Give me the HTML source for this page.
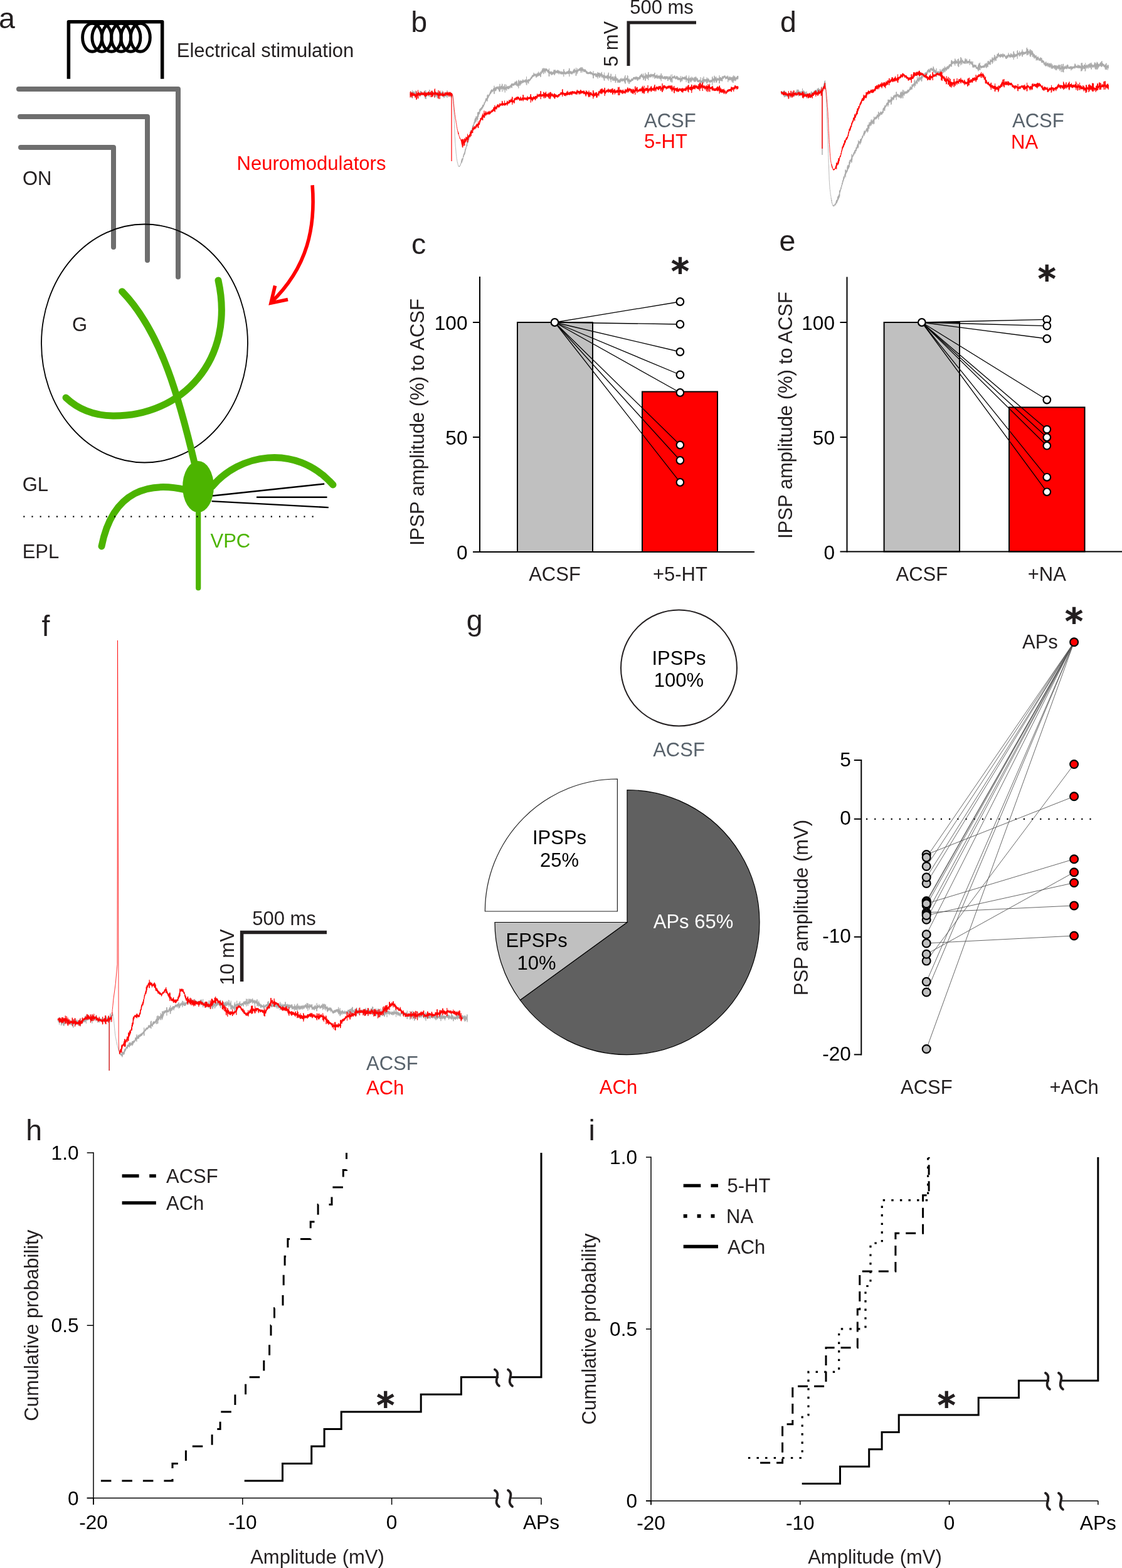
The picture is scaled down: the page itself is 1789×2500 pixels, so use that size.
<!DOCTYPE html>
<html lang="en"><head><meta charset="utf-8"><title>Figure</title>
<style>
html,body{margin:0;padding:0;background:#fff;}
body{width:1789px;height:2500px;overflow:hidden;}
svg{display:block;font-family:"Liberation Sans",Arial,Helvetica,sans-serif;}
</style></head><body>
<svg width="1789" height="2500" viewBox="0 0 1789 2500">
<rect width="1789" height="2500" fill="#ffffff"/>
<text x="-2" y="45.3" font-size="46.5" fill="#231f20" text-anchor="start">a</text>
<path d="M109.4 125.8 V34.8 H258.7 V125.8" stroke="#000" stroke-width="5.5" fill="none" stroke-linejoin="round"/>
<ellipse cx="147.1" cy="59.8" rx="15.5" ry="22.4" fill="none" stroke="#000" stroke-width="4.9"/>
<ellipse cx="162.4" cy="59.8" rx="15.5" ry="22.4" fill="none" stroke="#000" stroke-width="4.9"/>
<ellipse cx="177.8" cy="59.8" rx="15.5" ry="22.4" fill="none" stroke="#000" stroke-width="4.9"/>
<ellipse cx="193.1" cy="59.8" rx="15.5" ry="22.4" fill="none" stroke="#000" stroke-width="4.9"/>
<ellipse cx="208.4" cy="59.8" rx="15.5" ry="22.4" fill="none" stroke="#000" stroke-width="4.9"/>
<ellipse cx="223.8" cy="59.8" rx="15.5" ry="22.4" fill="none" stroke="#000" stroke-width="4.9"/>
<text x="281.8" y="91.3" font-size="31.0" fill="#231f20" text-anchor="start">Electrical stimulation</text>
<path d="M30 142 H284 V441.5" stroke="#6e6e6e" stroke-width="8" fill="none" stroke-linecap="round" stroke-linejoin="round"/>
<path d="M32 186 H235 V415" stroke="#6e6e6e" stroke-width="8" fill="none" stroke-linecap="round" stroke-linejoin="round"/>
<path d="M33 235 H181 V394" stroke="#6e6e6e" stroke-width="8" fill="none" stroke-linecap="round" stroke-linejoin="round"/>
<text x="36" y="294.5" font-size="31.0" fill="#231f20" text-anchor="start">ON</text>
<text x="377.6" y="270.9" font-size="31.0" fill="#ff0000" text-anchor="start">Neuromodulators</text>
<path d="M498.1 295.3 C503 360 492 425 432 482.5" stroke="#ff0000" stroke-width="5.6" fill="none"/>
<path d="M438.6 455.5 L432 483.2 L459 477.4" stroke="#ff0000" stroke-width="5.6" fill="none" stroke-linejoin="miter"/>
<ellipse cx="230.5" cy="547.5" rx="164.5" ry="190" fill="none" stroke="#000" stroke-width="1.8"/>
<text x="115" y="528" font-size="31.0" fill="#231f20" text-anchor="start">G</text>
<path d="M194.6 464.7 C258 530 287 640 311 742" stroke="#4cb400" stroke-width="11" fill="none" stroke-linecap="round" stroke-linejoin="round"/>
<path d="M348 447 C376 574 290 664 180 663 C150 662.5 125 653 105 634" stroke="#4cb400" stroke-width="11" fill="none" stroke-linecap="round" stroke-linejoin="round"/>
<path d="M338 776 C380 725 470 705 531 773" stroke="#4cb400" stroke-width="11" fill="none" stroke-linecap="round" stroke-linejoin="round"/>
<path d="M296 781 C240 768 180 780 162 871" stroke="#4cb400" stroke-width="11" fill="none" stroke-linecap="round" stroke-linejoin="round"/>
<path d="M316.2 800 V937.5" stroke="#4cb400" stroke-width="8.2" fill="none" stroke-linecap="round" stroke-linejoin="round"/>
<ellipse cx="316" cy="776" rx="24.9" ry="41" fill="#4cb400"/>
<line x1="339" y1="790.5" x2="517.2" y2="771.5" stroke="#000" stroke-width="2.4"/>
<line x1="409" y1="792.8" x2="521.5" y2="792.8" stroke="#000" stroke-width="2.4"/>
<line x1="337.6" y1="799.1" x2="523.8" y2="809.1" stroke="#000" stroke-width="2.4"/>
<line x1="37.3" y1="823.6" x2="502" y2="823.6" stroke="#000" stroke-width="2.1" stroke-dasharray="2.1 11.05"/>
<text x="35.7" y="782.6" font-size="31.0" fill="#231f20" text-anchor="start">GL</text>
<text x="35.7" y="889.6" font-size="31.0" fill="#231f20" text-anchor="start">EPL</text>
<text x="335.5" y="873" font-size="31.0" fill="#4cb400" text-anchor="start">VPC</text>
<text x="655.3" y="50.8" font-size="46.5" fill="#231f20" text-anchor="start">b</text>
<path d="M1002 105 V36 H1110" stroke="#231f20" stroke-width="5" fill="none"/>
<text x="1055" y="21.5" font-size="31.0" fill="#231f20" text-anchor="middle">500 ms</text>
<text x="985" y="70" font-size="31.0" fill="#231f20" text-anchor="middle" transform="rotate(-90 985 70)">5 mV</text>
<polyline points="654,148.8 654.2,152.5 654.5,146.4 654.8,154.4 655,145.5 655.2,151.6 655.5,148.4 655.8,154.1 656,147.5 656.2,151.5 656.5,148.7 656.8,151.3 657,148.2 657.2,156.7 657.5,143.8 657.8,156.6 658,148.5 658.2,150.5 658.5,146.3 658.8,149.9 659,146.5 659.2,149.8 659.5,146.5 659.8,148.7 660,145.6 660.2,148.9 660.5,146.5 660.8,149.2 661,147.4 661.2,150 661.5,148 661.8,150.7 662,148.2 662.2,151.8 662.5,144.7 662.8,154.5 663,144.8 663.2,151.5 663.5,148.1 663.8,150.6 664,147.8 664.2,152.1 664.5,148.6 664.8,152.2 665,149.8 665.2,152.1 665.5,148.8 665.8,153 666,148.5 666.2,151.6 666.5,149.1 666.8,151.8 667,148.3 667.2,151.2 667.5,147.8 667.8,151.7 668,149.5 668.2,152.4 668.5,148.3 668.8,153.4 669,147.9 669.2,151.4 669.5,145.3 669.8,154.5 670,145.1 670.2,150.4 670.5,148.5 670.8,151.1 671,146.5 671.2,152.4 671.5,145 671.8,151.5 672,146.3 672.2,151.3 672.5,147.9 672.8,151.7 673,147.2 673.2,151.7 673.5,148 673.8,151.7 674,148.8 674.2,151.7 674.5,149.4 674.8,151.6 675,148.8 675.2,151.6 675.5,148.3 675.8,150.9 676,146.9 676.2,151.2 676.5,145.4 676.8,153.1 677,147.6 677.2,152.4 677.5,149.8 677.8,156.9 678,143.8 678.2,156.3 678.5,149.7 678.8,157.8 679,144.5 679.2,158 679.5,149.6 679.8,153.6 680,150 680.2,152.2 680.5,148.4 680.8,153.6 681,147.4 681.2,152.1 681.5,148.4 681.8,152.1 682,148.3 682.2,151.9 682.5,149.1 682.8,152.5 683,148.8 683.2,153.5 683.5,146.7 683.8,152.5 684,148.5 684.2,150.3 684.5,143.2 684.8,154.6 685,143 685.2,152 685.5,148.7 685.8,150.4 686,148 686.2,150.7 686.5,146.8 686.8,149.4 687,147.5 687.2,150.1 687.5,147.9 687.8,150.7 688,148.1 688.2,150.4 688.5,146.8 688.8,150.2 689,147.5 689.2,151.7 689.5,148.3 689.8,153.9 690,145.5 690.2,153.9 690.5,147.3 690.8,151.5 691,148.9 691.2,151.2 691.5,148.4 691.8,151.1 692,149.1 692.2,152.6 692.5,145.5 692.8,156 693,147.1 693.2,152.7 693.5,147.8 693.8,152.2 694,149.4 694.2,152.1 694.5,149.6 694.8,153.1 695,149 695.2,154.4 695.5,150.1 695.8,153.2 696,149.5 696.2,152 696.5,149.5 696.8,154.5 697,146.6 697.2,156.7 697.5,150.1 697.8,151.6 698,147.2 698.2,152.1 698.5,146.8 698.8,151.6 699,148 699.2,151.5 699.5,148.1 699.8,152.5 700,148.1 700.2,152.3 700.5,146.3 700.8,152 701,146.7 701.2,150.7 701.5,147.3 701.8,150.2 702,146.7 702.2,150.4 702.5,147.3 702.8,149.3 703,147.4 703.2,149.7 703.5,147.2 703.8,150.4 704,147.3 704.2,151 704.5,148.3 704.8,153.7 705,144.5 705.2,153.8 705.5,147.7 705.8,151.2 706,148.8 706.2,152.5 706.5,149.1 706.8,152.8 707,150 707.2,154.5 707.5,148.5 707.8,156.3 708,150.9 708.2,154.8 708.5,147.6 708.8,155.3 709,150.1 709.2,152.6 709.5,148.9 709.8,153 710,150.1 710.2,153.5 710.5,149.5 710.8,154 711,149.3 711.2,153.4 711.5,149.5 711.8,152.5 712,149.2 712.2,152.2 712.5,148.8 712.8,155.6 713,144.1 713.2,155.3 713.5,148.4 713.8,152.2 714,148.6 714.2,151.1 714.5,148.4 714.8,151.6 715,148.3 715.2,151 715.5,148.9 715.8,152.3 716,149.3 716.2,151.7 716.5,148.3 716.8,151.9 717,149 717.2,153.3 717.5,149.6 717.8,152.7 718,149.6 718.2,154.3 718.5,149.5 718.8,152.8 719,150.3 719.2,155.6 719.5,147.8 719.8,155.1 720,149.8 720.2,153.5 720.5,150.4 720.8,151.7 721,150.9 721.2,151.8 721.5,151.1 721.8,152.5 722,151.9 722.2,153.7 722.5,155.1 722.8,160.2 723,161.6 723.2,169.5 723.5,172.6 723.8,179.7 724,185.5 724.2,192.5 724.5,198.3 724.8,205.6 725,210.3 725.2,217.6 725.5,221 725.8,227 726,229.5 726.2,233.3 726.5,235.4 726.8,239 727,241.3 727.2,244.4 727.5,246.5 727.8,249.5 728,251 728.2,253.9 728.5,254 728.8,256.6 729,257.2 729.2,259 729.5,259 729.8,260.8 730,261.1 730.2,262.8 730.5,262.9 730.8,264.3 731,264.3 731.2,265.2 731.5,264.8 731.8,265.7 732,265.3 732.2,266 732.5,265.1 732.8,265.8 733,264.5 733.2,264.8 733.5,263.6 733.8,263.8 734,262.5 734.2,263.3 734.5,261.2 734.8,261.4 735,259.9 735.2,260.6 735.5,257.1 735.8,259.3 736,254.9 736.2,259.4 736.5,252.8 736.8,258.2 737,254.5 737.2,256 737.5,252.9 737.8,255.5 738,251.9 738.2,253.3 738.5,248.9 738.8,250.5 739,247.4 739.2,250 739.5,245 739.8,248 740,244.7 740.2,247 740.5,243.5 740.8,245.7 741,241.6 741.2,245.3 741.5,238.1 741.8,242.5 742,237.8 742.2,239.8 742.5,236.2 742.8,238.2 743,234.9 743.2,236.3 743.5,233 743.8,234.2 744,230.2 744.2,233.3 744.5,227.4 744.8,232.6 745,225.9 745.2,229 745.5,225.7 745.8,228.1 746,224.2 746.2,227.5 746.5,222.8 746.8,225.9 747,221.1 747.2,224.1 747.5,219.2 747.8,222.2 748,217.1 748.2,220.6 748.5,216.3 748.8,218.7 749,214.4 749.2,217.2 749.5,212.4 749.8,215.3 750,210.9 750.2,213.2 750.5,209.7 750.8,211.9 751,207.9 751.2,211.1 751.5,207 751.8,210.9 752,207.3 752.2,208.3 752.5,204.9 752.8,207 753,204.1 753.2,206.2 753.5,200.9 753.8,204.4 754,199.8 754.2,202.2 754.5,199.8 754.8,202 755,198.1 755.2,201.8 755.5,196 755.8,198.5 756,194.6 756.2,197.3 756.5,193.4 756.8,196.9 757,190.6 757.2,195.5 757.5,189.1 757.8,195.4 758,187.9 758.2,192.6 758.5,188.8 758.8,194.4 759,185.3 759.2,193.6 759.5,188 759.8,190.1 760,186.6 760.2,190.2 760.5,186.3 760.8,188.7 761,184.9 761.2,192.2 761.5,179.1 761.8,190.7 762,181 762.2,186.4 762.5,178.3 762.8,186.2 763,179.4 763.2,183.1 763.5,179.1 763.8,182.1 764,178.2 764.2,182.2 764.5,174.4 764.8,180.9 765,176.5 765.2,178.3 765.5,173.1 765.8,177.2 766,172.8 766.2,176.9 766.5,172.4 766.8,176 767,173.2 767.2,175.4 767.5,171.1 767.8,174.5 768,171.3 768.2,174.7 768.5,169.8 768.8,173.6 769,169.8 769.2,172.2 769.5,167.2 769.8,172.5 770,166.9 770.2,171 770.5,167.2 770.8,169.8 771,167.5 771.2,169.8 771.5,165.8 771.8,167.8 772,163.4 772.2,167.2 772.5,164.1 772.8,165.8 773,162.6 773.2,163.9 773.5,161.1 773.8,163.7 774,159.7 774.2,162.2 774.5,156.8 774.8,160.4 775,158.2 775.2,161.3 775.5,156.7 775.8,161 776,157.4 776.2,159.8 776.5,156.3 776.8,158.3 777,151.7 777.2,161.7 777.5,150.7 777.8,157.4 778,152.2 778.2,156.3 778.5,153.2 778.8,155.6 779,151.4 779.2,154.2 779.5,150.9 779.8,153.4 780,150.6 780.2,152.6 780.5,149.7 780.8,152 781,148.3 781.2,150.7 781.5,146.2 781.8,149.8 782,146.6 782.2,149.8 782.5,144 782.8,148.8 783,145 783.2,148.2 783.5,142.9 783.8,147 784,142.6 784.2,145.9 784.5,142.8 784.8,145.6 785,143.8 785.2,146.9 785.5,143.5 785.8,146 786,143.5 786.2,145.1 786.5,140.9 786.8,144.5 787,141.5 787.2,144.1 787.5,140.6 787.8,149.6 788,136.7 788.2,149.6 788.5,139.7 788.8,145 789,139.7 789.2,143.9 789.5,140.9 789.8,144.9 790,139.5 790.2,145.5 790.5,139.1 790.8,144.4 791,138.4 791.2,143.8 791.5,139 791.8,141.8 792,139.2 792.2,141.8 792.5,138 792.8,140.5 793,137.7 793.2,141.3 793.5,139 793.8,141.6 794,138.7 794.2,142.2 794.5,139.4 794.8,142.9 795,137.9 795.2,142.3 795.5,140.4 795.8,145.6 796,137 796.2,144.5 796.5,138.9 796.8,146.5 797,133.8 797.2,145.8 797.5,138.4 797.8,141.5 798,139.3 798.2,142.9 798.5,137.5 798.8,141.5 799,137.8 799.2,140.7 799.5,137.3 799.8,142.3 800,136.5 800.2,140.3 800.5,133.6 800.8,146.3 801,134.3 801.2,141.6 801.5,138.5 801.8,141.5 802,138.2 802.2,142 802.5,138.3 802.8,142.1 803,137.5 803.2,144.2 803.5,136.8 803.8,142.1 804,139.1 804.2,142.1 804.5,139 804.8,142.6 805,134.4 805.2,147.5 805.5,134.5 805.8,142.6 806,140.2 806.2,142.7 806.5,138.9 806.8,141.6 807,138.4 807.2,143.6 807.5,135 807.8,144.6 808,138.1 808.2,140.3 808.5,138 808.8,141.1 809,137.6 809.2,141.3 809.5,138.2 809.8,142 810,137.3 810.2,141.4 810.5,138.2 810.8,142 811,137.1 811.2,142.3 811.5,138 811.8,140 812,137.5 812.2,140.1 812.5,137.7 812.8,139.6 813,136.4 813.2,141.1 813.5,136.2 813.8,139.8 814,135.9 814.2,139 814.5,135.2 814.8,137.6 815,134.5 815.2,138.1 815.5,133.4 815.8,140 816,133.1 816.2,140.3 816.5,134.9 816.8,136.3 817,133.2 817.2,136.2 817.5,133.2 817.8,136.8 818,133.4 818.2,136.3 818.5,133.4 818.8,135.9 819,133.5 819.2,136.9 819.5,133 819.8,135.5 820,132.5 820.2,135.1 820.5,131.9 820.8,135.7 821,130.3 821.2,134.9 821.5,131.8 821.8,134.8 822,130.5 822.2,135.7 822.5,130 822.8,133.7 823,131.2 823.2,136.2 823.5,128.5 823.8,136.9 824,129.3 824.2,135.2 824.5,130.7 824.8,135.4 825,133.9 825.2,138 825.5,133.5 825.8,137.2 826,133.8 826.2,137.4 826.5,128.4 826.8,140.8 827,127.2 827.2,135.6 827.5,130 827.8,136.8 828,129.6 828.2,134.6 828.5,130.6 828.8,134.6 829,129.1 829.2,136.8 829.5,127.9 829.8,133.6 830,129.2 830.2,135.1 830.5,128.9 830.8,132.6 831,130 831.2,134 831.5,128.7 831.8,131.7 832,129.2 832.2,132 832.5,128.8 832.8,131.8 833,128.9 833.2,132.8 833.5,126.8 833.8,132.1 834,126.7 834.2,131.4 834.5,128.1 834.8,131.2 835,128.7 835.2,131.3 835.5,129.2 835.8,131.2 836,128 836.2,130.8 836.5,127.2 836.8,130.3 837,128.4 837.2,131 837.5,128.2 837.8,130.8 838,126.8 838.2,132.1 838.5,127.1 838.8,130.7 839,126 839.2,134.6 839.5,122 839.8,135.8 840,127.9 840.2,130.8 840.5,128 840.8,130.6 841,127.7 841.2,130 841.5,126.8 841.8,132.1 842,127.5 842.2,133.2 842.5,126.2 842.8,133.2 843,128.2 843.2,129.5 843.5,127 843.8,129.4 844,126.2 844.2,129.3 844.5,126.8 844.8,129.1 845,125.5 845.2,128.1 845.5,124.9 845.8,127.7 846,124.9 846.2,126.9 846.5,122.8 846.8,125.9 847,123.1 847.2,125.7 847.5,122.9 847.8,124.6 848,121.3 848.2,124.9 848.5,119.9 848.8,123.2 849,120.1 849.2,123.1 849.5,119.9 849.8,122.8 850,119.3 850.2,121.9 850.5,118.8 850.8,121 851,115.9 851.2,122.2 851.5,118 851.8,120.5 852,117.7 852.2,121.3 852.5,118 852.8,120.3 853,117.5 853.2,120.9 853.5,118.3 853.8,120.1 854,118.3 854.2,121.7 854.5,118.8 854.8,123.5 855,117.4 855.2,123.5 855.5,118.8 855.8,121.6 856,118.8 856.2,121.4 856.5,117.2 856.8,122.3 857,117 857.2,121.8 857.5,116.7 857.8,120 858,115.7 858.2,121.3 858.5,114.2 858.8,121.1 859,116.7 859.2,120.2 859.5,117.1 859.8,121 860,116.6 860.2,120 860.5,115.7 860.8,120.1 861,118.2 861.2,120.4 861.5,117.5 861.8,122.8 862,114.2 862.2,122.4 862.5,115.6 862.8,118.2 863,114.2 863.2,117.8 863.5,113.6 863.8,115.7 864,111.9 864.2,115 864.5,111 864.8,114.1 865,108.9 865.2,116.6 865.5,110.3 865.8,114.8 866,111.6 866.2,114.6 866.5,108.9 866.8,118.1 867,108.4 867.2,113.3 867.5,110.5 867.8,113.4 868,110.4 868.2,114.2 868.5,109.2 868.8,115.4 869,108.8 869.2,116.6 869.5,110.2 869.8,112.9 870,109.7 870.2,113.5 870.5,109.8 870.8,113.5 871,109 871.2,112 871.5,109.7 871.8,112.8 872,109.9 872.2,113.5 872.5,110.3 872.8,114.2 873,112.3 873.2,114.9 873.5,111.6 873.8,115.6 874,112.5 874.2,116.3 874.5,111 874.8,116.5 875,113 875.2,121.8 875.5,109 875.8,121.9 876,113.9 876.2,117.7 876.5,114.2 876.8,116.9 877,113.6 877.2,117.5 877.5,114.8 877.8,117.8 878,114.8 878.2,118.5 878.5,114.3 878.8,116.6 879,114.4 879.2,119.2 879.5,113.6 879.8,120.1 880,115 880.2,118.5 880.5,115.4 880.8,118.8 881,116.1 881.2,118.6 881.5,114.3 881.8,117.8 882,115.1 882.2,117.9 882.5,114.5 882.8,116.7 883,111.6 883.2,118.5 883.5,111.8 883.8,119 884,111.3 884.2,120.1 884.5,112.7 884.8,116.3 885,112 885.2,118.1 885.5,111.2 885.8,116.7 886,113.1 886.2,116 886.5,113.3 886.8,116.2 887,113.1 887.2,115.8 887.5,112.8 887.8,116.7 888,112.5 888.2,116 888.5,112.6 888.8,115.6 889,112.4 889.2,117.1 889.5,111.3 889.8,117 890,112.4 890.2,116.8 890.5,113.5 890.8,115.8 891,112.6 891.2,118.6 891.5,112.8 891.8,116.4 892,114 892.2,117 892.5,113.5 892.8,117 893,114.8 893.2,117.2 893.5,115 893.8,117.8 894,113.6 894.2,118.5 894.5,114.9 894.8,117.6 895,113.6 895.2,117.9 895.5,114.9 895.8,118 896,115.2 896.2,118.6 896.5,114.5 896.8,118.7 897,114.6 897.2,117.3 897.5,114.9 897.8,117.9 898,114.8 898.2,118.1 898.5,111.3 898.8,122.2 899,110.1 899.2,118.2 899.5,114.6 899.8,118.1 900,115.4 900.2,118.2 900.5,113.4 900.8,117.2 901,115 901.2,117.7 901.5,115.4 901.8,118.7 902,116 902.2,118.6 902.5,115.7 902.8,117.8 903,114.4 903.2,117.8 903.5,113.9 903.8,117.5 904,114.6 904.2,117.8 904.5,114.1 904.8,116.4 905,113.5 905.2,116.3 905.5,113.6 905.8,117.9 906,113.9 906.2,116.4 906.5,112.8 906.8,118.2 907,111.7 907.2,117.8 907.5,108.8 907.8,122.1 908,109.3 908.2,117.2 908.5,113.7 908.8,116.8 909,113.2 909.2,117.3 909.5,113.9 909.8,117.4 910,113.8 910.2,117 910.5,113.6 910.8,118.3 911,113.6 911.2,117.6 911.5,115.3 911.8,117.5 912,114.4 912.2,118.6 912.5,114.7 912.8,117.6 913,114.1 913.2,116.7 913.5,113.2 913.8,115.8 914,112.2 914.2,116.1 914.5,111.5 914.8,115.3 915,110.7 915.2,117.2 915.5,109.9 915.8,116.3 916,109.5 916.2,115.6 916.5,111 916.8,114.9 917,111.7 917.2,114.6 917.5,112.1 917.8,115 918,112.6 918.2,120.8 918.5,107.9 918.8,120.5 919,111.9 919.2,115.5 919.5,111.7 919.8,114.7 920,112 920.2,118.1 920.5,108.8 920.8,116.2 921,111.1 921.2,114 921.5,111.1 921.8,114.4 922,110.7 922.2,112.7 922.5,110.1 922.8,112.5 923,109.9 923.2,112.9 923.5,109.6 923.8,112.9 924,109.4 924.2,111.6 924.5,108.4 924.8,112.6 925,109.5 925.2,112.8 925.5,108.8 925.8,113.3 926,107.3 926.2,116.1 926.5,107.7 926.8,113 927,110 927.2,113.1 927.5,109.1 927.8,112.9 928,107.2 928.2,115.6 928.5,107.2 928.8,113.1 929,109.1 929.2,112 929.5,109.7 929.8,113 930,109.7 930.2,113.5 930.5,110.7 930.8,114.7 931,110.3 931.2,114.9 931.5,111.6 931.8,114.2 932,111.5 932.2,114.2 932.5,110.7 932.8,114.3 933,110.3 933.2,114.5 933.5,111.2 933.8,114.9 934,112.4 934.2,115.6 934.5,112.3 934.8,116.7 935,113 935.2,116.7 935.5,113.9 935.8,117.8 936,114.2 936.2,117.9 936.5,113.9 936.8,117.3 937,115 937.2,117.5 937.5,115.6 937.8,118.3 938,115.7 938.2,117.7 938.5,115 938.8,117.9 939,115.1 939.2,116.8 939.5,115.1 939.8,118.1 940,115.2 940.2,117.5 940.5,114.1 940.8,117.4 941,114.8 941.2,117.4 941.5,113.7 941.8,117.7 942,114.6 942.2,118.9 942.5,115.2 942.8,118 943,115.4 943.2,117.6 943.5,114.9 943.8,118.3 944,116.1 944.2,118.7 944.5,116.5 944.8,119.8 945,117.6 945.2,120.2 945.5,116.7 945.8,124.7 946,113.3 946.2,124.8 946.5,117.3 946.8,119.9 947,117.4 947.2,120.4 947.5,117 947.8,120.1 948,117.6 948.2,119.6 948.5,117.2 948.8,120.3 949,117.3 949.2,120.1 949.5,117.8 949.8,122 950,116.6 950.2,122.9 950.5,118.9 950.8,121.8 951,117.5 951.2,121 951.5,117.9 951.8,123.2 952,117.9 952.2,122.6 952.5,117.6 952.8,120 953,114.9 953.2,125.3 953.5,115.9 953.8,121.8 954,116 954.2,122.1 954.5,116.6 954.8,120 955,116.1 955.2,121.3 955.5,116.7 955.8,124.1 956,115.9 956.2,123.9 956.5,118.5 956.8,122.3 957,117.2 957.2,121.4 957.5,118.3 957.8,121.5 958,116.9 958.2,121.1 958.5,118.2 958.8,120.7 959,115.5 959.2,123.7 959.5,114.8 959.8,121.7 960,118.9 960.2,122.7 960.5,118.1 960.8,122.8 961,119.8 961.2,123.7 961.5,121.1 961.8,125.2 962,119.7 962.2,123.6 962.5,119.6 962.8,122.5 963,119.5 963.2,128 963.5,115.7 963.8,128.7 964,119.9 964.2,123.6 964.5,120.7 964.8,123.4 965,121.2 965.2,125 965.5,121.9 965.8,124.9 966,120.6 966.2,124.2 966.5,121.8 966.8,124.2 967,121.3 967.2,124.2 967.5,120.7 967.8,125.2 968,120.8 968.2,124.9 968.5,120.2 968.8,126.5 969,119.1 969.2,123.6 969.5,121.2 969.8,125.5 970,116.4 970.2,128.6 970.5,115.7 970.8,124.3 971,121.6 971.2,124.8 971.5,122.2 971.8,124.2 972,121.8 972.2,125.2 972.5,122.2 972.8,125.5 973,120.9 973.2,127.5 973.5,121.1 973.8,126.6 974,117.6 974.2,131.1 974.5,118.1 974.8,125.9 975,122.7 975.2,126.1 975.5,122.8 975.8,126.2 976,124 976.2,126.7 976.5,122 976.8,128.6 977,125.6 977.2,127.4 977.5,121.8 977.8,129.3 978,122.6 978.2,128 978.5,125.6 978.8,127.7 979,124.5 979.2,127.5 979.5,124 979.8,128.9 980,121.5 980.2,129 980.5,122.3 980.8,127.2 981,124.9 981.2,131.9 981.5,118.5 981.8,131.7 982,124.4 982.2,128.6 982.5,122.4 982.8,128.8 983,124.4 983.2,127.2 983.5,124.8 983.8,127.9 984,125.1 984.2,128.9 984.5,126.5 984.8,131.3 985,124.8 985.2,132.1 985.5,127.4 985.8,130.2 986,127.4 986.2,130.2 986.5,126.9 986.8,131.6 987,127.9 987.2,130.7 987.5,127.8 987.8,131.9 988,126.6 988.2,132 988.5,127.2 988.8,130.4 989,125.8 989.2,131.1 989.5,126.7 989.8,128.9 990,125 990.2,129.5 990.5,124.1 990.8,128.7 991,126.6 991.2,128.7 991.5,126.1 991.8,129.5 992,126.5 992.2,130.1 992.5,124.8 992.8,129 993,126.1 993.2,129.1 993.5,125.7 993.8,128.4 994,125.2 994.2,129.5 994.5,126 994.8,128.3 995,125.4 995.2,128.5 995.5,124.8 995.8,131.3 996,122.1 996.2,130.8 996.5,125.7 996.8,133.4 997,119.9 997.2,133.2 997.5,126 997.8,127.7 998,125.1 998.2,127.4 998.5,125 998.8,127.2 999,123.9 999.2,127.4 999.5,124.6 999.8,127.7 1000,124.4 1000.2,129.1 1000.5,120 1000.8,131.5 1001,121 1001.2,128.5 1001.5,126.6 1001.8,129.9 1002,127.3 1002.2,130.1 1002.5,126.1 1002.8,133.3 1003,125.2 1003.2,134 1003.5,126.9 1003.8,130 1004,127.3 1004.2,131.2 1004.5,127.9 1004.8,130.8 1005,127.1 1005.2,131.2 1005.5,127.6 1005.8,131 1006,127 1006.2,130 1006.5,126.3 1006.8,129.5 1007,125 1007.2,128.8 1007.5,126.4 1007.8,128.7 1008,126.6 1008.2,128.8 1008.5,125.4 1008.8,129 1009,125.3 1009.2,127.9 1009.5,124.2 1009.8,127.1 1010,123.1 1010.2,126.4 1010.5,122.9 1010.8,125.2 1011,123.3 1011.2,125.4 1011.5,123.5 1011.8,126.6 1012,122.7 1012.2,126.2 1012.5,123.2 1012.8,126.6 1013,123.5 1013.2,126.8 1013.5,122.8 1013.8,126.9 1014,121.9 1014.2,126.3 1014.5,123.9 1014.8,126.2 1015,122.2 1015.2,125.9 1015.5,122.6 1015.8,126.9 1016,123.6 1016.2,128.8 1016.5,122.8 1016.8,128.5 1017,124 1017.2,125.8 1017.5,123.2 1017.8,127.6 1018,123.6 1018.2,125.8 1018.5,123.1 1018.8,126.3 1019,123.1 1019.2,125.2 1019.5,122.1 1019.8,126.5 1020,121.1 1020.2,124.8 1020.5,120.4 1020.8,126.2 1021,120.5 1021.2,124.6 1021.5,120.4 1021.8,122.4 1022,118.7 1022.2,122.4 1022.5,118.5 1022.8,121.9 1023,119.5 1023.2,122.5 1023.5,117.4 1023.8,123.2 1024,119.1 1024.2,123.6 1024.5,121 1024.8,123.5 1025,120 1025.2,124.3 1025.5,120.8 1025.8,127.5 1026,117.4 1026.2,127.2 1026.5,122 1026.8,124.4 1027,121.4 1027.2,124.7 1027.5,121.3 1027.8,123.4 1028,120.7 1028.2,125.4 1028.5,121.7 1028.8,128.6 1029,116.1 1029.2,128.5 1029.5,120.8 1029.8,122.6 1030,118.9 1030.2,124.7 1030.5,118.5 1030.8,123.1 1031,119.3 1031.2,122.9 1031.5,120.1 1031.8,125.8 1032,118.7 1032.2,125.4 1032.5,120 1032.8,123.4 1033,120 1033.2,123 1033.5,115.3 1033.8,127.9 1034,114.9 1034.2,122.1 1034.5,118.5 1034.8,124.1 1035,119.1 1035.2,122.5 1035.5,119.5 1035.8,121.9 1036,119.7 1036.2,123.1 1036.5,118.6 1036.8,122.9 1037,119.5 1037.2,121.8 1037.5,118.6 1037.8,123.6 1038,117.6 1038.2,122.6 1038.5,118.9 1038.8,122 1039,119.4 1039.2,121.7 1039.5,118.5 1039.8,121.6 1040,118.5 1040.2,121 1040.5,118.7 1040.8,121.6 1041,119 1041.2,124.3 1041.5,118.3 1041.8,121.7 1042,118.4 1042.2,121.5 1042.5,118.3 1042.8,122.1 1043,118.7 1043.2,122.4 1043.5,116.8 1043.8,125.7 1044,115.9 1044.2,124.1 1044.5,120 1044.8,124 1045,120.8 1045.2,124.8 1045.5,120.4 1045.8,123.2 1046,120.4 1046.2,123.3 1046.5,119.9 1046.8,124.4 1047,121 1047.2,123.4 1047.5,118.6 1047.8,125.4 1048,119.5 1048.2,123.8 1048.5,121.5 1048.8,124.2 1049,121.1 1049.2,125.6 1049.5,121.3 1049.8,124.4 1050,121.1 1050.2,123.5 1050.5,120 1050.8,123.7 1051,120.8 1051.2,125.4 1051.5,121.1 1051.8,125.3 1052,122.4 1052.2,125.3 1052.5,120.2 1052.8,126.5 1053,120.1 1053.2,124.7 1053.5,121.2 1053.8,126 1054,117.3 1054.2,129.3 1054.5,117.2 1054.8,124.7 1055,121.6 1055.2,124.7 1055.5,121 1055.8,125.1 1056,120.3 1056.2,125.3 1056.5,120.5 1056.8,124.7 1057,122.8 1057.2,126 1057.5,123.4 1057.8,125.9 1058,122.9 1058.2,124.9 1058.5,122.1 1058.8,125.3 1059,121.7 1059.2,126.3 1059.5,121.6 1059.8,124.8 1060,122.2 1060.2,125 1060.5,121.7 1060.8,126.7 1061,122.4 1061.2,126.6 1061.5,122.4 1061.8,125.8 1062,121.5 1062.2,124.9 1062.5,121.6 1062.8,125.6 1063,121.8 1063.2,125.7 1063.5,122.4 1063.8,125.1 1064,122.9 1064.2,125.9 1064.5,122.2 1064.8,129.1 1065,121.5 1065.2,129 1065.5,124.1 1065.8,126.4 1066,124 1066.2,126 1066.5,122.5 1066.8,125.8 1067,123.7 1067.2,126.9 1067.5,121.6 1067.8,126.9 1068,122.2 1068.2,126.8 1068.5,122.1 1068.8,128.1 1069,122.3 1069.2,130.4 1069.5,119.3 1069.8,130.3 1070,124.2 1070.2,127.7 1070.5,124.1 1070.8,127.3 1071,124.1 1071.2,131.5 1071.5,118.5 1071.8,131.2 1072,122.8 1072.2,125 1072.5,122.2 1072.8,124.9 1073,122 1073.2,124.4 1073.5,121.8 1073.8,124.6 1074,122.1 1074.2,125.2 1074.5,121.4 1074.8,124.8 1075,121.2 1075.2,124 1075.5,120.3 1075.8,124.4 1076,120.7 1076.2,125.1 1076.5,122.8 1076.8,125.8 1077,122.8 1077.2,126.5 1077.5,122.8 1077.8,125.9 1078,123.1 1078.2,125.2 1078.5,121.7 1078.8,125.3 1079,121 1079.2,125.9 1079.5,121.8 1079.8,126.5 1080,121.6 1080.2,126.4 1080.5,123.7 1080.8,127.7 1081,122.6 1081.2,127.3 1081.5,123.5 1081.8,127.1 1082,124.4 1082.2,127.4 1082.5,123.9 1082.8,127.3 1083,124.7 1083.2,127.3 1083.5,124.1 1083.8,127 1084,124.1 1084.2,127.8 1084.5,125.1 1084.8,130.3 1085,121.2 1085.2,131.2 1085.5,125 1085.8,127.7 1086,125 1086.2,128.4 1086.5,124.2 1086.8,126.9 1087,124 1087.2,129.8 1087.5,121.5 1087.8,128.7 1088,123.4 1088.2,126.4 1088.5,123 1088.8,126.1 1089,123.1 1089.2,125.8 1089.5,122.7 1089.8,126.3 1090,123.7 1090.2,125.6 1090.5,123 1090.8,126.5 1091,123.3 1091.2,126.5 1091.5,122.1 1091.8,126.4 1092,122.8 1092.2,125.8 1092.5,122.6 1092.8,127.4 1093,123 1093.2,126.4 1093.5,123.6 1093.8,126.5 1094,120.6 1094.2,130.9 1094.5,120.5 1094.8,127.9 1095,124.1 1095.2,127.8 1095.5,124.2 1095.8,127.6 1096,125.6 1096.2,128 1096.5,125.7 1096.8,129.1 1097,126 1097.2,131.8 1097.5,123.5 1097.8,132.3 1098,125.5 1098.2,133 1098.5,120.6 1098.8,132.9 1099,125.5 1099.2,128 1099.5,124.8 1099.8,127 1100,124.9 1100.2,129.9 1100.5,123.7 1100.8,127.9 1101,126.2 1101.2,130.8 1101.5,123.8 1101.8,131.4 1102,125 1102.2,129.2 1102.5,125.5 1102.8,129.6 1103,122.3 1103.2,126.9 1103.5,124.1 1103.8,127.4 1104,123.8 1104.2,128.5 1104.5,123.9 1104.8,126.3 1105,124.3 1105.2,127.3 1105.5,125.7 1105.8,128.1 1106,125.1 1106.2,129.8 1106.5,125.8 1106.8,128.4 1107,123.1 1107.2,130.6 1107.5,123.8 1107.8,129.1 1108,125.1 1108.2,130.1 1108.5,122.2 1108.8,130.5 1109,123.7 1109.2,129.6 1109.5,124.1 1109.8,127.2 1110,122.4 1110.2,127.1 1110.5,124.4 1110.8,128.7 1111,125.2 1111.2,127.9 1111.5,125.8 1111.8,130 1112,124.4 1112.2,131 1112.5,125.5 1112.8,130.7 1113,127.7 1113.2,131 1113.5,127.5 1113.8,130.8 1114,128 1114.2,130.5 1114.5,128.1 1114.8,131.4 1115,127.6 1115.2,129.9 1115.5,127 1115.8,129.5 1116,126.9 1116.2,130.8 1116.5,127.9 1116.8,136.3 1117,123.1 1117.2,135.9 1117.5,128.6 1117.8,131.1 1118,128.9 1118.2,131.6 1118.5,129 1118.8,131.1 1119,128.1 1119.2,130.9 1119.5,128.5 1119.8,135.2 1120,124.3 1120.2,133.7 1120.5,127.4 1120.8,130.1 1121,127 1121.2,129.7 1121.5,125.8 1121.8,132.6 1122,122 1122.2,132.2 1122.5,125.9 1122.8,129.8 1123,126.2 1123.2,129.5 1123.5,126.3 1123.8,129.2 1124,126.6 1124.2,130.8 1124.5,126.8 1124.8,129.2 1125,126.7 1125.2,129.6 1125.5,126.2 1125.8,129.2 1126,126.7 1126.2,131 1126.5,126.1 1126.8,133.2 1127,123.5 1127.2,132.7 1127.5,126.1 1127.8,130 1128,127.3 1128.2,129.8 1128.5,125.5 1128.8,131.7 1129,124.5 1129.2,129.3 1129.5,126.5 1129.8,129.6 1130,126.8 1130.2,129.8 1130.5,126 1130.8,131 1131,128.5 1131.2,131.4 1131.5,128.2 1131.8,131.3 1132,127.8 1132.2,132.1 1132.5,128 1132.8,131.5 1133,128.2 1133.2,130.3 1133.5,127.3 1133.8,130 1134,127.2 1134.2,131.1 1134.5,128.3 1134.8,130.8 1135,128.2 1135.2,130.2 1135.5,122.9 1135.8,135.6 1136,122.2 1136.2,129.6 1136.5,125.4 1136.8,128.9 1137,125.2 1137.2,127.9 1137.5,125.6 1137.8,129 1138,125.6 1138.2,131.5 1138.5,125.3 1138.8,128.4 1139,120.7 1139.2,131.6 1139.5,121.3 1139.8,128.3 1140,123.3 1140.2,129 1140.5,122.9 1140.8,128.3 1141,125.6 1141.2,127.7 1141.5,124.8 1141.8,131.6 1142,122.2 1142.2,131.7 1142.5,125.8 1142.8,130.3 1143,124.5 1143.2,129.8 1143.5,125 1143.8,128.4 1144,125.5 1144.2,127.5 1144.5,124.5 1144.8,127.9 1145,124.6 1145.2,128.2 1145.5,126 1145.8,128.3 1146,125.2 1146.2,127.9 1146.5,124.6 1146.8,132.5 1147,120.2 1147.2,133 1147.5,123 1147.8,129.5 1148,123.5 1148.2,128.4 1148.5,123.7 1148.8,128.3 1149,122.9 1149.2,128.7 1149.5,123.8 1149.8,128 1150,124.2 1150.2,128.7 1150.5,124.5 1150.8,129.2 1151,124.3 1151.2,129.7 1151.5,121.5 1151.8,129.2 1152,123.5 1152.2,125.6 1152.5,122.6 1152.8,125.4 1153,121.6 1153.2,124.1 1153.5,121.8 1153.8,125.7 1154,121.6 1154.2,124 1154.5,121.1 1154.8,123.4 1155,120.5 1155.2,123.4 1155.5,121 1155.8,123.5 1156,120.4 1156.2,124.1 1156.5,122.7 1156.8,126.4 1157,123.7 1157.2,125.9 1157.5,122.2 1157.8,125.1 1158,121.8 1158.2,125.2 1158.5,122.6 1158.8,125.5 1159,122.4 1159.2,125.8 1159.5,122.4 1159.8,125.1 1160,121.3 1160.2,125.4 1160.5,120.5 1160.8,130.9 1161,122.2 1161.2,128 1161.5,124.6 1161.8,127.6 1162,124.8 1162.2,126.6 1162.5,124 1162.8,128.4 1163,122.2 1163.2,127.6 1163.5,123 1163.8,127 1164,121.9 1164.2,126.8 1164.5,123 1164.8,127.7 1165,123.9 1165.2,127.8 1165.5,124.2 1165.8,126.3 1166,123.2 1166.2,126.1 1166.5,122.9 1166.8,129 1167,123.7 1167.2,130.3 1167.5,123.1 1167.8,131.3 1168,122.9 1168.2,128.9 1168.5,125.5 1168.8,127.7 1169,121.1 1169.2,132.1 1169.5,120 1169.8,127.8 1170,122.5 1170.2,129.2 1170.5,122.5 1170.8,126.9 1171,122.4 1171.2,127.8 1171.5,120.8 1171.8,127.5 1172,122.4 1172.2,129.4 1172.5,124 1172.8,126.3 1173,123.8 1173.2,128.8 1173.5,123.9 1173.8,126.5 1174,123.4 1174.2,126.9 1174.5,122.8 1174.8,125.6 1175,122.7 1175.2,125.6 1175.5,121 1175.8,125.8 1176,121.6 1176.2,126.8 1176.5,120.9 1176.8,125.4 1177,121" fill="none" stroke="#a9a9a9" stroke-width="0.8"/>
<line x1="720" y1="150" x2="720" y2="257" stroke="#ff0000" stroke-width="1.2"/>
<polyline points="654,146.7 654.2,155.4 654.5,145.8 654.8,151.6 655,149 655.2,154.1 655.5,148.9 655.8,151.5 656,147.8 656.2,151.7 656.5,147.8 656.8,155.6 657,146.9 657.2,151.7 657.5,148.8 657.8,153 658,148.8 658.2,152.5 658.5,149.5 658.8,153.2 659,148.3 659.2,152 659.5,149.1 659.8,152.1 660,148.8 660.2,152.8 660.5,149.8 660.8,153 661,149.7 661.2,152.8 661.5,150.9 661.8,155.5 662,149.8 662.2,155.2 662.5,150.1 662.8,152.6 663,151.1 663.2,153.7 663.5,151.4 663.8,158.7 664,145.6 664.2,158.6 664.5,149.6 664.8,154.4 665,148.7 665.2,152.5 665.5,148.6 665.8,151.3 666,148.9 666.2,156.7 666.5,143.6 666.8,157.2 667,149 667.2,151.8 667.5,146.8 667.8,151.9 668,148.4 668.2,151.7 668.5,148.7 668.8,151.7 669,148.1 669.2,152.7 669.5,149.6 669.8,152.4 670,148.6 670.2,152.2 670.5,148.8 670.8,151.5 671,148.4 671.2,152 671.5,146.5 671.8,150.3 672,147.6 672.2,150.9 672.5,148.2 672.8,150.8 673,147.9 673.2,151 673.5,147.7 673.8,151.1 674,147.5 674.2,151.4 674.5,148.5 674.8,151.7 675,148.4 675.2,151.2 675.5,148.3 675.8,150.4 676,147.6 676.2,151.2 676.5,145.4 676.8,152.4 677,147 677.2,153.6 677.5,149.2 677.8,153.9 678,150.2 678.2,154.5 678.5,148 678.8,153.6 679,147.3 679.2,152.8 679.5,147.8 679.8,153.1 680,149 680.2,152.6 680.5,148 680.8,151 681,148.2 681.2,151 681.5,148.1 681.8,151.5 682,147.1 682.2,151 682.5,147.8 682.8,150.7 683,145.9 683.2,152.2 683.5,146.2 683.8,151 684,148.5 684.2,151.5 684.5,148 684.8,150.9 685,147.6 685.2,151.1 685.5,147 685.8,151.2 686,146.9 686.2,151.3 686.5,148 686.8,150.8 687,147.8 687.2,155 687.5,144.9 687.8,154.8 688,148.5 688.2,151.4 688.5,149 688.8,151.1 689,144.5 689.2,154.6 689.5,146 689.8,152.7 690,146.8 690.2,153.3 690.5,148.5 690.8,151.2 691,147.6 691.2,150.8 691.5,148 691.8,150.1 692,147.7 692.2,150.8 692.5,148.1 692.8,150.4 693,142.5 693.2,155.2 693.5,141.4 693.8,150.7 694,145.8 694.2,150.6 694.5,147.1 694.8,150.1 695,147 695.2,151.4 695.5,147.4 695.8,150.9 696,148.1 696.2,150.9 696.5,148.5 696.8,150.8 697,148 697.2,152 697.5,147.8 697.8,151.6 698,148.8 698.2,152.8 698.5,148.8 698.8,156.2 699,143.9 699.2,157.6 699.5,149.3 699.8,152.9 700,149.7 700.2,152.7 700.5,149.3 700.8,152.6 701,146 701.2,157.9 701.5,144.7 701.8,152 702,149.8 702.2,152.2 702.5,148.6 702.8,152.6 703,149.9 703.2,152.4 703.5,149.2 703.8,152.1 704,149.6 704.2,152.1 704.5,148.8 704.8,152.2 705,149.6 705.2,152.8 705.5,150 705.8,152.4 706,147.5 706.2,153.5 706.5,146.2 706.8,153.8 707,149.6 707.2,152.9 707.5,149.8 707.8,152.3 708,150.1 708.2,152.9 708.5,149.8 708.8,152.2 709,149.3 709.2,151.3 709.5,147.5 709.8,152.8 710,147.5 710.2,152.3 710.5,147.8 710.8,150.7 711,148.6 711.2,150.6 711.5,147.6 711.8,151 712,147.9 712.2,151.4 712.5,147.8 712.8,151.9 713,146.2 713.2,152.2 713.5,147.1 713.8,151.3 714,147.9 714.2,149.9 714.5,147.9 714.8,152.3 715,148.1 715.2,150.8 715.5,146.6 715.8,154.3 716,147 716.2,151.9 716.5,148.2 716.8,150.7 717,148.5 717.2,151.5 717.5,146.8 717.8,153.3 718,146.8 718.2,151.9 718.5,148.1 718.8,151.7 719,148.3 719.2,152.8 719.5,149.4 719.8,151.8 720,148 720.2,154 720.5,149.4 720.8,150.9 721,149.6 721.2,151.3 721.5,150.9 721.8,152.8 722,153.3 722.2,155.8 722.5,157 722.8,160 723,161.7 723.2,165.3 723.5,166 723.8,170 724,171.4 724.2,174.6 724.5,176.1 724.8,178.8 725,180.1 725.2,182.4 725.5,183.4 725.8,186 726,186.8 726.2,189.4 726.5,190 726.8,192.2 727,193 727.2,195.4 727.5,196.3 727.8,198.5 728,199.3 728.2,201.5 728.5,202.3 728.8,204.5 729,205.1 729.2,207 729.5,207 729.8,209.1 730,209.1 730.2,211 730.5,210 730.8,214 731,211.7 731.2,214.4 731.5,214.6 731.8,216.1 732,216.2 732.2,217.7 732.5,217.5 732.8,219.3 733,218.9 733.2,220.7 733.5,220 733.8,221.4 734,221.1 734.2,222.5 734.5,222.7 734.8,223.8 735,223.8 735.2,224.4 735.5,222.3 735.8,226.8 736,224.3 736.2,229.5 736.5,222.4 736.8,231.4 737,226.6 737.2,234.4 737.5,221.7 737.8,235.3 738,227.7 738.2,229.8 738.5,222.7 738.8,232.6 739,221.9 739.2,228.7 739.5,225.4 739.8,228.5 740,224.7 740.2,232.3 740.5,220.5 740.8,232 741,222 741.2,226.1 741.5,223.9 741.8,227.5 742,220.8 742.2,226.2 742.5,221.4 742.8,224.6 743,218.2 743.2,225.4 743.5,219.8 743.8,223 744,218.9 744.2,222.8 744.5,219.6 744.8,222.1 745,218.6 745.2,226.8 745.5,213.6 745.8,226.3 746,217.7 746.2,220.5 746.5,216 746.8,223 747,216.1 747.2,219.8 747.5,216.5 747.8,218.8 748,215.3 748.2,217.3 748.5,214.1 748.8,218.3 749,215.1 749.2,218 749.5,211.8 749.8,218.6 750,210.2 750.2,215.3 750.5,211.9 750.8,215.2 751,208.1 751.2,217 751.5,207.8 751.8,212.8 752,210.6 752.2,212.4 752.5,209.8 752.8,211.5 753,207.4 753.2,211.9 753.5,204 753.8,211.8 754,202.3 754.2,207.7 754.5,204.6 754.8,207.8 755,204 755.2,206.6 755.5,203.2 755.8,205.3 756,202.1 756.2,204.7 756.5,201.4 756.8,205.7 757,201.5 757.2,206.3 757.5,202.1 757.8,204.5 758,202 758.2,204.5 758.5,199.6 758.8,203.4 759,200.7 759.2,204.3 759.5,199.6 759.8,202.4 760,198 760.2,201.1 760.5,197 760.8,202.1 761,198 761.2,200.9 761.5,198.2 761.8,199.9 762,197.2 762.2,204 762.5,193.5 762.8,204.1 763,195.9 763.2,199.3 763.5,195.9 763.8,199.1 764,195.8 764.2,199.1 764.5,192 764.8,197.5 765,192.5 765.2,195.7 765.5,191.6 765.8,192.8 766,188.7 766.2,193.4 766.5,188.1 766.8,191.5 767,188.4 767.2,190.8 767.5,187.9 767.8,190.6 768,186.7 768.2,189.6 768.5,185.1 768.8,190.4 769,183.5 769.2,191.6 769.5,181.1 769.8,191.7 770,184 770.2,187 770.5,183.7 770.8,186.7 771,183 771.2,185.3 771.5,180.2 771.8,187.5 772,176.5 772.2,188.1 772.5,181.2 772.8,186.8 773,181.5 773.2,183.4 773.5,180.1 773.8,183.7 774,179.6 774.2,183.5 774.5,177.1 774.8,184.6 775,178 775.2,182.9 775.5,179.8 775.8,182.8 776,180.8 776.2,182.7 776.5,180 776.8,181.6 777,179.6 777.2,181.1 777.5,178.4 777.8,182.3 778,178.2 778.2,182.4 778.5,178.7 778.8,181.3 779,178.5 779.2,181.3 779.5,178.3 779.8,182.2 780,176.7 780.2,182.6 780.5,177.7 780.8,181.2 781,178 781.2,181.7 781.5,178.5 781.8,181.5 782,178.1 782.2,180.2 782.5,177.1 782.8,179.1 783,176.2 783.2,179.7 783.5,176.8 783.8,179.1 784,176.2 784.2,179.1 784.5,175.4 784.8,177.6 785,174.4 785.2,178.7 785.5,175.6 785.8,177.6 786,174.9 786.2,177.5 786.5,173.6 786.8,176.1 787,171.3 787.2,176.9 787.5,171.9 787.8,175.1 788,170.5 788.2,177 788.5,171.2 788.8,177.8 789,167.8 789.2,178.4 789.5,170.9 789.8,173.1 790,170.2 790.2,173.8 790.5,170.5 790.8,174.3 791,170.4 791.2,172.7 791.5,169.9 791.8,174.4 792,168.8 792.2,172.9 792.5,167.5 792.8,171.3 793,168.8 793.2,171.2 793.5,166.5 793.8,169.8 794,166.3 794.2,170.3 794.5,167 794.8,170.6 795,168.2 795.2,171.7 795.5,168.9 795.8,170.6 796,167.4 796.2,170.4 796.5,164.8 796.8,170.2 797,166.2 797.2,168.9 797.5,165.5 797.8,168.8 798,166.3 798.2,168.4 798.5,165.3 798.8,167.2 799,164.8 799.2,168 799.5,165.1 799.8,168 800,165.4 800.2,167.3 800.5,160.9 800.8,169 801,161.4 801.2,167.4 801.5,164.3 801.8,167.5 802,164.2 802.2,167.6 802.5,165.1 802.8,167.9 803,165.2 803.2,168 803.5,165 803.8,167.5 804,164.2 804.2,168.3 804.5,160.5 804.8,168.2 805,164.6 805.2,167.3 805.5,164.6 805.8,167.7 806,164.6 806.2,167.9 806.5,164.2 806.8,167 807,164 807.2,166 807.5,163.8 807.8,165.8 808,163.6 808.2,166.1 808.5,160.9 808.8,168.4 809,160.9 809.2,166.3 809.5,162.8 809.8,166.3 810,162.9 810.2,165 810.5,162.4 810.8,165.3 811,162.5 811.2,164.2 811.5,159.8 811.8,164.8 812,159.4 812.2,164.6 812.5,160.4 812.8,163 813,159.8 813.2,163.7 813.5,160.3 813.8,162.9 814,159.2 814.2,162.6 814.5,158.8 814.8,162.3 815,157.4 815.2,162.4 815.5,160.1 815.8,162.6 816,159.1 816.2,162.9 816.5,154.5 816.8,166.8 817,154.7 817.2,163.6 817.5,160.4 817.8,163.5 818,160.7 818.2,162.6 818.5,160.1 818.8,162.6 819,159.6 819.2,163 819.5,160 819.8,165 820,156.6 820.2,163.6 820.5,157.9 820.8,159.9 821,156.8 821.2,159.6 821.5,156.5 821.8,159.9 822,156.2 822.2,158.5 822.5,155.9 822.8,157.7 823,154.8 823.2,158.6 823.5,154.8 823.8,159.2 824,155.9 824.2,159.3 824.5,155 824.8,159.3 825,153.9 825.2,157.9 825.5,154.4 825.8,157.2 826,154.6 826.2,157 826.5,154 826.8,158.4 827,155.1 827.2,158.6 827.5,155.7 827.8,158.8 828,156.1 828.2,160 828.5,157.3 828.8,160.9 829,157.1 829.2,159.9 829.5,156.7 829.8,159.5 830,154.3 830.2,160 830.5,154.7 830.8,160 831,156.7 831.2,160.1 831.5,157.1 831.8,160.6 832,156.9 832.2,159.7 832.5,156.6 832.8,158.6 833,155.2 833.2,159.2 833.5,155.7 833.8,158.6 834,151 834.2,161.3 834.5,151.7 834.8,158.7 835,155.8 835.2,159 835.5,156.2 835.8,159.3 836,155.8 836.2,158.4 836.5,155.1 836.8,158.1 837,155.9 837.2,158.6 837.5,155.9 837.8,158.8 838,155.7 838.2,158.4 838.5,155.8 838.8,159.7 839,156.1 839.2,159.3 839.5,155.7 839.8,158 840,156.4 840.2,158.8 840.5,155.1 840.8,160.3 841,153.2 841.2,160.4 841.5,155.5 841.8,157.7 842,155.3 842.2,158.5 842.5,155.1 842.8,157.9 843,155.1 843.2,158.2 843.5,155.3 843.8,157.3 844,154.5 844.2,157.6 844.5,154.9 844.8,157.7 845,155.9 845.2,158.2 845.5,153.7 845.8,157.9 846,150.4 846.2,163.5 846.5,150.2 846.8,157.4 847,154 847.2,158.8 847.5,155.3 847.8,159.2 848,155.1 848.2,160.1 848.5,155.3 848.8,161.7 849,156.7 849.2,160.1 849.5,155.3 849.8,159.6 850,155.5 850.2,158.8 850.5,153.5 850.8,157.9 851,155.5 851.2,157.8 851.5,154.1 851.8,157.8 852,154.6 852.2,158.1 852.5,155.6 852.8,157.5 853,153.8 853.2,159.6 853.5,153 853.8,159.9 854,154.7 854.2,157 854.5,153.2 854.8,156.7 855,153.1 855.2,157.6 855.5,153.8 855.8,156.1 856,152.3 856.2,156.8 856.5,149.5 856.8,156.3 857,150.7 857.2,154.2 857.5,151.6 857.8,154.3 858,152.1 858.2,153.9 858.5,150.9 858.8,153.7 859,149.8 859.2,153.3 859.5,150.8 859.8,154.8 860,151 860.2,153.6 860.5,149.8 860.8,152.6 861,150 861.2,152.6 861.5,150.2 861.8,153.8 862,145.2 862.2,158.1 862.5,145.5 862.8,154.2 863,151.8 863.2,153.6 863.5,150.8 863.8,153 864,150.4 864.2,154.3 864.5,150.5 864.8,153.3 865,150.5 865.2,152.9 865.5,150.5 865.8,153.4 866,150.6 866.2,153.2 866.5,146.7 866.8,156.5 867,147.2 867.2,153.5 867.5,150.6 867.8,153.7 868,149.9 868.2,154.3 868.5,148.1 868.8,156.7 869,148.1 869.2,153.4 869.5,150.3 869.8,153.8 870,147.7 870.2,156 870.5,146 870.8,153.4 871,149.6 871.2,153.6 871.5,150 871.8,154.1 872,151.2 872.2,153.4 872.5,149.8 872.8,153.5 873,150.8 873.2,154.3 873.5,151.1 873.8,154.3 874,148.9 874.2,154.4 874.5,150 874.8,155.2 875,149.1 875.2,157 875.5,147.6 875.8,157.3 876,147.8 876.2,153.3 876.5,150 876.8,153.3 877,151.1 877.2,158.1 877.5,146.7 877.8,156.4 878,147.7 878.2,155 878.5,147.2 878.8,152 879,149.2 879.2,153 879.5,150.1 879.8,152.5 880,150.4 880.2,153.6 880.5,148.9 880.8,153.6 881,149.6 881.2,153.2 881.5,151 881.8,153.5 882,150.7 882.2,154.3 882.5,150.9 882.8,155.2 883,151.3 883.2,153.9 883.5,149.2 883.8,155.9 884,150.2 884.2,157.3 884.5,149 884.8,157.4 885,152.4 885.2,155 885.5,150.6 885.8,154.4 886,150.7 886.2,154.5 886.5,150.7 886.8,154.5 887,151.8 887.2,154.1 887.5,151.4 887.8,154.7 888,152 888.2,154.5 888.5,151.9 888.8,155.2 889,151.9 889.2,155.7 889.5,151.2 889.8,154.3 890,152.1 890.2,154.1 890.5,150.2 890.8,154.4 891,149.9 891.2,153.5 891.5,150.4 891.8,153.4 892,150.3 892.2,152.1 892.5,149.3 892.8,152 893,149.7 893.2,152 893.5,149.3 893.8,150.8 894,147.1 894.2,150.6 894.5,147.7 894.8,150 895,147.4 895.2,150.1 895.5,147.1 895.8,151.3 896,148 896.2,150.6 896.5,142.8 896.8,154 897,142.2 897.2,150.1 897.5,146.1 897.8,150.9 898,147.3 898.2,150.3 898.5,148.3 898.8,151.1 899,148.3 899.2,151 899.5,148 899.8,152.6 900,148 900.2,153 900.5,149 900.8,151.7 901,149 901.2,151.7 901.5,148.2 901.8,152.3 902,148.5 902.2,153.4 902.5,148.8 902.8,151.1 903,148.2 903.2,150.8 903.5,146.3 903.8,151.5 904,147.5 904.2,152 904.5,146.9 904.8,151.2 905,144.8 905.2,151.4 905.5,146.8 905.8,150.1 906,147.2 906.2,151.1 906.5,148.1 906.8,150.9 907,148.4 907.2,150.9 907.5,146.7 907.8,151.7 908,147.2 908.2,151 908.5,147.2 908.8,151.1 909,146.7 909.2,151 909.5,147.1 909.8,149.8 910,145.7 910.2,150.6 910.5,146.4 910.8,149.3 911,146.1 911.2,149.5 911.5,146.8 911.8,151.7 912,145.6 912.2,150.5 912.5,145.7 912.8,148.7 913,145.8 913.2,148.5 913.5,145.1 913.8,149.3 914,145.8 914.2,148.4 914.5,146.3 914.8,149.7 915,146.6 915.2,148.6 915.5,145.6 915.8,148.5 916,146 916.2,149.2 916.5,145.7 916.8,149.4 917,146.5 917.2,149.7 917.5,147.1 917.8,150.3 918,147.4 918.2,148.9 918.5,145.9 918.8,149.7 919,146.5 919.2,150.7 919.5,145.9 919.8,148.9 920,143.7 920.2,150.6 920.5,143.3 920.8,147.7 921,144.7 921.2,147.8 921.5,145.1 921.8,148.5 922,145.9 922.2,148 922.5,144.8 922.8,148.3 923,145.5 923.2,150.5 923.5,145.7 923.8,150.3 924,144.9 924.2,148.3 924.5,146.1 924.8,149.2 925,145.5 925.2,148.3 925.5,143.4 925.8,150.2 926,143.1 926.2,147.7 926.5,144.7 926.8,148.6 927,144.8 927.2,148.4 927.5,145.5 927.8,148.9 928,146.1 928.2,147.5 928.5,145.2 928.8,148.2 929,145 929.2,148.5 929.5,145.8 929.8,148.3 930,145 930.2,147.7 930.5,145.8 930.8,150.2 931,144.2 931.2,149.9 931.5,147 931.8,149.8 932,145.7 932.2,148.4 932.5,146.2 932.8,149.3 933,147.1 933.2,150.6 933.5,147 933.8,152.2 934,147.2 934.2,153.6 934.5,144 934.8,152.1 935,145.7 935.2,150.1 935.5,145.5 935.8,149.6 936,146.3 936.2,149.4 936.5,146.5 936.8,149.8 937,146.8 937.2,150.5 937.5,147.2 937.8,151.9 938,146.9 938.2,153.9 938.5,147 938.8,155.1 939,144.6 939.2,154.1 939.5,148.2 939.8,150.7 940,148.5 940.2,152 940.5,147 940.8,154.4 941,146.9 941.2,151.2 941.5,148.3 941.8,151.3 942,148.4 942.2,152 942.5,146.8 942.8,151.7 943,148.6 943.2,151.1 943.5,148.8 943.8,151.9 944,150.1 944.2,152.7 944.5,150 944.8,153.2 945,149.6 945.2,152 945.5,144 945.8,157.4 946,144.2 946.2,152 946.5,148.8 946.8,154.7 947,147.4 947.2,153.8 947.5,149.2 947.8,152.7 948,150.8 948.2,152.7 948.5,149.8 948.8,153 949,148.2 949.2,152.5 949.5,147.5 949.8,151.5 950,148.7 950.2,152.2 950.5,147.6 950.8,154.8 951,147.8 951.2,155.7 951.5,146.8 951.8,155.7 952,150.2 952.2,154.6 952.5,150.2 952.8,152.6 953,149.4 953.2,151.8 953.5,148.9 953.8,150.6 954,147.6 954.2,150.1 954.5,145.5 954.8,153.3 955,145.2 955.2,150.8 955.5,147 955.8,148.9 956,145.3 956.2,148.1 956.5,145.6 956.8,148.1 957,142.9 957.2,147.7 957.5,144.8 957.8,148.6 958,142.4 958.2,150.1 958.5,141.9 958.8,149.3 959,141.3 959.2,148 959.5,143.6 959.8,147.2 960,142.4 960.2,149.5 960.5,141.1 960.8,147.6 961,144.1 961.2,147.2 961.5,144 961.8,146.6 962,142.7 962.2,147 962.5,143.8 962.8,146.5 963,142.9 963.2,148 963.5,143.5 963.8,148.5 964,139.9 964.2,152.9 964.5,140.1 964.8,148.6 965,145.8 965.2,149.8 965.5,146.2 965.8,148.2 966,144.8 966.2,147.9 966.5,143.5 966.8,147.3 967,144.3 967.2,146.9 967.5,144.1 967.8,146.3 968,143.5 968.2,146.1 968.5,142.9 968.8,146.2 969,143.2 969.2,146.3 969.5,142.2 969.8,148 970,141.2 970.2,145.3 970.5,142.9 970.8,146 971,143.5 971.2,146.6 971.5,143.6 971.8,147.1 972,142.9 972.2,146 972.5,142.5 972.8,146.7 973,142.6 973.2,147.4 973.5,143.1 973.8,148.2 974,143.7 974.2,147.6 974.5,142.5 974.8,147.4 975,144 975.2,146.2 975.5,141.7 975.8,147.7 976,141.3 976.2,145.5 976.5,143.6 976.8,150.4 977,140.8 977.2,150.5 977.5,144.7 977.8,147.2 978,144.1 978.2,148 978.5,143.4 978.8,147.5 979,143.1 979.2,147.9 979.5,145 979.8,147.6 980,141.8 980.2,150.5 980.5,142.3 980.8,147.6 981,144.9 981.2,147.6 981.5,144.4 981.8,148.6 982,144.8 982.2,147.6 982.5,144.7 982.8,148 983,144.6 983.2,147.6 983.5,143.4 983.8,146.4 984,144.1 984.2,147.3 984.5,143.9 984.8,148.2 985,143.5 985.2,146.7 985.5,138.8 985.8,151.8 986,139.3 986.2,146.9 986.5,144 986.8,147 987,144.1 987.2,152 987.5,138.7 987.8,151.5 988,143.9 988.2,147.4 988.5,143.3 988.8,147.3 989,144.3 989.2,146.5 989.5,143.3 989.8,147.2 990,143.2 990.2,148.5 990.5,143.5 990.8,147.8 991,145.2 991.2,147.8 991.5,144.9 991.8,147.4 992,144.2 992.2,149.8 992.5,144.1 992.8,148 993,143.5 993.2,149.5 993.5,142.7 993.8,147.8 994,144.8 994.2,147.7 994.5,144.9 994.8,148.3 995,146.5 995.2,148.3 995.5,146 995.8,148.3 996,144.7 996.2,147.9 996.5,143.7 996.8,149.4 997,141.8 997.2,148.7 997.5,143.5 997.8,146.7 998,143.9 998.2,146.6 998.5,143.5 998.8,146 999,142.9 999.2,147.5 999.5,141.8 999.8,145.5 1000,142.5 1000.2,144.7 1000.5,139.9 1000.8,147.4 1001,139.5 1001.2,144.6 1001.5,142 1001.8,144.3 1002,142.3 1002.2,147.2 1002.5,142.5 1002.8,145.8 1003,141.1 1003.2,145.3 1003.5,140.4 1003.8,143.4 1004,141.6 1004.2,143.6 1004.5,141.7 1004.8,144.5 1005,141.9 1005.2,145.2 1005.5,141.2 1005.8,147.1 1006,142.6 1006.2,147.7 1006.5,142 1006.8,146.3 1007,143.2 1007.2,146 1007.5,143.8 1007.8,148.7 1008,141.8 1008.2,149.2 1008.5,144 1008.8,146.6 1009,145 1009.2,147.6 1009.5,142.5 1009.8,150 1010,141.7 1010.2,147.3 1010.5,143.4 1010.8,147.4 1011,144.3 1011.2,148 1011.5,143.7 1011.8,146.5 1012,143.5 1012.2,146.6 1012.5,138.1 1012.8,150.9 1013,137.6 1013.2,145.4 1013.5,142.2 1013.8,145.8 1014,142.9 1014.2,145.2 1014.5,140.4 1014.8,145.4 1015,142.4 1015.2,144.8 1015.5,138.7 1015.8,148.2 1016,139 1016.2,144.5 1016.5,142.7 1016.8,144.9 1017,142.8 1017.2,146.9 1017.5,143.6 1017.8,146.4 1018,143.5 1018.2,145.6 1018.5,143 1018.8,145.1 1019,142.7 1019.2,145.4 1019.5,141.8 1019.8,146 1020,142.4 1020.2,144.9 1020.5,141.6 1020.8,144.8 1021,141.1 1021.2,145.4 1021.5,141.6 1021.8,145.9 1022,142.7 1022.2,145 1022.5,141.7 1022.8,144.4 1023,140.4 1023.2,144.3 1023.5,138.7 1023.8,146 1024,140.1 1024.2,148.6 1024.5,136.9 1024.8,148.1 1025,141.7 1025.2,147.7 1025.5,139.2 1025.8,147.3 1026,141.2 1026.2,144.4 1026.5,141.6 1026.8,149.6 1027,136.8 1027.2,148.9 1027.5,141.6 1027.8,145.8 1028,142.2 1028.2,146.3 1028.5,141.7 1028.8,145 1029,142.5 1029.2,144.4 1029.5,139.9 1029.8,144.1 1030,140.5 1030.2,144.2 1030.5,140.1 1030.8,145.1 1031,140.1 1031.2,144.2 1031.5,141.9 1031.8,144.6 1032,140.2 1032.2,144.1 1032.5,141.2 1032.8,147.4 1033,136 1033.2,148.5 1033.5,141.5 1033.8,144.2 1034,141.8 1034.2,146.1 1034.5,142.2 1034.8,144.1 1035,141.4 1035.2,144.2 1035.5,140.6 1035.8,145.3 1036,141 1036.2,143.1 1036.5,140.6 1036.8,142.9 1037,140.2 1037.2,144.4 1037.5,138.3 1037.8,144.7 1038,140.7 1038.2,146.4 1038.5,137 1038.8,145.9 1039,139.4 1039.2,144.2 1039.5,140.5 1039.8,142.8 1040,140.4 1040.2,143 1040.5,140.9 1040.8,143.8 1041,142 1041.2,144.8 1041.5,140.9 1041.8,143.5 1042,139.9 1042.2,144.1 1042.5,139.3 1042.8,144.4 1043,137.8 1043.2,144.4 1043.5,136 1043.8,145.7 1044,134.9 1044.2,142.4 1044.5,139.6 1044.8,142.6 1045,140.4 1045.2,143.8 1045.5,140.8 1045.8,145.6 1046,139.3 1046.2,143.6 1046.5,137.8 1046.8,142 1047,139.5 1047.2,141.9 1047.5,138.7 1047.8,141 1048,138.1 1048.2,140.9 1048.5,139.4 1048.8,142.7 1049,139 1049.2,142.6 1049.5,139.4 1049.8,143.7 1050,137.4 1050.2,143.4 1050.5,139.5 1050.8,142 1051,137.4 1051.2,141.9 1051.5,137.9 1051.8,141.3 1052,137.2 1052.2,141.3 1052.5,137.7 1052.8,141 1053,138.2 1053.2,144.4 1053.5,136.9 1053.8,145.1 1054,139.9 1054.2,142.6 1054.5,140 1054.8,142.2 1055,139.4 1055.2,142.6 1055.5,138 1055.8,146.6 1056,133 1056.2,146.6 1056.5,139.1 1056.8,141.3 1057,138.7 1057.2,141.3 1057.5,136.3 1057.8,144.3 1058,136.1 1058.2,141.4 1058.5,137.2 1058.8,139.8 1059,137 1059.2,140.7 1059.5,135.8 1059.8,139.5 1060,136.2 1060.2,139.4 1060.5,137.5 1060.8,139.8 1061,137.6 1061.2,140.9 1061.5,138.3 1061.8,140.5 1062,138.3 1062.2,142.6 1062.5,137.8 1062.8,141.7 1063,138 1063.2,140.9 1063.5,138.3 1063.8,141.5 1064,138.1 1064.2,140.4 1064.5,137 1064.8,141.3 1065,137.8 1065.2,140.1 1065.5,136.6 1065.8,140.8 1066,136.9 1066.2,140.6 1066.5,137 1066.8,139.8 1067,136.8 1067.2,139.5 1067.5,136.3 1067.8,139.8 1068,136.7 1068.2,141.8 1068.5,137.3 1068.8,140.4 1069,138.5 1069.2,140.8 1069.5,136.3 1069.8,142.7 1070,136.5 1070.2,143.1 1070.5,138.2 1070.8,140.9 1071,138.9 1071.2,145.5 1071.5,135.9 1071.8,146 1072,140.7 1072.2,143.4 1072.5,140.5 1072.8,143.2 1073,137.9 1073.2,143.4 1073.5,140 1073.8,142.7 1074,139.7 1074.2,143.3 1074.5,140.2 1074.8,147.8 1075,137.1 1075.2,148.6 1075.5,141.3 1075.8,144 1076,140.8 1076.2,144.3 1076.5,140.1 1076.8,144.4 1077,141.4 1077.2,143.8 1077.5,140.7 1077.8,143.8 1078,141.8 1078.2,145.6 1078.5,140.3 1078.8,146.2 1079,140 1079.2,144.8 1079.5,141.3 1079.8,144.7 1080,141.4 1080.2,145.4 1080.5,139.3 1080.8,146.7 1081,141.7 1081.2,145.7 1081.5,142 1081.8,145.4 1082,142.7 1082.2,146.3 1082.5,142.4 1082.8,145.3 1083,140.8 1083.2,144.1 1083.5,140.7 1083.8,143.6 1084,141.5 1084.2,144.9 1084.5,142.3 1084.8,143.8 1085,141.1 1085.2,144.1 1085.5,141 1085.8,145 1086,141.4 1086.2,145.5 1086.5,142.7 1086.8,146.2 1087,140.7 1087.2,146.9 1087.5,141.7 1087.8,146.6 1088,142.4 1088.2,147 1088.5,140.3 1088.8,147.7 1089,140.7 1089.2,145.5 1089.5,142.8 1089.8,145.1 1090,142.1 1090.2,144.5 1090.5,141.2 1090.8,144.7 1091,141 1091.2,143.8 1091.5,141 1091.8,144.4 1092,141.2 1092.2,145.1 1092.5,140.7 1092.8,144.5 1093,140.4 1093.2,143.8 1093.5,140.6 1093.8,145.2 1094,137.9 1094.2,144.3 1094.5,140.3 1094.8,142.9 1095,139.6 1095.2,142.1 1095.5,139.9 1095.8,142.8 1096,137.5 1096.2,141.6 1096.5,139.1 1096.8,145.4 1097,136.3 1097.2,146.1 1097.5,135.9 1097.8,147.3 1098,135.3 1098.2,141.9 1098.5,138.8 1098.8,142.7 1099,139.7 1099.2,142.4 1099.5,139.4 1099.8,142.6 1100,139.7 1100.2,142.8 1100.5,138.1 1100.8,143.6 1101,138.2 1101.2,143.7 1101.5,139.7 1101.8,143 1102,138.4 1102.2,144.2 1102.5,134.8 1102.8,148.1 1103,135 1103.2,144.3 1103.5,138 1103.8,143 1104,138.6 1104.2,142 1104.5,139.2 1104.8,142.5 1105,138.1 1105.2,141.7 1105.5,136.2 1105.8,141.8 1106,135.9 1106.2,141.5 1106.5,136.9 1106.8,141.1 1107,137.5 1107.2,140.8 1107.5,137 1107.8,141.8 1108,135.1 1108.2,142.5 1108.5,135.3 1108.8,140.6 1109,137.4 1109.2,139.5 1109.5,136.9 1109.8,139.4 1110,136.9 1110.2,139.7 1110.5,136.1 1110.8,140.4 1111,137.2 1111.2,141.2 1111.5,136.6 1111.8,141.6 1112,137.7 1112.2,141 1112.5,137.8 1112.8,141.6 1113,138.3 1113.2,142 1113.5,136.9 1113.8,141.4 1114,134.2 1114.2,142.9 1114.5,134.5 1114.8,139.4 1115,137 1115.2,140.1 1115.5,132.1 1115.8,145.1 1116,131.9 1116.2,141.5 1116.5,137.1 1116.8,139.1 1117,136.5 1117.2,139.4 1117.5,133.2 1117.8,141.4 1118,135.9 1118.2,139.8 1118.5,134.8 1118.8,139.9 1119,135.1 1119.2,139 1119.5,136.8 1119.8,139.3 1120,131.5 1120.2,145 1120.5,132.5 1120.8,140.9 1121,137 1121.2,140.1 1121.5,137.5 1121.8,140.2 1122,136.2 1122.2,140 1122.5,136.7 1122.8,140.1 1123,137.7 1123.2,141.2 1123.5,138.4 1123.8,142.2 1124,136.5 1124.2,142.4 1124.5,138.1 1124.8,141 1125,137.7 1125.2,140.1 1125.5,137.9 1125.8,141.4 1126,138.7 1126.2,144.7 1126.5,135.7 1126.8,145.7 1127,137.9 1127.2,142.1 1127.5,137 1127.8,142.3 1128,137.5 1128.2,140.8 1128.5,138.6 1128.8,146.6 1129,134.1 1129.2,144.4 1129.5,137.3 1129.8,141.1 1130,137.3 1130.2,140.7 1130.5,135.8 1130.8,141 1131,137.4 1131.2,145.8 1131.5,133.6 1131.8,146.5 1132,138.6 1132.2,142.1 1132.5,139.8 1132.8,141.8 1133,139.2 1133.2,141.8 1133.5,139.2 1133.8,141.6 1134,138.8 1134.2,141.2 1134.5,138.2 1134.8,141.7 1135,138.2 1135.2,143.8 1135.5,137.8 1135.8,144.1 1136,139.8 1136.2,144 1136.5,136.9 1136.8,144.6 1137,139.6 1137.2,142.8 1137.5,140.3 1137.8,143.7 1138,141 1138.2,144.2 1138.5,141.9 1138.8,145.1 1139,142.2 1139.2,145 1139.5,140.6 1139.8,143.9 1140,141.3 1140.2,145 1140.5,141.6 1140.8,144.9 1141,140.9 1141.2,144.6 1141.5,141.3 1141.8,144.4 1142,139.9 1142.2,143.8 1142.5,140.2 1142.8,144.2 1143,139.5 1143.2,143.3 1143.5,138.1 1143.8,145 1144,137.9 1144.2,145 1144.5,138 1144.8,145.6 1145,141.1 1145.2,143.7 1145.5,139.8 1145.8,143.7 1146,138.7 1146.2,144.5 1146.5,138.6 1146.8,144.3 1147,136.8 1147.2,149.3 1147.5,136.6 1147.8,145.8 1148,139.3 1148.2,146.8 1148.5,142 1148.8,145.3 1149,142.6 1149.2,147.5 1149.5,140.6 1149.8,147.1 1150,143.7 1150.2,146 1150.5,142.9 1150.8,147.4 1151,141.9 1151.2,148 1151.5,143.4 1151.8,146.1 1152,143 1152.2,147.5 1152.5,142.5 1152.8,146 1153,142.3 1153.2,147.2 1153.5,143.1 1153.8,148 1154,143.4 1154.2,149.6 1154.5,141.7 1154.8,149.5 1155,144.8 1155.2,147.6 1155.5,144.3 1155.8,146.6 1156,143.9 1156.2,147.4 1156.5,144.9 1156.8,148 1157,146.3 1157.2,150.1 1157.5,147.2 1157.8,149.6 1158,146.7 1158.2,148.6 1158.5,144.9 1158.8,147.4 1159,144.7 1159.2,147.1 1159.5,143.5 1159.8,147.7 1160,144.2 1160.2,146.2 1160.5,143.4 1160.8,145.7 1161,142.7 1161.2,145.6 1161.5,143.1 1161.8,145.7 1162,142.1 1162.2,146.3 1162.5,142.8 1162.8,145.1 1163,142.3 1163.2,145.2 1163.5,142.2 1163.8,144.7 1164,142.1 1164.2,145.1 1164.5,141.9 1164.8,144.5 1165,141.8 1165.2,143.5 1165.5,140.2 1165.8,146.3 1166,138.3 1166.2,146.3 1166.5,140.2 1166.8,141.9 1167,138.9 1167.2,143.1 1167.5,139.2 1167.8,143.6 1168,139.6 1168.2,142.2 1168.5,139.5 1168.8,142.2 1169,140.3 1169.2,143.7 1169.5,139.8 1169.8,145.9 1170,138.7 1170.2,142.1 1170.5,139 1170.8,142.1 1171,138.8 1171.2,140.9 1171.5,136.6 1171.8,142.5 1172,136.6 1172.2,141.8 1172.5,136 1172.8,139.7 1173,137.6 1173.2,139.8 1173.5,137.2 1173.8,140.4 1174,138.3 1174.2,140.7 1174.5,138.4 1174.8,142.6 1175,137.1 1175.2,142.2 1175.5,138.1 1175.8,141.9 1176,139.3 1176.2,141.3 1176.5,137.3 1176.8,141.2 1177,138.3" fill="none" stroke="#ff0000" stroke-width="0.8"/>
<text x="1027" y="203" font-size="31.0" fill="#58626b" text-anchor="start">ACSF</text>
<text x="1027" y="236" font-size="31.0" fill="#ff0000" text-anchor="start">5-HT</text>
<text x="1244" y="50.9" font-size="46.5" fill="#231f20" text-anchor="start">d</text>
<polyline points="1245.5,145.5 1245.8,149 1246,146.5 1246.2,151 1246.5,145.4 1246.8,148.3 1247,145.9 1247.2,148.5 1247.5,146.1 1247.8,148.6 1248,145.6 1248.2,149.4 1248.5,146.9 1248.8,151.3 1249,146.2 1249.2,149.7 1249.5,146.7 1249.8,150.4 1250,144.8 1250.2,154.8 1250.5,144.4 1250.8,150.5 1251,148 1251.2,155.1 1251.5,145.1 1251.8,154 1252,146 1252.2,153.3 1252.5,147.3 1252.8,154.1 1253,148.8 1253.2,153.6 1253.5,148.5 1253.8,152.8 1254,150.6 1254.2,153.4 1254.5,149 1254.8,152.6 1255,148.6 1255.2,154.2 1255.5,149.4 1255.8,154.4 1256,151.1 1256.2,154.1 1256.5,151.7 1256.8,155.3 1257,150.9 1257.2,153.7 1257.5,150.8 1257.8,153.1 1258,150.8 1258.2,153.9 1258.5,149.4 1258.8,153.8 1259,149.1 1259.2,153.7 1259.5,149.9 1259.8,152.7 1260,149.4 1260.2,154.9 1260.5,150.2 1260.8,152.6 1261,150.2 1261.2,152.5 1261.5,150.3 1261.8,153.4 1262,148.1 1262.2,152.5 1262.5,149.4 1262.8,152.9 1263,147.4 1263.2,154.5 1263.5,148.4 1263.8,153.5 1264,145.9 1264.2,154 1264.5,147.9 1264.8,151.2 1265,146.6 1265.2,152.6 1265.5,146.3 1265.8,152.3 1266,148.5 1266.2,152.8 1266.5,148.6 1266.8,152.2 1267,149.2 1267.2,153.4 1267.5,149.2 1267.8,151.7 1268,148 1268.2,151.3 1268.5,146.9 1268.8,150.6 1269,146 1269.2,150.3 1269.5,146.1 1269.8,148.8 1270,145.9 1270.2,149.4 1270.5,142.9 1270.8,148.9 1271,146.2 1271.2,148.2 1271.5,144.8 1271.8,147.7 1272,142.9 1272.2,150.7 1272.5,142.7 1272.8,151.8 1273,143.3 1273.2,153.7 1273.5,144.8 1273.8,152.9 1274,144.6 1274.2,151.6 1274.5,146 1274.8,149.5 1275,145.9 1275.2,149.6 1275.5,146.9 1275.8,151.1 1276,146.8 1276.2,149.8 1276.5,145.3 1276.8,149.6 1277,146.7 1277.2,150.2 1277.5,146.4 1277.8,150.5 1278,147.2 1278.2,148.8 1278.5,145 1278.8,149.7 1279,145.1 1279.2,154.5 1279.5,141 1279.8,154.2 1280,146.7 1280.2,149.6 1280.5,146.3 1280.8,147.9 1281,144.5 1281.2,146.9 1281.5,144.2 1281.8,148.3 1282,145.2 1282.2,149.7 1282.5,146 1282.8,150.5 1283,146 1283.2,150.4 1283.5,146.8 1283.8,150.9 1284,146.8 1284.2,151.3 1284.5,147.9 1284.8,151.8 1285,148.7 1285.2,151.7 1285.5,149.2 1285.8,152.4 1286,145.7 1286.2,157 1286.5,147.3 1286.8,154.1 1287,150.8 1287.2,153.3 1287.5,150.1 1287.8,152.8 1288,149.4 1288.2,152.1 1288.5,149.7 1288.8,153 1289,149.2 1289.2,152.9 1289.5,149.6 1289.8,154.3 1290,149.4 1290.2,153.6 1290.5,150.2 1290.8,153.1 1291,150.4 1291.2,154.3 1291.5,150.2 1291.8,154.6 1292,150.1 1292.2,156.3 1292.5,147.7 1292.8,155 1293,150.1 1293.2,153.1 1293.5,145.6 1293.8,154.1 1294,146.2 1294.2,151.2 1294.5,148.3 1294.8,151.2 1295,147.4 1295.2,149.7 1295.5,147.8 1295.8,150.1 1296,147.6 1296.2,150.3 1296.5,147.2 1296.8,149.2 1297,146.7 1297.2,149.1 1297.5,145.5 1297.8,148.4 1298,145.5 1298.2,148.6 1298.5,145.2 1298.8,149.1 1299,144.3 1299.2,149.3 1299.5,145.4 1299.8,147.6 1300,143.5 1300.2,149.6 1300.5,143.3 1300.8,148 1301,144.4 1301.2,147.1 1301.5,144.5 1301.8,148 1302,144.2 1302.2,146.6 1302.5,143.7 1302.8,146.9 1303,141.7 1303.2,145.9 1303.5,142.2 1303.8,146.9 1304,140.7 1304.2,146.5 1304.5,142.6 1304.8,146.1 1305,141.9 1305.2,147.4 1305.5,140 1305.8,146.7 1306,142.5 1306.2,146 1306.5,142.6 1306.8,146.8 1307,142.2 1307.2,146.4 1307.5,142 1307.8,146.4 1308,143.3 1308.2,146.9 1308.5,143.5 1308.8,147.5 1309,142.6 1309.2,145.9 1309.5,143.1 1309.8,150.9 1310,138 1310.2,151.8 1310.5,143.7 1310.8,147.5 1311,140.8 1311.2,150 1311.5,140.3 1311.8,145.2 1312,140.5 1312.2,145.5 1312.5,137.8 1312.8,140.9 1313,137.1 1313.2,139.1 1313.5,134.4 1313.8,138.3 1314,133.2 1314.2,135.4 1314.5,130.3 1314.8,133.1 1315,129.5 1315.2,131.4 1315.5,128.4 1315.8,132.3 1316,132 1316.2,135.7 1316.5,138.4 1316.8,143.9 1317,148.2 1317.2,154.7 1317.5,159.5 1317.8,166.7 1318,172 1318.2,179.4 1318.5,185.4 1318.8,192.6 1319,197.6 1319.2,204.8 1319.5,209.4 1319.8,216.6 1320,222.3 1320.2,230.3 1320.5,236.9 1320.8,245.5 1321,251.7 1321.2,260.6 1321.5,266 1321.8,274.9 1322,280.1 1322.2,286.8 1322.5,290.7 1322.8,295.9 1323,298.3 1323.2,301.7 1323.5,302.6 1323.8,305.4 1324,306.8 1324.2,309.7 1324.5,310.9 1324.8,313.2 1325,313.5 1325.2,317.1 1325.5,316.5 1325.8,320.5 1326,318.9 1326.2,323.2 1326.5,322.3 1326.8,324.5 1327,324.3 1327.2,326.4 1327.5,326.2 1327.8,327.8 1328,327.4 1328.2,328.3 1328.5,327.6 1328.8,328.9 1329,327.8 1329.2,329.1 1329.5,327.8 1329.8,328.9 1330,326.3 1330.2,328.4 1330.5,326.6 1330.8,327 1331,325.7 1331.2,326.3 1331.5,324.7 1331.8,325.7 1332,324.5 1332.2,327.5 1332.5,324.2 1332.8,325.7 1333,321.6 1333.2,324.3 1333.5,319.4 1333.8,323.9 1334,320.7 1334.2,324.2 1334.5,318.7 1334.8,322.2 1335,318 1335.2,321.2 1335.5,314.5 1335.8,320 1336,313.3 1336.2,317.9 1336.5,312.6 1336.8,318.3 1337,311.9 1337.2,316.6 1337.5,310.7 1337.8,313.4 1338,309.6 1338.2,315.1 1338.5,303.7 1338.8,312.8 1339,305.2 1339.2,307.1 1339.5,303.2 1339.8,305.7 1340,301.9 1340.2,303.8 1340.5,299.8 1340.8,302.1 1341,298.4 1341.2,300.9 1341.5,296.3 1341.8,298.2 1342,295.1 1342.2,296.7 1342.5,292.3 1342.8,294.7 1343,291.1 1343.2,293.6 1343.5,288.3 1343.8,291.5 1344,287.3 1344.2,289.9 1344.5,284.9 1344.8,287.4 1345,282.5 1345.2,287.6 1345.5,281.3 1345.8,284.8 1346,280.7 1346.2,284.6 1346.5,279.5 1346.8,281.3 1347,277.5 1347.2,280.3 1347.5,276.5 1347.8,278.5 1348,270.4 1348.2,282.6 1348.5,271.1 1348.8,277.5 1349,274.7 1349.2,276.3 1349.5,272 1349.8,275.4 1350,271.7 1350.2,274.6 1350.5,270.8 1350.8,272.1 1351,265.6 1351.2,273.3 1351.5,263.6 1351.8,269.1 1352,263.5 1352.2,270.2 1352.5,265.1 1352.8,269.1 1353,263.2 1353.2,268.1 1353.5,262.3 1353.8,266.9 1354,257.8 1354.2,266.1 1354.5,257.9 1354.8,262.1 1355,255 1355.2,260.9 1355.5,255.5 1355.8,258.3 1356,255.2 1356.2,257.6 1356.5,254.6 1356.8,256.3 1357,253.2 1357.2,256.2 1357.5,252.3 1357.8,259.6 1358,245.8 1358.2,258.2 1358.5,249.5 1358.8,254.7 1359,248.3 1359.2,250.8 1359.5,247.8 1359.8,249.6 1360,246.9 1360.2,249.4 1360.5,245.9 1360.8,248.3 1361,243.8 1361.2,246.6 1361.5,242.7 1361.8,247.1 1362,242.9 1362.2,244.8 1362.5,239.9 1362.8,243.8 1363,240.6 1363.2,245 1363.5,238.9 1363.8,243.8 1364,239.2 1364.2,241.1 1364.5,237.8 1364.8,241 1365,235.1 1365.2,241.1 1365.5,235.5 1365.8,238.2 1366,234.4 1366.2,237.4 1366.5,232.3 1366.8,235.6 1367,230.7 1367.2,235.6 1367.5,229.5 1367.8,233.2 1368,229.6 1368.2,236.4 1368.5,223.7 1368.8,234.6 1369,227.5 1369.2,229.6 1369.5,225.5 1369.8,228.5 1370,225.6 1370.2,228.3 1370.5,225.3 1370.8,227.8 1371,226 1371.2,230.7 1371.5,222.1 1371.8,229.1 1372,223.9 1372.2,228.2 1372.5,221.4 1372.8,227.6 1373,221.2 1373.2,225.4 1373.5,220.7 1373.8,223.8 1374,220.5 1374.2,222.1 1374.5,217.7 1374.8,220.3 1375,217 1375.2,220.2 1375.5,216.3 1375.8,219.1 1376,215.6 1376.2,217.2 1376.5,214 1376.8,215.6 1377,212.2 1377.2,214.6 1377.5,210.8 1377.8,214 1378,208.8 1378.2,216.5 1378.5,208.2 1378.8,214 1379,210.3 1379.2,212.9 1379.5,209.8 1379.8,211.6 1380,209 1380.2,210.8 1380.5,207.3 1380.8,210.1 1381,206.5 1381.2,208.5 1381.5,205.1 1381.8,208.3 1382,204.2 1382.2,209.4 1382.5,205.9 1382.8,208 1383,204.3 1383.2,211.4 1383.5,199.5 1383.8,210.1 1384,199.2 1384.2,208.7 1384.5,198.9 1384.8,204.6 1385,201.3 1385.2,204 1385.5,197.4 1385.8,205.5 1386,194.8 1386.2,201.2 1386.5,198 1386.8,200.5 1387,196.8 1387.2,198.9 1387.5,195.1 1387.8,201.2 1388,193.9 1388.2,198 1388.5,195.7 1388.8,198.8 1389,191 1389.2,200 1389.5,190.3 1389.8,197.4 1390,193.1 1390.2,197.1 1390.5,192.5 1390.8,196.2 1391,192.8 1391.2,195.1 1391.5,192.6 1391.8,198 1392,190.4 1392.2,196.1 1392.5,191.3 1392.8,194.5 1393,190.7 1393.2,198.1 1393.5,185.9 1393.8,197.3 1394,189 1394.2,191.4 1394.5,188.7 1394.8,191 1395,187.2 1395.2,189.5 1395.5,186.6 1395.8,189.6 1396,186.8 1396.2,189.8 1396.5,186.2 1396.8,190.4 1397,186.2 1397.2,189.4 1397.5,185.9 1397.8,188.6 1398,184.6 1398.2,188.7 1398.5,182.7 1398.8,188 1399,184.3 1399.2,186.7 1399.5,183.7 1399.8,185.2 1400,182.7 1400.2,185.8 1400.5,178 1400.8,190.4 1401,178.6 1401.2,186.6 1401.5,182.4 1401.8,184.6 1402,180.8 1402.2,185.3 1402.5,180.2 1402.8,184.9 1403,180.4 1403.2,182.3 1403.5,179.5 1403.8,181.5 1404,177.8 1404.2,183.3 1404.5,178.1 1404.8,182.6 1405,178.8 1405.2,182.8 1405.5,179.7 1405.8,182.6 1406,178.4 1406.2,181.8 1406.5,178.1 1406.8,182.2 1407,177.8 1407.2,180.1 1407.5,176.6 1407.8,179.8 1408,173.1 1408.2,180.2 1408.5,172.3 1408.8,176 1409,172.8 1409.2,174.5 1409.5,171.1 1409.8,175.3 1410,170.9 1410.2,177.1 1410.5,168.2 1410.8,176.3 1411,169.4 1411.2,172.8 1411.5,169.7 1411.8,171.3 1412,168.3 1412.2,170.6 1412.5,167.2 1412.8,168.8 1413,166.7 1413.2,170 1413.5,165.2 1413.8,168.4 1414,164 1414.2,167.5 1414.5,163.7 1414.8,166.4 1415,163.7 1415.2,167 1415.5,163.1 1415.8,170.1 1416,158.8 1416.2,167.3 1416.5,158.9 1416.8,167.5 1417,158.9 1417.2,164 1417.5,159.7 1417.8,162.8 1418,159.5 1418.2,163.6 1418.5,159.2 1418.8,163.4 1419,161.1 1419.2,162.7 1419.5,159.4 1419.8,161.7 1420,158.4 1420.2,162.1 1420.5,159 1420.8,167 1421,154 1421.2,165.9 1421.5,156.4 1421.8,161.7 1422,156.7 1422.2,161.1 1422.5,155.4 1422.8,159 1423,155.9 1423.2,159.1 1423.5,154.9 1423.8,158.3 1424,155.1 1424.2,157.5 1424.5,152.6 1424.8,159.5 1425,152.4 1425.2,158.3 1425.5,153.9 1425.8,156 1426,152.4 1426.2,154.9 1426.5,150.9 1426.8,154.5 1427,151.5 1427.2,155.7 1427.5,151.2 1427.8,154.8 1428,152 1428.2,153.7 1428.5,151.2 1428.8,154.1 1429,146.7 1429.2,159.3 1429.5,146.4 1429.8,154.2 1430,151.2 1430.2,154.1 1430.5,150.4 1430.8,153.1 1431,150 1431.2,152.4 1431.5,149.6 1431.8,152.5 1432,150.9 1432.2,155.1 1432.5,150.4 1432.8,154.9 1433,152.2 1433.2,155.1 1433.5,151.4 1433.8,155 1434,152 1434.2,155.6 1434.5,151.5 1434.8,155.1 1435,151.5 1435.2,155 1435.5,148 1435.8,157.1 1436,146.5 1436.2,154.3 1436.5,148.7 1436.8,155.4 1437,148 1437.2,156.2 1437.5,146 1437.8,156.5 1438,149.1 1438.2,152.5 1438.5,147.7 1438.8,153.8 1439,146.1 1439.2,152.6 1439.5,143 1439.8,156.8 1440,143.5 1440.2,150.8 1440.5,148 1440.8,151.2 1441,148.6 1441.2,151.4 1441.5,146.6 1441.8,152.7 1442,144.7 1442.2,150.2 1442.5,146.8 1442.8,149.5 1443,147.1 1443.2,149 1443.5,146.1 1443.8,149.6 1444,146.8 1444.2,149.1 1444.5,145.2 1444.8,148.3 1445,145.3 1445.2,149.1 1445.5,146.6 1445.8,149 1446,146.2 1446.2,149.2 1446.5,145.2 1446.8,147.7 1447,143.4 1447.2,148 1447.5,142.9 1447.8,147.4 1448,143.2 1448.2,147 1448.5,143.9 1448.8,147.1 1449,143.2 1449.2,145.2 1449.5,142.7 1449.8,145.7 1450,141.8 1450.2,143.8 1450.5,140.9 1450.8,143.7 1451,139.2 1451.2,142.6 1451.5,137.6 1451.8,143.6 1452,138.8 1452.2,142.6 1452.5,139.2 1452.8,143.1 1453,138.9 1453.2,141.9 1453.5,138.2 1453.8,141.9 1454,134.9 1454.2,142.5 1454.5,134.6 1454.8,139.2 1455,135.9 1455.2,138.3 1455.5,135.2 1455.8,137.6 1456,134 1456.2,137.6 1456.5,133.1 1456.8,136 1457,134.1 1457.2,136.4 1457.5,133.2 1457.8,136.4 1458,128.5 1458.2,139.6 1458.5,126.9 1458.8,135 1459,131.8 1459.2,134.9 1459.5,131.7 1459.8,136.9 1460,130.2 1460.2,132.5 1460.5,128.7 1460.8,133.1 1461,130.5 1461.2,132.2 1461.5,128.6 1461.8,132.4 1462,127.2 1462.2,134.3 1462.5,121.5 1462.8,133 1463,126 1463.2,129 1463.5,125.4 1463.8,128.5 1464,125.3 1464.2,128.1 1464.5,123.8 1464.8,130.4 1465,123.3 1465.2,130.3 1465.5,121.1 1465.8,128.4 1466,125.2 1466.2,128.2 1466.5,123.4 1466.8,127.2 1467,123.6 1467.2,126.9 1467.5,123.3 1467.8,127.7 1468,123 1468.2,126.1 1468.5,121.8 1468.8,125.6 1469,122.6 1469.2,129.8 1469.5,115.6 1469.8,129.5 1470,120.3 1470.2,125.2 1470.5,121.7 1470.8,124.5 1471,121.2 1471.2,123.5 1471.5,120.4 1471.8,122.5 1472,119.6 1472.2,122.1 1472.5,118.4 1472.8,122.1 1473,118.2 1473.2,121.1 1473.5,117.6 1473.8,120 1474,117.7 1474.2,120.3 1474.5,116.6 1474.8,119.7 1475,115.8 1475.2,118.6 1475.5,116.6 1475.8,118.9 1476,115.1 1476.2,118.3 1476.5,116.2 1476.8,119.5 1477,115.4 1477.2,117.7 1477.5,114.6 1477.8,118 1478,114.7 1478.2,118.9 1478.5,112.3 1478.8,117.6 1479,113.2 1479.2,115.5 1479.5,111.5 1479.8,113.9 1480,111.5 1480.2,114 1480.5,109.8 1480.8,115.5 1481,111 1481.2,114.9 1481.5,110.9 1481.8,115.4 1482,111 1482.2,114.1 1482.5,111.6 1482.8,115.8 1483,108.9 1483.2,115 1483.5,110.1 1483.8,113.3 1484,109.7 1484.2,111.8 1484.5,108.6 1484.8,111.1 1485,108 1485.2,111.1 1485.5,108.9 1485.8,112.5 1486,109.2 1486.2,112.6 1486.5,110.1 1486.8,112.9 1487,109.5 1487.2,113.4 1487.5,109.3 1487.8,111.6 1488,106.2 1488.2,115.1 1488.5,106.5 1488.8,114.4 1489,108.7 1489.2,114.9 1489.5,110.9 1489.8,113.7 1490,111 1490.2,115.5 1490.5,110.9 1490.8,116.8 1491,111.8 1491.2,117.4 1491.5,112.7 1491.8,116.3 1492,112.2 1492.2,116.1 1492.5,113.2 1492.8,121.4 1493,109 1493.2,122.9 1493.5,114.2 1493.8,119.1 1494,114.7 1494.2,117.8 1494.5,114.7 1494.8,118 1495,114 1495.2,117.3 1495.5,113.2 1495.8,117 1496,114.4 1496.2,116.4 1496.5,113.9 1496.8,116.9 1497,114.4 1497.2,118.1 1497.5,114.1 1497.8,117.7 1498,113.7 1498.2,116.9 1498.5,114 1498.8,118.8 1499,110.1 1499.2,118.5 1499.5,112.7 1499.8,116.4 1500,113 1500.2,117 1500.5,112.8 1500.8,116.6 1501,112.4 1501.2,117.3 1501.5,112.9 1501.8,114.2 1502,110.3 1502.2,114.3 1502.5,111.2 1502.8,113.2 1503,110.4 1503.2,112.7 1503.5,110.4 1503.8,116.5 1504,108.2 1504.2,115.6 1504.5,109.5 1504.8,112.7 1505,109.7 1505.2,113.1 1505.5,109.4 1505.8,112.6 1506,107.7 1506.2,115.2 1506.5,105.6 1506.8,114.7 1507,108.6 1507.2,111.1 1507.5,107.7 1507.8,110.9 1508,108 1508.2,112.8 1508.5,108.6 1508.8,111.7 1509,107.4 1509.2,112.3 1509.5,106.4 1509.8,111.3 1510,106.8 1510.2,109.2 1510.5,106.5 1510.8,110.1 1511,105.1 1511.2,109.5 1511.5,106.4 1511.8,110.3 1512,106.4 1512.2,109.1 1512.5,105.2 1512.8,109.6 1513,103.8 1513.2,107.9 1513.5,103.1 1513.8,107.7 1514,102.6 1514.2,107.2 1514.5,103.5 1514.8,105.4 1515,102.1 1515.2,105.4 1515.5,102.4 1515.8,104.6 1516,101.9 1516.2,105.8 1516.5,98.3 1516.8,106.2 1517,96 1517.2,106.4 1517.5,95.8 1517.8,102.8 1518,99.6 1518.2,101.7 1518.5,97.1 1518.8,101.9 1519,99.5 1519.2,102.1 1519.5,98.3 1519.8,100.8 1520,97.8 1520.2,100 1520.5,98.1 1520.8,100.6 1521,97.8 1521.2,102.4 1521.5,97.3 1521.8,100.9 1522,97.7 1522.2,102 1522.5,93.7 1522.8,104.7 1523,93.7 1523.2,101.1 1523.5,97.6 1523.8,100.5 1524,96.5 1524.2,101.5 1524.5,95.8 1524.8,101.6 1525,98.2 1525.2,101 1525.5,97.3 1525.8,100 1526,98 1526.2,100.5 1526.5,98.2 1526.8,101.2 1527,94.5 1527.2,105 1527.5,94.5 1527.8,101.4 1528,97.7 1528.2,106.9 1528.5,93.5 1528.8,106.4 1529,98.7 1529.2,101.3 1529.5,98.1 1529.8,102 1530,97.2 1530.2,100.3 1530.5,97.7 1530.8,100.8 1531,96.4 1531.2,100.4 1531.5,91.8 1531.8,104.2 1532,91.1 1532.2,99.9 1532.5,96.8 1532.8,99.5 1533,96.5 1533.2,102.4 1533.5,92.9 1533.8,102.5 1534,96.5 1534.2,99 1534.5,95.9 1534.8,98.3 1535,95.6 1535.2,99.9 1535.5,97.8 1535.8,100.9 1536,97.2 1536.2,99.9 1536.5,98.2 1536.8,101.2 1537,99 1537.2,101.3 1537.5,97.8 1537.8,101 1538,97.7 1538.2,101.4 1538.5,95.7 1538.8,99.8 1539,93.3 1539.2,102 1539.5,93.3 1539.8,99.6 1540,95.4 1540.2,99.6 1540.5,95.2 1540.8,99 1541,96 1541.2,101.9 1541.5,93.8 1541.8,99.9 1542,96.8 1542.2,100.6 1542.5,97.8 1542.8,100.8 1543,97.9 1543.2,100.1 1543.5,96.9 1543.8,101.5 1544,97.2 1544.2,99.6 1544.5,97.5 1544.8,100.3 1545,97 1545.2,100 1545.5,97.2 1545.8,100.3 1546,94.2 1546.2,103.8 1546.5,95.3 1546.8,101.4 1547,98.9 1547.2,101.3 1547.5,98.3 1547.8,101.2 1548,98.4 1548.2,101.2 1548.5,99.1 1548.8,102.4 1549,97.5 1549.2,103.1 1549.5,99 1549.8,102.9 1550,99.6 1550.2,103.8 1550.5,100.7 1550.8,106.3 1551,97.9 1551.2,107.9 1551.5,102.3 1551.8,107.1 1552,103.1 1552.2,106.7 1552.5,103.7 1552.8,107.3 1553,103.9 1553.2,107.7 1553.5,103.4 1553.8,106 1554,103.5 1554.2,106.2 1554.5,103.1 1554.8,107 1555,104 1555.2,107 1555.5,104.9 1555.8,107.3 1556,103.6 1556.2,109.1 1556.5,103.8 1556.8,109.4 1557,106.7 1557.2,109.3 1557.5,106.7 1557.8,109.9 1558,107.5 1558.2,109.6 1558.5,106.9 1558.8,111.1 1559,107.1 1559.2,109.7 1559.5,104 1559.8,113.5 1560,103.7 1560.2,112.4 1560.5,101.4 1560.8,111.5 1561,104.6 1561.2,106.7 1561.5,101.3 1561.8,110.6 1562,101 1562.2,111.8 1562.5,99.7 1562.8,111.9 1563,104.6 1563.2,107.1 1563.5,104.1 1563.8,107.9 1564,105 1564.2,107.8 1564.5,105 1564.8,108.8 1565,105.6 1565.2,108.7 1565.5,105.1 1565.8,108 1566,105.6 1566.2,108.1 1566.5,105.1 1566.8,107.5 1567,104.6 1567.2,107.8 1567.5,104.9 1567.8,107.4 1568,105.2 1568.2,108 1568.5,104 1568.8,107.7 1569,104.7 1569.2,108.2 1569.5,104 1569.8,106.4 1570,102.5 1570.2,107.3 1570.5,102.2 1570.8,105.2 1571,101.2 1571.2,105.6 1571.5,102.6 1571.8,105.6 1572,102.3 1572.2,108 1572.5,100.2 1572.8,108.6 1573,102.6 1573.2,106 1573.5,101.9 1573.8,107.3 1574,100.7 1574.2,105.7 1574.5,102.9 1574.8,104.7 1575,97.8 1575.2,106.9 1575.5,96.9 1575.8,102.7 1576,99.4 1576.2,102.4 1576.5,97.4 1576.8,102.3 1577,100 1577.2,102.6 1577.5,99.2 1577.8,102.4 1578,98.2 1578.2,101.9 1578.5,97.3 1578.8,103.5 1579,94.6 1579.2,102.9 1579.5,95.6 1579.8,99.1 1580,95.4 1580.2,98.7 1580.5,96.2 1580.8,98.8 1581,95.8 1581.2,98.4 1581.5,93.9 1581.8,98.4 1582,91.6 1582.2,101.9 1582.5,91.6 1582.8,99.6 1583,93 1583.2,99.7 1583.5,94.2 1583.8,96.1 1584,93.2 1584.2,95.8 1584.5,91.7 1584.8,95.5 1585,91.6 1585.2,95.2 1585.5,87.7 1585.8,98.1 1586,87.8 1586.2,94.3 1586.5,91.9 1586.8,95.4 1587,91.3 1587.2,94.1 1587.5,92 1587.8,96.5 1588,89.5 1588.2,97 1588.5,91.7 1588.8,92.8 1589,90.1 1589.2,92.6 1589.5,90 1589.8,92.3 1590,86.4 1590.2,92.7 1590.5,86 1590.8,90.2 1591,87.2 1591.2,89.5 1591.5,85.7 1591.8,89.4 1592,84.1 1592.2,91.3 1592.5,85.5 1592.8,89.8 1593,87.5 1593.2,89.8 1593.5,87.1 1593.8,89.9 1594,87.4 1594.2,90.8 1594.5,87 1594.8,92 1595,87.4 1595.2,91.1 1595.5,85.8 1595.8,91.2 1596,86.2 1596.2,90.3 1596.5,87.4 1596.8,90 1597,86.6 1597.2,90.5 1597.5,86.5 1597.8,89.5 1598,87 1598.2,90.7 1598.5,87.9 1598.8,90.9 1599,85.2 1599.2,92.3 1599.5,85.9 1599.8,90.5 1600,86.9 1600.2,89.7 1600.5,87.6 1600.8,90.3 1601,86.6 1601.2,89.1 1601.5,86.5 1601.8,89.9 1602,87.1 1602.2,90.3 1602.5,88.1 1602.8,91.3 1603,89.5 1603.2,92 1603.5,89.5 1603.8,93.9 1604,90.1 1604.2,93.3 1604.5,89.7 1604.8,93.2 1605,88.3 1605.2,93.8 1605.5,88.4 1605.8,92.3 1606,89.1 1606.2,92 1606.5,88.7 1606.8,91.7 1607,87.4 1607.2,91.8 1607.5,87.3 1607.8,89.5 1608,84.4 1608.2,89.6 1608.5,86.8 1608.8,89.8 1609,87.3 1609.2,90.7 1609.5,87.9 1609.8,91.6 1610,87.2 1610.2,91.3 1610.5,88.5 1610.8,90.1 1611,87.1 1611.2,91.9 1611.5,84.9 1611.8,90.8 1612,87.7 1612.2,90.8 1612.5,87.8 1612.8,90.5 1613,85.7 1613.2,89.2 1613.5,86.4 1613.8,91.1 1614,86.9 1614.2,91.7 1614.5,88 1614.8,91.1 1615,87.7 1615.2,91.5 1615.5,86.8 1615.8,90.2 1616,82.3 1616.2,95.1 1616.5,81.7 1616.8,91.2 1617,84.5 1617.2,91.6 1617.5,85.9 1617.8,90.6 1618,87.1 1618.2,91.2 1618.5,88.1 1618.8,89.6 1619,86 1619.2,89.9 1619.5,87.6 1619.8,90.6 1620,87.3 1620.2,89.3 1620.5,86.1 1620.8,89.8 1621,86.8 1621.2,89.2 1621.5,86.2 1621.8,89.3 1622,81 1622.2,93.7 1622.5,80.1 1622.8,87.6 1623,84.4 1623.2,87.7 1623.5,84.8 1623.8,87.2 1624,83.9 1624.2,86.9 1624.5,84.4 1624.8,87.6 1625,84.7 1625.2,90 1625.5,81.3 1625.8,89.6 1626,83.8 1626.2,87.1 1626.5,84.6 1626.8,87.1 1627,83.6 1627.2,88.9 1627.5,84.8 1627.8,87.3 1628,83.4 1628.2,86 1628.5,83.4 1628.8,85.9 1629,81.9 1629.2,86.8 1629.5,82.6 1629.8,89.8 1630,78.9 1630.2,90.5 1630.5,82.6 1630.8,87.1 1631,82.2 1631.2,87.7 1631.5,82.7 1631.8,86.3 1632,82.7 1632.2,85.6 1632.5,83 1632.8,87.1 1633,83.1 1633.2,86.7 1633.5,83.1 1633.8,86.2 1634,83.2 1634.2,85.9 1634.5,82.3 1634.8,85.8 1635,83.6 1635.2,86.1 1635.5,83 1635.8,85.7 1636,82.4 1636.2,84.3 1636.5,81.3 1636.8,84.3 1637,76.7 1637.2,88.2 1637.5,75.8 1637.8,85.3 1638,78.7 1638.2,85.3 1638.5,78.3 1638.8,88 1639,78.5 1639.2,86.7 1639.5,81.2 1639.8,86.8 1640,81.5 1640.2,84.1 1640.5,81.6 1640.8,84.3 1641,81.8 1641.2,85.4 1641.5,82.5 1641.8,85.2 1642,79 1642.2,88.9 1642.5,79.8 1642.8,90.6 1643,78.6 1643.2,90.2 1643.5,82.3 1643.8,86.5 1644,81.1 1644.2,87.6 1644.5,80.2 1644.8,87.7 1645,80.4 1645.2,86.9 1645.5,83.4 1645.8,86.4 1646,82.4 1646.2,90.8 1646.5,81.5 1646.8,87.3 1647,84.6 1647.2,89.2 1647.5,84.6 1647.8,90.2 1648,85.8 1648.2,92 1648.5,87.7 1648.8,90.5 1649,86.7 1649.2,93.6 1649.5,86.5 1649.8,91.1 1650,89.2 1650.2,91.7 1650.5,88.4 1650.8,91.6 1651,89.2 1651.2,92.9 1651.5,90 1651.8,93.3 1652,88 1652.2,96.5 1652.5,89.1 1652.8,94.8 1653,91.5 1653.2,94.5 1653.5,91.5 1653.8,95.9 1654,91.9 1654.2,95.5 1654.5,90.7 1654.8,96.3 1655,90 1655.2,93.8 1655.5,91.1 1655.8,94.2 1656,92.3 1656.2,95.2 1656.5,93.2 1656.8,96.5 1657,93.3 1657.2,96.1 1657.5,93.8 1657.8,97.2 1658,93.4 1658.2,96.4 1658.5,91.8 1658.8,97.2 1659,91.6 1659.2,96.3 1659.5,93.2 1659.8,96.3 1660,92.1 1660.2,97.9 1660.5,93.1 1660.8,99.8 1661,92.5 1661.2,100 1661.5,96.3 1661.8,98.9 1662,96.7 1662.2,100.1 1662.5,95.6 1662.8,99.6 1663,96.8 1663.2,99.7 1663.5,96.5 1663.8,99.6 1664,97.7 1664.2,102.5 1664.5,97.3 1664.8,102.3 1665,98.8 1665.2,102.4 1665.5,100.5 1665.8,104 1666,101.1 1666.2,104.5 1666.5,100.5 1666.8,105.2 1667,99.6 1667.2,104.4 1667.5,98.5 1667.8,106 1668,98.6 1668.2,104.2 1668.5,101.5 1668.8,105 1669,100.9 1669.2,104.7 1669.5,100.8 1669.8,104.4 1670,101.7 1670.2,104.8 1670.5,100.2 1670.8,106.8 1671,99.9 1671.2,104.9 1671.5,102.2 1671.8,105 1672,101.8 1672.2,106 1672.5,102.9 1672.8,107.3 1673,100.9 1673.2,106.8 1673.5,101.2 1673.8,106.5 1674,100.7 1674.2,107.9 1674.5,102.5 1674.8,105.8 1675,102.6 1675.2,105.3 1675.5,103.2 1675.8,106.9 1676,100.5 1676.2,109.5 1676.5,101.8 1676.8,109 1677,104.5 1677.2,108.6 1677.5,105.3 1677.8,108 1678,102.5 1678.2,109.9 1678.5,104.8 1678.8,108.7 1679,105.8 1679.2,108 1679.5,104.8 1679.8,108 1680,105.4 1680.2,108.4 1680.5,105.4 1680.8,107.9 1681,104.2 1681.2,110.1 1681.5,103.7 1681.8,108.3 1682,104.8 1682.2,109.3 1682.5,104 1682.8,111.6 1683,104.4 1683.2,108 1683.5,104.9 1683.8,110 1684,107.4 1684.2,112.1 1684.5,103.9 1684.8,111.9 1685,106.3 1685.2,108.9 1685.5,105.3 1685.8,110 1686,105.9 1686.2,108.3 1686.5,104.7 1686.8,109.1 1687,104.6 1687.2,109.4 1687.5,105.5 1687.8,109.3 1688,103 1688.2,110.6 1688.5,104.7 1688.8,108.5 1689,106.3 1689.2,109.1 1689.5,103.2 1689.8,113.1 1690,104 1690.2,110.1 1690.5,107.5 1690.8,110.4 1691,108.2 1691.2,110.9 1691.5,108.2 1691.8,110.8 1692,102.9 1692.2,114.9 1692.5,102.1 1692.8,109 1693,105.6 1693.2,109.2 1693.5,105.9 1693.8,110.2 1694,105.9 1694.2,114.7 1694.5,102.3 1694.8,113.6 1695,106.6 1695.2,114.9 1695.5,101.8 1695.8,115.4 1696,107.2 1696.2,109.4 1696.5,107.2 1696.8,110 1697,106.1 1697.2,110.8 1697.5,105.7 1697.8,109.4 1698,106.4 1698.2,109.1 1698.5,104.5 1698.8,109.6 1699,106.6 1699.2,108.8 1699.5,106.1 1699.8,109.3 1700,105.9 1700.2,109.8 1700.5,104.4 1700.8,110.3 1701,105.3 1701.2,108 1701.5,103.5 1701.8,109.5 1702,102.8 1702.2,107.8 1702.5,104.9 1702.8,107.8 1703,103.7 1703.2,109.4 1703.5,106.3 1703.8,108.5 1704,106.8 1704.2,109.4 1704.5,107.3 1704.8,109.7 1705,106.8 1705.2,109.4 1705.5,106.6 1705.8,110.1 1706,105.9 1706.2,109 1706.5,105.7 1706.8,108.7 1707,107 1707.2,110 1707.5,105.8 1707.8,112.3 1708,107.1 1708.2,109.5 1708.5,106.6 1708.8,110.3 1709,105.4 1709.2,110.8 1709.5,106.2 1709.8,109.6 1710,106.4 1710.2,109.9 1710.5,106.7 1710.8,109.3 1711,106.5 1711.2,109.1 1711.5,106.4 1711.8,108.2 1712,105.7 1712.2,108.7 1712.5,105.5 1712.8,108.7 1713,105.6 1713.2,107.9 1713.5,102.5 1713.8,109.4 1714,101.4 1714.2,108.5 1714.5,104.3 1714.8,106.8 1715,102.7 1715.2,107.3 1715.5,104.9 1715.8,107.5 1716,105.8 1716.2,108.3 1716.5,104.9 1716.8,107.6 1717,105.4 1717.2,108.2 1717.5,105.5 1717.8,107.8 1718,104.9 1718.2,108.2 1718.5,103.1 1718.8,108.8 1719,103.4 1719.2,107.3 1719.5,105.3 1719.8,107.7 1720,104.6 1720.2,109 1720.5,104.5 1720.8,108.3 1721,104.6 1721.2,107.9 1721.5,104.5 1721.8,108.6 1722,104.8 1722.2,108.6 1722.5,105 1722.8,108.4 1723,105.9 1723.2,108.9 1723.5,106.4 1723.8,113.7 1724,100.6 1724.2,113 1724.5,104.6 1724.8,108 1725,100.4 1725.2,113.2 1725.5,100.3 1725.8,108 1726,105.4 1726.2,111 1726.5,103.9 1726.8,110 1727,105.2 1727.2,108.1 1727.5,105.5 1727.8,108.2 1728,105 1728.2,109.8 1728.5,103 1728.8,109.5 1729,105 1729.2,109.6 1729.5,103 1729.8,109.9 1730,105.4 1730.2,113.8 1730.5,100.3 1730.8,112.8 1731,104.5 1731.2,108.2 1731.5,104.7 1731.8,107.1 1732,104.3 1732.2,106.5 1732.5,103.7 1732.8,108.3 1733,102.8 1733.2,109.5 1733.5,105.5 1733.8,107.6 1734,104.4 1734.2,106.7 1734.5,104.3 1734.8,107.8 1735,103.7 1735.2,105.9 1735.5,102 1735.8,109.4 1736,101.9 1736.2,105.8 1736.5,103.5 1736.8,106.2 1737,103.8 1737.2,107.7 1737.5,101.7 1737.8,107.7 1738,100.7 1738.2,107.9 1738.5,100.9 1738.8,105.6 1739,103.5 1739.2,106.2 1739.5,103.8 1739.8,109.9 1740,99.8 1740.2,110.8 1740.5,101.4 1740.8,105.6 1741,102.5 1741.2,106.3 1741.5,102.8 1741.8,106.4 1742,103.6 1742.2,107.7 1742.5,103.9 1742.8,107.8 1743,104.2 1743.2,106.5 1743.5,103.7 1743.8,106.8 1744,103.5 1744.2,105.8 1744.5,103.6 1744.8,106.1 1745,101.3 1745.2,108 1745.5,99.2 1745.8,105.9 1746,99.9 1746.2,110.1 1746.5,100.4 1746.8,106.6 1747,104 1747.2,111 1747.5,102.8 1747.8,109.9 1748,101.2 1748.2,109.1 1748.5,101.4 1748.8,106.5 1749,98.7 1749.2,111.1 1749.5,100.1 1749.8,106.1 1750,99.5 1750.2,110.2 1750.5,101.1 1750.8,106.6 1751,102 1751.2,108.4 1751.5,101.9 1751.8,105.7 1752,102.8 1752.2,106.8 1752.5,103.2 1752.8,105.6 1753,102.3 1753.2,105.2 1753.5,101.3 1753.8,104.9 1754,100.9 1754.2,103.9 1754.5,99.6 1754.8,105.9 1755,99.9 1755.2,104.6 1755.5,100.6 1755.8,104.6 1756,98.6 1756.2,106.9 1756.5,97.8 1756.8,106.4 1757,97.3 1757.2,106.1 1757.5,100.6 1757.8,104.9 1758,101.4 1758.2,104.3 1758.5,100.8 1758.8,104.4 1759,102.1 1759.2,105.3 1759.5,102.1 1759.8,105.6 1760,102.4 1760.2,106.9 1760.5,103.1 1760.8,106.6 1761,103.8 1761.2,107.2 1761.5,104.6 1761.8,107.7 1762,103.4 1762.2,110.6 1762.5,103.4 1762.8,108 1763,102.2 1763.2,111.1 1763.5,101.2 1763.8,110.7 1764,100.7 1764.2,111.1 1764.5,105.8 1764.8,108.2 1765,104.8 1765.2,107.5 1765.5,105.8 1765.8,108.3 1766,104.3 1766.2,111.5 1766.5,103.3 1766.8,107.4 1767,105.1 1767.2,109 1767.5,103.7" fill="none" stroke="#a9a9a9" stroke-width="0.8"/>
<line x1="1311" y1="144" x2="1311" y2="247" stroke="#a9a9a9" stroke-width="1.4"/>
<line x1="1311" y1="144" x2="1311" y2="237" stroke="#ff0000" stroke-width="1.4"/>
<polyline points="1245.5,145.4 1245.8,148.6 1246,146 1246.2,148.8 1246.5,146.5 1246.8,150.2 1247,147.1 1247.2,149.2 1247.5,147.2 1247.8,149.4 1248,147 1248.2,150.7 1248.5,147 1248.8,151.4 1249,147.1 1249.2,152 1249.5,147.6 1249.8,151.1 1250,145 1250.2,151.9 1250.5,147.4 1250.8,151.2 1251,147.2 1251.2,150.9 1251.5,147 1251.8,149.9 1252,147.4 1252.2,151.6 1252.5,147.8 1252.8,151.9 1253,147.9 1253.2,152 1253.5,146.9 1253.8,151.6 1254,148.8 1254.2,151.6 1254.5,149.5 1254.8,152.2 1255,149.7 1255.2,152.2 1255.5,149.8 1255.8,152.6 1256,148.8 1256.2,153.4 1256.5,149.6 1256.8,152.7 1257,150.4 1257.2,157.7 1257.5,145 1257.8,157 1258,148.5 1258.2,150.9 1258.5,148.3 1258.8,151.6 1259,148.2 1259.2,150.8 1259.5,149.2 1259.8,152.5 1260,149.8 1260.2,153.1 1260.5,148.9 1260.8,153.1 1261,144.8 1261.2,155.5 1261.5,145.4 1261.8,151.8 1262,149.3 1262.2,153 1262.5,150 1262.8,152.5 1263,149.7 1263.2,155.4 1263.5,146.3 1263.8,155.2 1264,149.6 1264.2,153.2 1264.5,148.2 1264.8,150.8 1265,148.6 1265.2,150.4 1265.5,144.1 1265.8,153.9 1266,144.6 1266.2,151.4 1266.5,148.6 1266.8,151.2 1267,148.4 1267.2,151 1267.5,148.6 1267.8,151.4 1268,147.9 1268.2,151.2 1268.5,147.4 1268.8,150.9 1269,148.3 1269.2,152.5 1269.5,148.5 1269.8,151.3 1270,148.7 1270.2,151.4 1270.5,148.9 1270.8,152.2 1271,149 1271.2,151.8 1271.5,149.1 1271.8,150.7 1272,147.2 1272.2,149.2 1272.5,147.2 1272.8,149.3 1273,147.6 1273.2,150.8 1273.5,147.6 1273.8,150.4 1274,146.5 1274.2,151.7 1274.5,148.2 1274.8,151.4 1275,147.1 1275.2,152.9 1275.5,149.4 1275.8,151.9 1276,147.9 1276.2,151.4 1276.5,148.8 1276.8,151.4 1277,148.3 1277.2,151.9 1277.5,149.3 1277.8,152.2 1278,148.8 1278.2,151.5 1278.5,148.3 1278.8,151.6 1279,148.6 1279.2,150.7 1279.5,146.2 1279.8,155.8 1280,146 1280.2,155.8 1280.5,146.5 1280.8,156.9 1281,149 1281.2,152.5 1281.5,150 1281.8,154.5 1282,147.9 1282.2,155 1282.5,151 1282.8,153.9 1283,150.6 1283.2,153.1 1283.5,149.9 1283.8,153 1284,150.4 1284.2,153.9 1284.5,150.7 1284.8,154.3 1285,151.5 1285.2,153.2 1285.5,150.2 1285.8,154.3 1286,150.8 1286.2,155 1286.5,150.8 1286.8,153.7 1287,149.9 1287.2,153.2 1287.5,149.5 1287.8,153.3 1288,150.3 1288.2,156.2 1288.5,148.9 1288.8,156.7 1289,151.6 1289.2,156.1 1289.5,150.6 1289.8,154.7 1290,150.1 1290.2,153.9 1290.5,148.3 1290.8,155.5 1291,148.7 1291.2,152.8 1291.5,149.5 1291.8,155.6 1292,150.8 1292.2,155.6 1292.5,151.4 1292.8,155.4 1293,151.3 1293.2,155.1 1293.5,150.6 1293.8,154.3 1294,150.9 1294.2,154.8 1294.5,150.7 1294.8,153.6 1295,148.3 1295.2,156.8 1295.5,148.1 1295.8,153 1296,150 1296.2,152.5 1296.5,149.2 1296.8,152.8 1297,147.7 1297.2,152.5 1297.5,147.3 1297.8,150.1 1298,147 1298.2,150.1 1298.5,147.2 1298.8,151.1 1299,145.2 1299.2,150.8 1299.5,146.2 1299.8,149.2 1300,146.8 1300.2,149.7 1300.5,144 1300.8,153.8 1301,144.8 1301.2,151.3 1301.5,148.1 1301.8,150.6 1302,146.5 1302.2,150.7 1302.5,147.8 1302.8,150.6 1303,147.4 1303.2,151.5 1303.5,147.2 1303.8,152.9 1304,147.2 1304.2,150 1304.5,146.7 1304.8,149 1305,144.2 1305.2,151.6 1305.5,143.5 1305.8,148.8 1306,147.2 1306.2,150.1 1306.5,146.5 1306.8,149.8 1307,146.6 1307.2,149 1307.5,144.6 1307.8,148.5 1308,145 1308.2,147.5 1308.5,145 1308.8,148.1 1309,145.6 1309.2,152.6 1309.5,139.5 1309.8,152.3 1310,144.1 1310.2,147.3 1310.5,142.9 1310.8,146.1 1311,143.8 1311.2,146.1 1311.5,142.1 1311.8,145.1 1312,140.3 1312.2,144.8 1312.5,138.6 1312.8,142.8 1313,138.7 1313.2,141.8 1313.5,138.8 1313.8,140.9 1314,136.5 1314.2,141.2 1314.5,136.4 1314.8,138.9 1315,132.7 1315.2,142.5 1315.5,132.3 1315.8,138.3 1316,138.1 1316.2,139.5 1316.5,140.1 1316.8,142.5 1317,143.6 1317.2,146.5 1317.5,148.2 1317.8,151.7 1318,153.4 1318.2,157.3 1318.5,158.9 1318.8,163.5 1319,165.2 1319.2,170.3 1319.5,171.2 1319.8,177.4 1320,180 1320.2,186.2 1320.5,190.2 1320.8,196.8 1321,202 1321.2,208.5 1321.5,212.7 1321.8,219.2 1322,222.7 1322.2,227.5 1322.5,230.4 1322.8,235.1 1323,237.9 1323.2,242.2 1323.5,244.7 1323.8,248.7 1324,250.4 1324.2,254.1 1324.5,255.4 1324.8,258.3 1325,258.7 1325.2,260.5 1325.5,260.8 1325.8,263.2 1326,262.3 1326.2,265.2 1326.5,263.7 1326.8,267.1 1327,265.5 1327.2,268.1 1327.5,267.3 1327.8,269.5 1328,269.1 1328.2,269.9 1328.5,269.6 1328.8,270.5 1329,269.1 1329.2,271.7 1329.5,269.7 1329.8,271 1330,270.2 1330.2,270.8 1330.5,269.5 1330.8,270.3 1331,269.1 1331.2,269.7 1331.5,267.8 1331.8,268.7 1332,267.1 1332.2,269.1 1332.5,264.2 1332.8,268.6 1333,264.5 1333.2,267.2 1333.5,260 1333.8,269.7 1334,259.1 1334.2,264.9 1334.5,262 1334.8,263.7 1335,260.1 1335.2,262.5 1335.5,259.8 1335.8,262.2 1336,256.8 1336.2,262.4 1336.5,255.4 1336.8,261.6 1337,252.2 1337.2,260 1337.5,252.9 1337.8,257.3 1338,252.4 1338.2,256.4 1338.5,251.3 1338.8,253 1339,249.7 1339.2,251.1 1339.5,248.3 1339.8,250.3 1340,247.7 1340.2,249.8 1340.5,246.5 1340.8,247.6 1341,244 1341.2,246 1341.5,241.1 1341.8,243.5 1342,239.8 1342.2,241.3 1342.5,237.4 1342.8,239.8 1343,234.3 1343.2,237.8 1343.5,234.1 1343.8,236.5 1344,232.1 1344.2,235.3 1344.5,231.6 1344.8,234.9 1345,229.2 1345.2,233.7 1345.5,229.3 1345.8,231.3 1346,227.6 1346.2,231.5 1346.5,223.9 1346.8,230.1 1347,224.2 1347.2,227.6 1347.5,224.3 1347.8,227.9 1348,223.3 1348.2,226.1 1348.5,221.9 1348.8,223.9 1349,220.7 1349.2,223.1 1349.5,219.7 1349.8,222.5 1350,219.2 1350.2,222.6 1350.5,218.6 1350.8,220.8 1351,217.7 1351.2,220.5 1351.5,217 1351.8,218.8 1352,214.9 1352.2,216.6 1352.5,212.5 1352.8,216.5 1353,210.3 1353.2,213.1 1353.5,209.4 1353.8,211.5 1354,205.8 1354.2,209.2 1354.5,206.5 1354.8,208.3 1355,204.4 1355.2,208.5 1355.5,202.9 1355.8,207.4 1356,201.8 1356.2,205.6 1356.5,200.3 1356.8,203.8 1357,201.2 1357.2,202.2 1357.5,197.1 1357.8,201.9 1358,195.7 1358.2,198.9 1358.5,195.7 1358.8,197.9 1359,193.5 1359.2,196 1359.5,192.9 1359.8,195.2 1360,191.5 1360.2,194.3 1360.5,188.1 1360.8,192.8 1361,187.6 1361.2,191.2 1361.5,188.3 1361.8,190.1 1362,186.5 1362.2,189.9 1362.5,183 1362.8,192.5 1363,181.7 1363.2,187.9 1363.5,184.6 1363.8,187.3 1364,183.9 1364.2,187.5 1364.5,183.1 1364.8,185.2 1365,180.6 1365.2,183.8 1365.5,179.5 1365.8,183.4 1366,176.8 1366.2,182.4 1366.5,177.6 1366.8,179.6 1367,173.4 1367.2,181.9 1367.5,172.5 1367.8,177.8 1368,174.9 1368.2,177 1368.5,173.4 1368.8,175 1369,169 1369.2,174.1 1369.5,170.4 1369.8,173.1 1370,169.9 1370.2,171.7 1370.5,168.1 1370.8,170.1 1371,165.4 1371.2,168.4 1371.5,164.4 1371.8,166.8 1372,163.3 1372.2,167.2 1372.5,162.5 1372.8,165.4 1373,161.4 1373.2,165.3 1373.5,160 1373.8,163.7 1374,158.8 1374.2,161.5 1374.5,156.8 1374.8,161 1375,158.1 1375.2,161 1375.5,156.8 1375.8,159.2 1376,156.1 1376.2,160.6 1376.5,154.2 1376.8,159.4 1377,151.1 1377.2,160.5 1377.5,153.7 1377.8,158.8 1378,152.9 1378.2,158.1 1378.5,152 1378.8,156.1 1379,153.2 1379.2,155.8 1379.5,152.6 1379.8,155.6 1380,152 1380.2,154.5 1380.5,150.7 1380.8,156.5 1381,147 1381.2,156.1 1381.5,147.6 1381.8,154.3 1382,147.5 1382.2,151.4 1382.5,148.1 1382.8,151.4 1383,146.9 1383.2,149.6 1383.5,146.3 1383.8,148.5 1384,146.4 1384.2,150 1384.5,144 1384.8,150.5 1385,145.5 1385.2,148.5 1385.5,145.2 1385.8,148.7 1386,146.2 1386.2,148.4 1386.5,145.6 1386.8,149.8 1387,145.5 1387.2,148.6 1387.5,145.2 1387.8,147.5 1388,144.6 1388.2,147.2 1388.5,143.2 1388.8,146.4 1389,142.9 1389.2,147.9 1389.5,144.5 1389.8,147.5 1390,142.9 1390.2,148.2 1390.5,143.9 1390.8,147.3 1391,144.2 1391.2,148.1 1391.5,142.2 1391.8,148.1 1392,143.2 1392.2,145.8 1392.5,142.9 1392.8,147.4 1393,143.5 1393.2,146.9 1393.5,142.8 1393.8,145.2 1394,142.1 1394.2,145.2 1394.5,142.4 1394.8,144.9 1395,140.4 1395.2,143.4 1395.5,137.6 1395.8,145.2 1396,137.7 1396.2,143 1396.5,137.6 1396.8,141.5 1397,139 1397.2,141.3 1397.5,136.1 1397.8,141.7 1398,137.4 1398.2,141 1398.5,138.2 1398.8,142.3 1399,135.4 1399.2,142.1 1399.5,136.9 1399.8,139.8 1400,137.1 1400.2,139.2 1400.5,135.9 1400.8,139.6 1401,134.5 1401.2,142.2 1401.5,134.3 1401.8,139.7 1402,136.6 1402.2,139.2 1402.5,136.2 1402.8,138.5 1403,135.1 1403.2,137.9 1403.5,134.4 1403.8,138.4 1404,133.3 1404.2,136.8 1404.5,133.9 1404.8,137.3 1405,135.5 1405.2,138.7 1405.5,133.8 1405.8,138.8 1406,131.6 1406.2,140.6 1406.5,131.6 1406.8,137.9 1407,133.3 1407.2,137.3 1407.5,133.4 1407.8,136.6 1408,134.3 1408.2,136.5 1408.5,132.7 1408.8,135.2 1409,131.3 1409.2,137.5 1409.5,132.1 1409.8,137.2 1410,131 1410.2,138.9 1410.5,131.4 1410.8,138 1411,134.3 1411.2,137.1 1411.5,132.7 1411.8,140.5 1412,132.5 1412.2,135.7 1412.5,130.1 1412.8,136.9 1413,129.8 1413.2,135.8 1413.5,131.2 1413.8,134.4 1414,131.6 1414.2,134.4 1414.5,130.5 1414.8,135 1415,128 1415.2,135.5 1415.5,130.3 1415.8,134.5 1416,129 1416.2,132.2 1416.5,128.5 1416.8,132 1417,128.7 1417.2,130.9 1417.5,125.1 1417.8,135.9 1418,124.8 1418.2,131.8 1418.5,129.5 1418.8,132.4 1419,129 1419.2,131.9 1419.5,128.7 1419.8,130.8 1420,127.1 1420.2,130.7 1420.5,126.5 1420.8,130.1 1421,126.3 1421.2,128.8 1421.5,126 1421.8,130 1422,123.1 1422.2,129.4 1422.5,124.7 1422.8,127.9 1423,125.1 1423.2,130.7 1423.5,123.2 1423.8,130.9 1424,125.3 1424.2,128.6 1424.5,126 1424.8,129.4 1425,126 1425.2,129.3 1425.5,124.7 1425.8,130.1 1426,124.8 1426.2,128.3 1426.5,124.1 1426.8,128.5 1427,123.4 1427.2,129.9 1427.5,121.6 1427.8,128.8 1428,123.3 1428.2,127.1 1428.5,125.3 1428.8,127.9 1429,124.8 1429.2,128.9 1429.5,125.4 1429.8,129.4 1430,125.1 1430.2,127.7 1430.5,124.2 1430.8,126.7 1431,123.3 1431.2,131.4 1431.5,118.5 1431.8,131.8 1432,122.8 1432.2,128 1432.5,123.1 1432.8,127.5 1433,124.5 1433.2,126.5 1433.5,123.6 1433.8,125.8 1434,122.3 1434.2,124.8 1434.5,122.1 1434.8,124.2 1435,121.5 1435.2,124.3 1435.5,121.3 1435.8,124.7 1436,119.1 1436.2,124.2 1436.5,118.2 1436.8,123 1437,119 1437.2,122.2 1437.5,120 1437.8,121.7 1438,119.4 1438.2,123.1 1438.5,118.5 1438.8,123.5 1439,117.2 1439.2,122 1439.5,116.6 1439.8,122.4 1440,117.8 1440.2,120.3 1440.5,117.6 1440.8,119.5 1441,118.3 1441.2,121.1 1441.5,118.5 1441.8,121.5 1442,118.7 1442.2,122.4 1442.5,120.4 1442.8,124 1443,119.9 1443.2,123.3 1443.5,120.3 1443.8,122.7 1444,120.1 1444.2,123 1444.5,120.7 1444.8,123.4 1445,120.3 1445.2,125.3 1445.5,120.9 1445.8,125.2 1446,122.6 1446.2,125.3 1446.5,122.7 1446.8,125 1447,122.5 1447.2,125.6 1447.5,123.4 1447.8,127.2 1448,124.8 1448.2,128.6 1448.5,123.6 1448.8,128.3 1449,124.1 1449.2,127.8 1449.5,123.8 1449.8,126.7 1450,123.5 1450.2,127.3 1450.5,124.3 1450.8,126.6 1451,123.7 1451.2,126.9 1451.5,123.3 1451.8,127.3 1452,123 1452.2,127.5 1452.5,123.9 1452.8,126.6 1453,118.6 1453.2,131.9 1453.5,118.6 1453.8,126.1 1454,123.4 1454.2,125.9 1454.5,122.4 1454.8,125.3 1455,121.8 1455.2,125.4 1455.5,118.7 1455.8,125.7 1456,120 1456.2,123.5 1456.5,115.2 1456.8,124.4 1457,115.7 1457.2,120.2 1457.5,117.2 1457.8,121.5 1458,115.4 1458.2,122.4 1458.5,116.8 1458.8,120.2 1459,115.4 1459.2,120.4 1459.5,116.9 1459.8,120.7 1460,117.4 1460.2,119.8 1460.5,117.4 1460.8,121 1461,115.1 1461.2,120.8 1461.5,115.1 1461.8,120.6 1462,114.7 1462.2,119.5 1462.5,114.4 1462.8,120.3 1463,115.1 1463.2,119.3 1463.5,115.9 1463.8,118.8 1464,116.2 1464.2,118.9 1464.5,114.1 1464.8,120 1465,113.7 1465.2,118 1465.5,112.8 1465.8,120.7 1466,112.8 1466.2,121.7 1466.5,114.3 1466.8,121.1 1467,116.5 1467.2,119.3 1467.5,115.7 1467.8,120.1 1468,115.3 1468.2,119.4 1468.5,116.6 1468.8,119.2 1469,116.4 1469.2,119.4 1469.5,116.7 1469.8,119.4 1470,116.8 1470.2,119.3 1470.5,116.9 1470.8,120.1 1471,117 1471.2,119.3 1471.5,116.5 1471.8,120.6 1472,117.7 1472.2,120.7 1472.5,118 1472.8,121.2 1473,119.3 1473.2,122.3 1473.5,120 1473.8,123.3 1474,120.2 1474.2,122.6 1474.5,119.8 1474.8,123.1 1475,119.2 1475.2,123 1475.5,119.9 1475.8,123.9 1476,120.3 1476.2,123.6 1476.5,118.4 1476.8,125.2 1477,117.5 1477.2,124.3 1477.5,121.8 1477.8,124.6 1478,121.1 1478.2,124.4 1478.5,122.1 1478.8,127.7 1479,121.8 1479.2,128.2 1479.5,123.1 1479.8,125.8 1480,122.9 1480.2,126.5 1480.5,123.5 1480.8,126 1481,123.4 1481.2,127 1481.5,121.6 1481.8,127.5 1482,120.7 1482.2,126.8 1482.5,120.2 1482.8,127.6 1483,121.2 1483.2,126.7 1483.5,118.3 1483.8,127.6 1484,121 1484.2,123.8 1484.5,121.1 1484.8,124.9 1485,120.9 1485.2,124.1 1485.5,121.7 1485.8,125 1486,121.7 1486.2,124.1 1486.5,121.7 1486.8,123.5 1487,115.4 1487.2,128 1487.5,114.8 1487.8,121.7 1488,119.1 1488.2,121.8 1488.5,119.3 1488.8,123 1489,118.8 1489.2,121.2 1489.5,118.7 1489.8,122.2 1490,118.7 1490.2,122.1 1490.5,119 1490.8,121.9 1491,119.4 1491.2,121.1 1491.5,118.1 1491.8,121.2 1492,119 1492.2,121.9 1492.5,118.1 1492.8,120.2 1493,116.9 1493.2,119.4 1493.5,116.6 1493.8,118.9 1494,117.1 1494.2,119.7 1494.5,116.3 1494.8,119.3 1495,116.2 1495.2,119.8 1495.5,115.9 1495.8,119 1496,117.2 1496.2,119.6 1496.5,117 1496.8,120.2 1497,117.4 1497.2,120.4 1497.5,118.3 1497.8,120.3 1498,116.8 1498.2,120.1 1498.5,116.6 1498.8,119.6 1499,115.6 1499.2,121.8 1499.5,115.5 1499.8,120.8 1500,116.3 1500.2,122.3 1500.5,114.1 1500.8,127.8 1501,115.2 1501.2,122.5 1501.5,119.2 1501.8,127.7 1502,115.1 1502.2,129 1502.5,120.2 1502.8,124.2 1503,120.1 1503.2,123.9 1503.5,121.3 1503.8,124.8 1504,123 1504.2,125.6 1504.5,122.7 1504.8,125.6 1505,121.7 1505.2,127.2 1505.5,121.7 1505.8,129 1506,123 1506.2,128.4 1506.5,124.7 1506.8,129.4 1507,124.7 1507.2,130.5 1507.5,124.9 1507.8,129.9 1508,126.9 1508.2,130.4 1508.5,127.2 1508.8,134.3 1509,121.5 1509.2,134 1509.5,126.3 1509.8,129.2 1510,125.4 1510.2,128 1510.5,125.2 1510.8,129 1511,126 1511.2,130.2 1511.5,126.9 1511.8,135 1512,122.7 1512.2,135 1512.5,127.4 1512.8,131 1513,128.7 1513.2,131 1513.5,128.8 1513.8,137.3 1514,124.4 1514.2,137.1 1514.5,129.4 1514.8,132.4 1515,130.7 1515.2,138.6 1515.5,126 1515.8,138.5 1516,130.3 1516.2,135.6 1516.5,130.6 1516.8,136.8 1517,131.3 1517.2,139.6 1517.5,130.7 1517.8,136.3 1518,131.9 1518.2,134.4 1518.5,131.9 1518.8,134.8 1519,130.9 1519.2,137.4 1519.5,130.9 1519.8,134.8 1520,131.9 1520.2,134.4 1520.5,131.2 1520.8,133.7 1521,125.9 1521.2,139 1521.5,125.9 1521.8,134.1 1522,131.6 1522.2,134.6 1522.5,131.5 1522.8,136.9 1523,129.6 1523.2,136.1 1523.5,131.5 1523.8,133.8 1524,131.4 1524.2,133.1 1524.5,130.1 1524.8,132 1525,129 1525.2,132.4 1525.5,129.2 1525.8,135.3 1526,124.9 1526.2,133.2 1526.5,128.9 1526.8,131.4 1527,129 1527.2,132.5 1527.5,129.5 1527.8,131.8 1528,129.5 1528.2,132.6 1528.5,126.8 1528.8,133.9 1529,126.5 1529.2,130.5 1529.5,127.3 1529.8,130.2 1530,126.2 1530.2,130.8 1530.5,125.9 1530.8,130 1531,127.2 1531.2,129.9 1531.5,127.2 1531.8,132.3 1532,124.1 1532.2,133 1532.5,127.1 1532.8,130.3 1533,127 1533.2,130.3 1533.5,126.9 1533.8,130.5 1534,127.3 1534.2,131.2 1534.5,128.7 1534.8,132.3 1535,127.4 1535.2,131.7 1535.5,128.4 1535.8,131 1536,129.1 1536.2,132.4 1536.5,130.4 1536.8,133.3 1537,130.2 1537.2,132.3 1537.5,127.5 1537.8,135.6 1538,127.5 1538.2,132.4 1538.5,129.8 1538.8,133.4 1539,130.1 1539.2,133.6 1539.5,129.9 1539.8,134.2 1540,131.4 1540.2,134.3 1540.5,131.3 1540.8,134.2 1541,131.4 1541.2,133.5 1541.5,130.5 1541.8,133.3 1542,130.5 1542.2,133.2 1542.5,130.9 1542.8,137.9 1543,125.4 1543.2,137.2 1543.5,130.4 1543.8,133.1 1544,125.7 1544.2,136 1544.5,125.2 1544.8,133.1 1545,124.3 1545.2,136 1545.5,123.8 1545.8,131.1 1546,128.8 1546.2,131.6 1546.5,128.2 1546.8,131.6 1547,128.9 1547.2,131.9 1547.5,127.5 1547.8,131.6 1548,126.1 1548.2,130 1548.5,128 1548.8,130.1 1549,126.9 1549.2,131.3 1549.5,126.7 1549.8,130.9 1550,127.1 1550.2,131.6 1550.5,124.3 1550.8,131.4 1551,126.4 1551.2,128.6 1551.5,124.1 1551.8,128.5 1552,124.6 1552.2,127.9 1552.5,124.5 1552.8,128.4 1553,125.7 1553.2,129.2 1553.5,123.1 1553.8,128.1 1554,124.3 1554.2,127.8 1554.5,125.4 1554.8,127.9 1555,123.6 1555.2,126.7 1555.5,124 1555.8,129.4 1556,119.3 1556.2,130.6 1556.5,123.8 1556.8,127.8 1557,122.5 1557.2,127.9 1557.5,123.7 1557.8,127.3 1558,120.5 1558.2,126.9 1558.5,122.1 1558.8,124.5 1559,120.5 1559.2,123.1 1559.5,120.6 1559.8,122.8 1560,119.9 1560.2,122.9 1560.5,118.5 1560.8,123 1561,118.4 1561.2,121.3 1561.5,119.2 1561.8,121.5 1562,119.4 1562.2,122.3 1562.5,118.9 1562.8,121.7 1563,118.3 1563.2,120.8 1563.5,117 1563.8,120.3 1564,118 1564.2,123.8 1564.5,114.9 1564.8,124.2 1565,118.2 1565.2,120.9 1565.5,118.3 1565.8,120.7 1566,117.8 1566.2,121.4 1566.5,118.5 1566.8,122.5 1567,116.5 1567.2,123.6 1567.5,118.9 1567.8,122.1 1568,118.6 1568.2,123.7 1568.5,118.7 1568.8,124 1569,121 1569.2,126.8 1569.5,120.5 1569.8,125 1570,122.9 1570.2,127.1 1570.5,124.1 1570.8,128.3 1571,126.5 1571.2,132.6 1571.5,122.3 1571.8,133.4 1572,127.3 1572.2,132.7 1572.5,128.6 1572.8,132 1573,127.6 1573.2,131.8 1573.5,130 1573.8,133.9 1574,130.3 1574.2,133.2 1574.5,131.9 1574.8,134.5 1575,132.1 1575.2,134.7 1575.5,131.4 1575.8,135.3 1576,132.2 1576.2,135.6 1576.5,130.4 1576.8,134.7 1577,133.4 1577.2,136.5 1577.5,133.6 1577.8,137.3 1578,133.8 1578.2,136.9 1578.5,134.2 1578.8,138.2 1579,134 1579.2,139.6 1579.5,135.2 1579.8,138.7 1580,132 1580.2,143.2 1580.5,131.8 1580.8,138.5 1581,136.2 1581.2,139.5 1581.5,135.7 1581.8,138.5 1582,136.1 1582.2,140.6 1582.5,137.3 1582.8,141.2 1583,135.6 1583.2,140.4 1583.5,137.4 1583.8,140.5 1584,137.9 1584.2,141.8 1584.5,137.1 1584.8,140.8 1585,137.6 1585.2,141.6 1585.5,136.8 1585.8,141.5 1586,137.9 1586.2,145.8 1586.5,133.1 1586.8,145.9 1587,137.6 1587.2,141.3 1587.5,137.1 1587.8,143.1 1588,138.9 1588.2,143.2 1588.5,139.5 1588.8,141.8 1589,139.1 1589.2,142.8 1589.5,138.3 1589.8,142.5 1590,138.2 1590.2,142.3 1590.5,138.7 1590.8,143.4 1591,140 1591.2,143.4 1591.5,140.2 1591.8,146.7 1592,136.5 1592.2,145.1 1592.5,138.4 1592.8,143.7 1593,136.8 1593.2,140.2 1593.5,137.5 1593.8,140.7 1594,137.4 1594.2,140.5 1594.5,137.5 1594.8,140.3 1595,135.4 1595.2,140 1595.5,135.7 1595.8,138.8 1596,134 1596.2,138.5 1596.5,132.9 1596.8,137.9 1597,132.5 1597.2,137.9 1597.5,130.3 1597.8,138.6 1598,131.5 1598.2,135 1598.5,131.8 1598.8,134.5 1599,126.9 1599.2,137.2 1599.5,126.9 1599.8,133.7 1600,130.9 1600.2,134.8 1600.5,131.5 1600.8,138.4 1601,126 1601.2,139.3 1601.5,131.8 1601.8,134.1 1602,131.6 1602.2,134.6 1602.5,132.2 1602.8,135.4 1603,129.6 1603.2,135.5 1603.5,130.8 1603.8,133.5 1604,131.6 1604.2,134.6 1604.5,130 1604.8,135.8 1605,130.5 1605.2,134.9 1605.5,132.1 1605.8,135.1 1606,129.5 1606.2,135.3 1606.5,131.5 1606.8,135.3 1607,132.2 1607.2,134.6 1607.5,129.7 1607.8,136.7 1608,130 1608.2,135.7 1608.5,130.2 1608.8,135.2 1609,131.6 1609.2,135.3 1609.5,131.9 1609.8,134.6 1610,132 1610.2,135.4 1610.5,132.7 1610.8,136.1 1611,132.2 1611.2,134.8 1611.5,132.8 1611.8,135.9 1612,132.3 1612.2,136 1612.5,131.9 1612.8,135.5 1613,132.3 1613.2,135.7 1613.5,133.9 1613.8,138.1 1614,134.1 1614.2,139.1 1614.5,135.6 1614.8,138.2 1615,135.1 1615.2,138.6 1615.5,136.6 1615.8,139.5 1616,136 1616.2,139.9 1616.5,136.9 1616.8,140.1 1617,138.1 1617.2,140.6 1617.5,137.2 1617.8,142.3 1618,136.3 1618.2,139.8 1618.5,137.5 1618.8,140.2 1619,136.1 1619.2,141.2 1619.5,136.8 1619.8,139.2 1620,136.9 1620.2,139 1620.5,136.6 1620.8,138.9 1621,137 1621.2,140.9 1621.5,137.6 1621.8,140.4 1622,138.2 1622.2,140.9 1622.5,138.2 1622.8,144.6 1623,133.9 1623.2,145.3 1623.5,139.4 1623.8,141.9 1624,139.2 1624.2,142 1624.5,138.1 1624.8,140.6 1625,137.8 1625.2,141.3 1625.5,137.8 1625.8,141.2 1626,137.6 1626.2,142 1626.5,138.3 1626.8,141.9 1627,137.8 1627.2,140.5 1627.5,137.9 1627.8,139.3 1628,137 1628.2,139.2 1628.5,136.2 1628.8,138.8 1629,136.5 1629.2,139.3 1629.5,137 1629.8,140.2 1630,136.7 1630.2,139.4 1630.5,136.4 1630.8,139.7 1631,136 1631.2,139.8 1631.5,138 1631.8,142 1632,136.8 1632.2,142.8 1632.5,136.2 1632.8,143.4 1633,136.4 1633.2,141.7 1633.5,138.9 1633.8,141.5 1634,134.9 1634.2,143.6 1634.5,137 1634.8,141.8 1635,139.3 1635.2,142.1 1635.5,138.2 1635.8,141.1 1636,137.9 1636.2,141.2 1636.5,137 1636.8,141.1 1637,137.9 1637.2,145.3 1637.5,131.9 1637.8,145.3 1638,136 1638.2,140.1 1638.5,136.3 1638.8,139.1 1639,135.5 1639.2,139.2 1639.5,136.2 1639.8,139 1640,137.4 1640.2,139.4 1640.5,137.4 1640.8,140.6 1641,138.6 1641.2,140.4 1641.5,138.6 1641.8,141.8 1642,139.1 1642.2,143.7 1642.5,137 1642.8,143.6 1643,138.5 1643.2,141.5 1643.5,137.6 1643.8,141.4 1644,138.9 1644.2,141.7 1644.5,137.9 1644.8,140.3 1645,136.7 1645.2,143.5 1645.5,133.9 1645.8,142.9 1646,133.9 1646.2,141.9 1646.5,132.9 1646.8,138.3 1647,135 1647.2,137.3 1647.5,135 1647.8,137.8 1648,134.7 1648.2,136.9 1648.5,133 1648.8,137.3 1649,135 1649.2,137.2 1649.5,134 1649.8,137.1 1650,134.5 1650.2,137.2 1650.5,134.1 1650.8,138.2 1651,133.7 1651.2,138.2 1651.5,134.6 1651.8,139.1 1652,134.4 1652.2,137.1 1652.5,134.1 1652.8,139 1653,133.2 1653.2,139.8 1653.5,134 1653.8,140.8 1654,131.9 1654.2,139.2 1654.5,133.3 1654.8,135.8 1655,132.9 1655.2,138.2 1655.5,132.2 1655.8,138.6 1656,133.6 1656.2,136.3 1656.5,133.9 1656.8,136.7 1657,133.3 1657.2,137.8 1657.5,132.1 1657.8,136.5 1658,133.7 1658.2,137.2 1658.5,133.9 1658.8,136.4 1659,134.5 1659.2,137.8 1659.5,135 1659.8,137.9 1660,136.3 1660.2,139.4 1660.5,136.4 1660.8,139.9 1661,137 1661.2,139.6 1661.5,138.4 1661.8,141.6 1662,138.5 1662.2,143 1662.5,136.1 1662.8,143.6 1663,139.4 1663.2,142.3 1663.5,140 1663.8,144.3 1664,140.4 1664.2,142.8 1664.5,138.6 1664.8,144.5 1665,139.7 1665.2,142.3 1665.5,138.1 1665.8,142.2 1666,139.2 1666.2,143.6 1666.5,138.5 1666.8,143.2 1667,140.3 1667.2,142.6 1667.5,139.6 1667.8,142.3 1668,139.5 1668.2,142.9 1668.5,139.5 1668.8,143.1 1669,140 1669.2,142.7 1669.5,140.9 1669.8,143.8 1670,140.6 1670.2,146.8 1670.5,138.8 1670.8,146.9 1671,142.1 1671.2,145.3 1671.5,142.3 1671.8,146.3 1672,142.2 1672.2,144.2 1672.5,141.6 1672.8,144.9 1673,140.4 1673.2,143.6 1673.5,139.8 1673.8,144 1674,141 1674.2,143.9 1674.5,140.8 1674.8,143.2 1675,140.1 1675.2,143.3 1675.5,139.5 1675.8,142.6 1676,139.4 1676.2,147.7 1676.5,135.8 1676.8,146.5 1677,139.4 1677.2,142.4 1677.5,139.3 1677.8,142.7 1678,139.2 1678.2,141.9 1678.5,139.7 1678.8,143 1679,139.7 1679.2,144.8 1679.5,139.7 1679.8,145.3 1680,141.6 1680.2,144.5 1680.5,140.2 1680.8,145.2 1681,140.9 1681.2,142.9 1681.5,140.4 1681.8,143.1 1682,139.9 1682.2,142.8 1682.5,139.2 1682.8,142.5 1683,139.4 1683.2,142.4 1683.5,139 1683.8,145.1 1684,138.1 1684.2,142.8 1684.5,138.8 1684.8,141.5 1685,139.1 1685.2,141.5 1685.5,138 1685.8,142.2 1686,136.9 1686.2,139.3 1686.5,135.1 1686.8,140.3 1687,135.3 1687.2,139.1 1687.5,134.6 1687.8,139.6 1688,133.6 1688.2,138.6 1688.5,136 1688.8,138 1689,135.4 1689.2,138.1 1689.5,135.9 1689.8,139.7 1690,135.8 1690.2,140.5 1690.5,136.5 1690.8,139.8 1691,135.7 1691.2,141.7 1691.5,135.7 1691.8,139 1692,136.3 1692.2,138.5 1692.5,135.8 1692.8,138.7 1693,136.4 1693.2,140.2 1693.5,136.4 1693.8,141.1 1694,136.1 1694.2,140.7 1694.5,136.8 1694.8,140.2 1695,136.6 1695.2,140.3 1695.5,130.2 1695.8,143.2 1696,131.4 1696.2,139.3 1696.5,135.6 1696.8,141.7 1697,133.4 1697.2,141.8 1697.5,135.7 1697.8,140.5 1698,135.1 1698.2,138.8 1698.5,135.1 1698.8,140 1699,135.7 1699.2,138.9 1699.5,132.6 1699.8,141.4 1700,131.2 1700.2,139 1700.5,136 1700.8,138.7 1701,136.7 1701.2,140.3 1701.5,136.4 1701.8,139.1 1702,134.8 1702.2,139.1 1702.5,135.7 1702.8,138.1 1703,133.7 1703.2,139.1 1703.5,133.6 1703.8,137.4 1704,132.1 1704.2,142.1 1704.5,132 1704.8,143.7 1705,130.2 1705.2,142.5 1705.5,135.5 1705.8,138.4 1706,134.7 1706.2,137.8 1706.5,134.6 1706.8,139.2 1707,134.2 1707.2,137.8 1707.5,134.2 1707.8,136.8 1708,134.2 1708.2,139.2 1708.5,132.6 1708.8,139.6 1709,135.2 1709.2,138.6 1709.5,135.6 1709.8,139.7 1710,136.5 1710.2,140.4 1710.5,135 1710.8,139.8 1711,136.4 1711.2,139.2 1711.5,135.1 1711.8,138.2 1712,134.8 1712.2,138.8 1712.5,135.7 1712.8,139 1713,136.3 1713.2,139.1 1713.5,135.9 1713.8,138.9 1714,134.6 1714.2,140.2 1714.5,134.3 1714.8,138.9 1715,135.4 1715.2,138.6 1715.5,129.8 1715.8,143.3 1716,131.8 1716.2,140 1716.5,136.3 1716.8,139.9 1717,136.9 1717.2,140.5 1717.5,137.5 1717.8,140.3 1718,136.1 1718.2,144.6 1718.5,133.6 1718.8,143.8 1719,136.8 1719.2,138.9 1719.5,134.4 1719.8,139.5 1720,137 1720.2,139.6 1720.5,137 1720.8,139.8 1721,135.9 1721.2,142.9 1721.5,131.8 1721.8,143.9 1722,135.9 1722.2,140.2 1722.5,137.4 1722.8,140.2 1723,137.1 1723.2,141.9 1723.5,136.3 1723.8,142.1 1724,137.4 1724.2,142.1 1724.5,137.6 1724.8,142.2 1725,138.8 1725.2,142.3 1725.5,138.8 1725.8,140.9 1726,139.2 1726.2,141.9 1726.5,136 1726.8,142.2 1727,139.5 1727.2,142.6 1727.5,139 1727.8,143.6 1728,136.8 1728.2,145.5 1728.5,137.5 1728.8,142.8 1729,139.4 1729.2,143.6 1729.5,139.6 1729.8,143.1 1730,140.6 1730.2,143.9 1730.5,140.5 1730.8,145 1731,139.8 1731.2,147.9 1731.5,135.5 1731.8,147.9 1732,139.5 1732.2,146 1732.5,135.5 1732.8,146.4 1733,137.9 1733.2,142.2 1733.5,139.3 1733.8,142.3 1734,139.4 1734.2,142.3 1734.5,139.7 1734.8,142.6 1735,140.3 1735.2,142.5 1735.5,134.8 1735.8,146.9 1736,135.6 1736.2,142.9 1736.5,139.4 1736.8,142.5 1737,135.7 1737.2,145.5 1737.5,133.9 1737.8,142.6 1738,138.6 1738.2,141.4 1738.5,136.2 1738.8,143.3 1739,135.9 1739.2,140.7 1739.5,137.9 1739.8,143.1 1740,137.1 1740.2,143 1740.5,138.1 1740.8,141.6 1741,137.6 1741.2,145.1 1741.5,132.6 1741.8,145 1742,138.2 1742.2,146.1 1742.5,133.1 1742.8,145.6 1743,132.6 1743.2,145.6 1743.5,133.2 1743.8,142.5 1744,139.5 1744.2,142 1744.5,139.4 1744.8,142.8 1745,139.7 1745.2,144.7 1745.5,141.4 1745.8,143.2 1746,140.2 1746.2,142.9 1746.5,140.7 1746.8,142.5 1747,140.3 1747.2,146.7 1747.5,137.3 1747.8,145 1748,137.6 1748.2,144.4 1748.5,136.5 1748.8,140.6 1749,137.8 1749.2,144.1 1749.5,133.5 1749.8,143.6 1750,133.2 1750.2,143.9 1750.5,133.6 1750.8,140.9 1751,137.8 1751.2,140.4 1751.5,137.2 1751.8,139.5 1752,136.7 1752.2,138.9 1752.5,131.8 1752.8,143.2 1753,131.3 1753.2,138.9 1753.5,135.9 1753.8,138.7 1754,132.7 1754.2,142.2 1754.5,132.6 1754.8,143 1755,132.5 1755.2,142.9 1755.5,137.5 1755.8,140.2 1756,136.5 1756.2,139.1 1756.5,136.3 1756.8,138.1 1757,134.8 1757.2,138.7 1757.5,133.8 1757.8,138.3 1758,135.6 1758.2,138.8 1758.5,135.8 1758.8,139.4 1759,135 1759.2,138.5 1759.5,134.5 1759.8,138 1760,130.3 1760.2,142.9 1760.5,129.8 1760.8,137.8 1761,135.6 1761.2,138.3 1761.5,135.3 1761.8,137.9 1762,129.3 1762.2,142.8 1762.5,129.7 1762.8,137.7 1763,134.9 1763.2,139.1 1763.5,137 1763.8,140.6 1764,136.4 1764.2,139.1 1764.5,135.8 1764.8,138.6 1765,134.7 1765.2,140.4 1765.5,134.1 1765.8,139.9 1766,136.3 1766.2,141.1 1766.5,133.3 1766.8,140.7 1767,135.7 1767.2,142.8 1767.5,135.1" fill="none" stroke="#ff0000" stroke-width="0.8"/>
<text x="1614" y="203" font-size="31.0" fill="#58626b" text-anchor="start">ACSF</text>
<text x="1612" y="236.5" font-size="31.0" fill="#ff0000" text-anchor="start">NA</text>
<text x="656" y="405.3" font-size="46.5" fill="#231f20" text-anchor="start">c</text>
<rect x="825" y="514" width="120" height="366" fill="#c0c0c0" stroke="#000" stroke-width="2"/>
<rect x="1024" y="624.5" width="120" height="255.5" fill="#ff0000" stroke="#000" stroke-width="2"/>
<line x1="765" y1="441" x2="765" y2="881" stroke="#000" stroke-width="2"/>
<line x1="754" y1="880" x2="1203" y2="880" stroke="#000" stroke-width="2"/>
<line x1="754" y1="514" x2="765" y2="514" stroke="#000" stroke-width="2"/>
<line x1="754" y1="697" x2="765" y2="697" stroke="#000" stroke-width="2"/>
<text x="745.5" y="526.3" font-size="31.6" fill="#000" text-anchor="end">100</text>
<text x="745.5" y="709.3" font-size="31.6" fill="#000" text-anchor="end">50</text>
<text x="745.5" y="892.3" font-size="31.6" fill="#000" text-anchor="end">0</text>
<line x1="884.5" y1="514" x2="1084.4" y2="481" stroke="#000" stroke-width="1.3"/>
<line x1="884.5" y1="514" x2="1084.4" y2="517" stroke="#000" stroke-width="1.3"/>
<line x1="884.5" y1="514" x2="1084.4" y2="561" stroke="#000" stroke-width="1.3"/>
<line x1="884.5" y1="514" x2="1084.4" y2="597.5" stroke="#000" stroke-width="1.3"/>
<line x1="884.5" y1="514" x2="1084.4" y2="626" stroke="#000" stroke-width="1.3"/>
<line x1="884.5" y1="514" x2="1084.4" y2="709.5" stroke="#000" stroke-width="1.3"/>
<line x1="884.5" y1="514" x2="1084.4" y2="734" stroke="#000" stroke-width="1.3"/>
<line x1="884.5" y1="514" x2="1084.4" y2="769" stroke="#000" stroke-width="1.3"/>
<circle cx="1084.4" cy="481" r="5.8" fill="#fff" stroke="#000" stroke-width="2.2"/>
<circle cx="1084.4" cy="517" r="5.8" fill="#fff" stroke="#000" stroke-width="2.2"/>
<circle cx="1084.4" cy="561" r="5.8" fill="#fff" stroke="#000" stroke-width="2.2"/>
<circle cx="1084.4" cy="597.5" r="5.8" fill="#fff" stroke="#000" stroke-width="2.2"/>
<circle cx="1084.4" cy="626" r="5.8" fill="#fff" stroke="#000" stroke-width="2.2"/>
<circle cx="1084.4" cy="709.5" r="5.8" fill="#fff" stroke="#000" stroke-width="2.2"/>
<circle cx="1084.4" cy="734" r="5.8" fill="#fff" stroke="#000" stroke-width="2.2"/>
<circle cx="1084.4" cy="769" r="5.8" fill="#fff" stroke="#000" stroke-width="2.2"/>
<circle cx="884.5" cy="514" r="5.8" fill="#fff" stroke="#000" stroke-width="2.2"/>
<text x="884.5" y="926" font-size="31.0" fill="#231f20" text-anchor="middle">ACSF</text>
<text x="1084.4" y="926" font-size="31.0" fill="#231f20" text-anchor="middle">+5-HT</text>
<text x="1070.4" y="452.3" font-family="'DejaVu Sans',sans-serif" font-size="56" fill="#231f20" stroke="#231f20" stroke-width="2.2" stroke-linejoin="miter">*</text>
<text x="676" y="673" font-size="31.0" fill="#231f20" text-anchor="middle" transform="rotate(-90 676 673)">IPSP amplitude (%) to ACSF</text>
<text x="1242.6" y="399.5" font-size="46.5" fill="#231f20" text-anchor="start">e</text>
<rect x="1409.6" y="514" width="120.40000000000009" height="365.5" fill="#c0c0c0" stroke="#000" stroke-width="2"/>
<rect x="1609" y="649.4" width="120.5" height="230.10000000000002" fill="#ff0000" stroke="#000" stroke-width="2"/>
<line x1="1350.5" y1="441.6" x2="1350.5" y2="880.5" stroke="#000" stroke-width="2"/>
<line x1="1339.5" y1="879.5" x2="1789" y2="879.5" stroke="#000" stroke-width="2"/>
<line x1="1339.5" y1="514" x2="1350.5" y2="514" stroke="#000" stroke-width="2"/>
<line x1="1339.5" y1="697" x2="1350.5" y2="697" stroke="#000" stroke-width="2"/>
<text x="1331.0" y="526.3" font-size="31.6" fill="#000" text-anchor="end">100</text>
<text x="1331.0" y="709.3" font-size="31.6" fill="#000" text-anchor="end">50</text>
<text x="1331.0" y="891.8" font-size="31.6" fill="#000" text-anchor="end">0</text>
<line x1="1469.8" y1="514" x2="1669.3" y2="509.4" stroke="#000" stroke-width="1.3"/>
<line x1="1469.8" y1="514" x2="1669.3" y2="519.6" stroke="#000" stroke-width="1.3"/>
<line x1="1469.8" y1="514" x2="1669.3" y2="540" stroke="#000" stroke-width="1.3"/>
<line x1="1469.8" y1="514" x2="1669.3" y2="637.5" stroke="#000" stroke-width="1.3"/>
<line x1="1469.8" y1="514" x2="1669.3" y2="684.6" stroke="#000" stroke-width="1.3"/>
<line x1="1469.8" y1="514" x2="1669.3" y2="697.3" stroke="#000" stroke-width="1.3"/>
<line x1="1469.8" y1="514" x2="1669.3" y2="710.7" stroke="#000" stroke-width="1.3"/>
<line x1="1469.8" y1="514" x2="1669.3" y2="760.8" stroke="#000" stroke-width="1.3"/>
<line x1="1469.8" y1="514" x2="1669.3" y2="784.3" stroke="#000" stroke-width="1.3"/>
<circle cx="1669.3" cy="509.4" r="5.8" fill="#fff" stroke="#000" stroke-width="2.2"/>
<circle cx="1669.3" cy="519.6" r="5.8" fill="#fff" stroke="#000" stroke-width="2.2"/>
<circle cx="1669.3" cy="540" r="5.8" fill="#fff" stroke="#000" stroke-width="2.2"/>
<circle cx="1669.3" cy="637.5" r="5.8" fill="#fff" stroke="#000" stroke-width="2.2"/>
<circle cx="1669.3" cy="684.6" r="5.8" fill="#fff" stroke="#000" stroke-width="2.2"/>
<circle cx="1669.3" cy="697.3" r="5.8" fill="#fff" stroke="#000" stroke-width="2.2"/>
<circle cx="1669.3" cy="710.7" r="5.8" fill="#fff" stroke="#000" stroke-width="2.2"/>
<circle cx="1669.3" cy="760.8" r="5.8" fill="#fff" stroke="#000" stroke-width="2.2"/>
<circle cx="1669.3" cy="784.3" r="5.8" fill="#fff" stroke="#000" stroke-width="2.2"/>
<circle cx="1469.8" cy="514" r="5.8" fill="#fff" stroke="#000" stroke-width="2.2"/>
<text x="1469.8" y="926" font-size="31.0" fill="#231f20" text-anchor="middle">ACSF</text>
<text x="1669.3" y="926" font-size="31.0" fill="#231f20" text-anchor="middle">+NA</text>
<text x="1655.3" y="464.0" font-family="'DejaVu Sans',sans-serif" font-size="56" fill="#231f20" stroke="#231f20" stroke-width="2.2" stroke-linejoin="miter">*</text>
<text x="1263" y="662" font-size="31.0" fill="#231f20" text-anchor="middle" transform="rotate(-90 1263 662)">IPSP amplitude (%) to ACSF</text>
<text x="66.5" y="1014.3" font-size="46.5" fill="#231f20" text-anchor="start">f</text>
<polyline points="92.2,1624.1 92.5,1627.2 92.7,1623.7 93,1629.6 93.2,1623.4 93.5,1629.2 93.7,1624.7 94,1628.4 94.2,1622.1 94.5,1633.5 94.7,1621.9 95,1630.6 95.2,1627.4 95.5,1629.9 95.7,1626.9 96,1629.7 96.2,1626.6 96.5,1630.1 96.7,1626.8 97,1630.2 97.2,1628.7 97.5,1635.3 97.7,1625.2 98,1634.2 98.2,1629 98.5,1633.2 98.7,1629.1 99,1631.9 99.2,1629.7 99.5,1630.9 99.7,1627.7 100,1629.7 100.2,1624.6 100.5,1634.5 100.7,1623 101,1630 101.2,1626.7 101.5,1635.6 101.7,1623 102,1635.9 102.2,1627.8 102.5,1629.4 102.7,1627.5 103,1633.6 103.2,1628.3 103.5,1631 103.7,1628 104,1631.9 104.2,1627.8 104.5,1630.7 104.7,1626.7 105,1630.6 105.2,1627.3 105.5,1630.8 105.7,1627.2 106,1630.8 106.2,1628.3 106.5,1631.8 106.7,1628.1 107,1631.5 107.2,1627.8 107.5,1631.4 107.7,1628 108,1632.6 108.2,1629 108.5,1632 108.7,1628.3 109,1631.6 109.2,1626.3 109.5,1631.6 109.7,1627.8 110,1631 110.2,1628.1 110.5,1631.1 110.7,1628.1 111,1630 111.2,1627.7 111.5,1632.6 111.7,1626.5 112,1633.5 112.2,1629.4 112.5,1632 112.7,1629.3 113,1633.7 113.2,1627.6 113.5,1634.4 113.7,1627.6 114,1633.1 114.2,1629 114.5,1634.4 114.7,1628.7 115,1632.5 115.2,1630.3 115.5,1632.6 115.7,1629.2 116,1632.1 116.2,1629 116.5,1638.2 116.7,1624.9 117,1638.4 117.2,1630 117.5,1631.9 117.7,1629 118,1632 118.2,1629.3 118.5,1632.6 118.7,1628.6 119,1631.8 119.2,1627.8 119.5,1630.9 119.7,1624 120,1635.5 120.2,1624.1 120.5,1633.4 120.7,1626.7 121,1631.8 121.2,1627.5 121.5,1630.2 121.7,1626.7 122,1632.3 122.2,1628 122.5,1631.9 122.7,1625.5 123,1633.3 123.2,1627.2 123.5,1631.9 123.7,1629.3 124,1634 124.2,1627.9 124.5,1634.5 124.7,1627.1 125,1634.3 125.2,1627.6 125.5,1632 125.7,1628.7 126,1633.1 126.2,1628.9 126.5,1634.5 126.7,1626.9 127,1634.2 127.2,1629.6 127.5,1631.5 127.7,1628 128,1636.8 128.2,1623.2 128.4,1635.4 128.7,1627.3 128.9,1630 129.2,1627.6 129.4,1630.9 129.7,1627.4 129.9,1630 130.2,1626.4 130.4,1629.9 130.7,1626.9 130.9,1629.6 131.2,1625.6 131.4,1629.9 131.7,1625.4 131.9,1629.3 132.2,1625.4 132.4,1630.5 132.7,1625.1 132.9,1628.6 133.2,1626.3 133.4,1629.9 133.7,1626.2 133.9,1629.4 134.2,1626.5 134.4,1628.7 134.7,1625.9 134.9,1629 135.2,1621.1 135.4,1630.2 135.7,1619.8 135.9,1627.4 136.2,1623.8 136.4,1628.7 136.7,1624.3 136.9,1627.8 137.2,1619 137.4,1632 137.7,1618.4 137.9,1625.8 138.2,1622.7 138.4,1627.1 138.7,1624.1 138.9,1626.6 139.2,1623.7 139.4,1625.8 139.7,1622.9 139.9,1626.1 140.2,1621.8 140.4,1626.9 140.7,1621.3 140.9,1626 141.2,1621.9 141.4,1626 141.7,1621.9 141.9,1625.1 142.2,1621 142.4,1624.6 142.7,1621.4 142.9,1624.9 143.2,1622.1 143.4,1625.3 143.7,1621.9 143.9,1626.8 144.2,1622.3 144.4,1625.5 144.7,1622.6 144.9,1627.4 145.2,1621.4 145.4,1628.8 145.7,1623.6 145.9,1626 146.2,1621.6 146.4,1626.8 146.7,1618.2 146.9,1631.6 147.2,1618.1 147.4,1625.7 147.7,1622.8 147.9,1626.2 148.2,1621.4 148.4,1626.5 148.7,1622.4 148.9,1625.8 149.2,1622.8 149.4,1625.4 149.7,1621.2 149.9,1625.6 150.2,1621.8 150.4,1626.7 150.7,1622.4 150.9,1626.2 151.2,1622 151.4,1626.2 151.7,1622.5 151.9,1625.3 152.2,1622.6 152.4,1625.5 152.7,1621.7 152.9,1628.3 153.2,1618.2 153.4,1627 153.7,1621.4 153.9,1623.9 154.2,1621.3 154.4,1625.1 154.7,1622.3 154.9,1626.5 155.2,1624.1 155.4,1627.2 155.7,1624.7 155.9,1630.5 156.2,1623.1 156.4,1629.5 156.7,1624.7 156.9,1626.9 157.2,1624.6 157.4,1628.3 157.7,1624.5 157.9,1627.7 158.2,1625.1 158.4,1630.2 158.7,1624.9 158.9,1629.9 159.2,1624.7 159.4,1627.1 159.7,1624 159.9,1627.6 160.2,1624.3 160.4,1628.6 160.7,1624 160.9,1628.3 161.2,1624.3 161.4,1627.6 161.7,1624.6 161.9,1626.6 162.2,1624.3 162.4,1627.5 162.7,1624.5 162.9,1628.8 163.2,1622.2 163.4,1629.1 163.7,1624.7 163.9,1628.3 164.2,1623.8 164.4,1629.4 164.7,1624.6 164.9,1627.9 165.2,1626 165.4,1628.3 165.7,1625.4 165.9,1628.2 166.2,1624.7 166.4,1630 166.7,1624.7 166.9,1627.7 167.2,1625.2 167.4,1627.6 167.7,1623.6 167.9,1628.9 168.2,1619.1 168.4,1629.9 168.7,1621.9 168.9,1626.1 169.2,1620.6 169.4,1626 169.7,1622.4 169.9,1626.3 170.2,1622.5 170.4,1627.2 170.7,1624.1 170.9,1625.9 171.2,1622 171.4,1627.5 171.7,1623.8 171.9,1629.5 172.2,1624 172.4,1629.1 172.7,1624.7 172.9,1627 173.2,1624.2 173.4,1628.8 173.7,1622.4 173.9,1628 174.2,1621.3 174.4,1627 174.7,1621.4 174.9,1625.3 175.2,1622 175.4,1624 175.7,1617 175.9,1629.4 176.2,1615.6 176.4,1623.4 176.7,1619 176.9,1624.5 177.2,1619.4 177.4,1623.4 177.7,1619.7 177.9,1624.3 178.2,1620.5 178.4,1621.8 178.7,1618.2 178.9,1619.9 179.2,1617 179.4,1619.4 179.7,1615.8 179.9,1618.7 180.2,1617.8 180.4,1619.4 180.7,1620.3 180.9,1622.7 181.2,1623.6 181.4,1626.8 181.7,1628.5 181.9,1631.5 182.2,1633.8 182.4,1637.3 182.7,1639.3 182.9,1642.8 183.2,1644.7 183.4,1647.8 183.7,1649.1 183.9,1651.7 184.2,1652.6 184.4,1654.5 184.7,1655.2 184.9,1657.1 185.2,1657.8 185.4,1659.7 185.7,1660.3 185.9,1662.3 186.2,1662.2 186.4,1664.9 186.7,1664.7 186.9,1666.4 187.2,1666.9 187.4,1668.8 187.7,1668.8 187.9,1671 188.2,1671 188.4,1672.2 188.7,1672.5 188.9,1674 189.2,1674 189.4,1675.1 189.7,1675.1 189.9,1676.3 190.2,1675.8 190.4,1677.1 190.7,1676.9 190.9,1678.3 191.2,1676.3 191.4,1680.5 191.7,1678 191.9,1681.9 192.2,1678.9 192.4,1682 192.7,1679.9 192.9,1682.7 193.2,1680.3 193.4,1683.1 193.7,1681.1 193.9,1683.6 194.2,1679.7 194.4,1682.3 194.7,1679.6 194.9,1685.5 195.2,1677 195.4,1684 195.7,1677.2 195.9,1681.2 196.2,1677.2 196.4,1680.5 196.7,1677.8 196.9,1680.7 197.2,1677.2 197.4,1682 197.7,1676.2 197.9,1679.4 198.2,1673.8 198.4,1680.3 198.7,1672.6 198.9,1676.5 199.2,1672.8 199.4,1676.8 199.7,1672.6 199.9,1675.5 200.2,1672.1 200.4,1674.7 200.7,1670.6 200.9,1673.6 201.2,1669.3 201.4,1671.6 201.7,1669.4 201.9,1671.4 202.2,1669.1 202.4,1671.3 202.7,1667.1 202.9,1671.1 203.2,1666.2 203.4,1671.9 203.7,1665.5 203.9,1669.1 204.2,1666.5 204.4,1668.8 204.7,1665.8 204.9,1667.6 205.2,1664.8 205.4,1669.1 205.7,1662.4 205.9,1668.7 206.2,1662.9 206.4,1670.1 206.7,1662 206.9,1666.6 207.2,1664 207.4,1667.2 207.7,1663.5 207.9,1667.7 208.2,1661.7 208.4,1666.7 208.7,1662.7 208.9,1665.4 209.2,1662.9 209.4,1666.3 209.7,1662.8 209.9,1665.4 210.2,1663.5 210.4,1665.4 210.7,1660.2 210.9,1667.5 211.2,1660 211.4,1665.8 211.7,1660.4 211.9,1665.6 212.2,1661 212.4,1664.3 212.7,1659.4 212.9,1663.1 213.2,1659 213.4,1662.8 213.7,1660.3 213.9,1662.4 214.2,1659.1 214.4,1661.6 214.7,1658.5 214.9,1661 215.2,1657.6 215.4,1659.2 215.7,1654.6 215.9,1659.6 216.2,1654 216.4,1659.1 216.7,1655.2 216.9,1657 217.2,1655 217.4,1659 217.7,1649.4 217.9,1660.8 218.2,1651.6 218.4,1657 218.7,1653.7 218.9,1656.7 219.2,1653.1 219.4,1656.1 219.7,1652.1 219.9,1655.1 220.2,1649.7 220.4,1655.9 220.7,1650.2 220.9,1655.8 221.2,1651 221.4,1656.3 221.7,1651 221.9,1653.8 222.2,1650.5 222.4,1653.1 222.7,1648.9 222.9,1653.2 223.2,1649.4 223.4,1652.8 223.7,1650 223.9,1652.7 224.2,1648.6 224.4,1652.1 224.7,1647.8 224.9,1651.5 225.2,1648.1 225.4,1651.5 225.7,1648.1 225.9,1651.1 226.2,1646.6 226.4,1651.2 226.7,1647.3 226.9,1650.1 227.2,1647 227.4,1649 227.7,1646.1 227.9,1648.4 228.2,1645.3 228.4,1648.1 228.7,1644.8 228.9,1646.8 229.2,1643.7 229.4,1651.2 229.7,1638.5 229.9,1651.3 230.2,1643.2 230.4,1645.6 230.7,1642.9 230.9,1644.5 231.2,1641.3 231.4,1643.8 231.7,1640.9 231.9,1644.1 232.2,1640.4 232.4,1643.5 232.7,1639.7 232.9,1642.3 233.2,1638.9 233.4,1641.1 233.7,1638.4 233.9,1641.9 234.2,1638.9 234.4,1641.3 234.7,1638.2 234.9,1641.1 235.2,1638.2 235.4,1640.8 235.7,1638.1 235.9,1640.5 236.2,1636.4 236.4,1639.1 236.7,1635.2 236.9,1638.5 237.2,1634.3 237.4,1638.5 237.7,1635 237.9,1638.7 238.2,1634.8 238.4,1638.1 238.7,1635 238.9,1638.2 239.2,1634.9 239.4,1636.5 239.7,1633.6 239.9,1638.7 240.2,1629.4 240.4,1639.2 240.7,1628.1 240.9,1640.2 241.2,1627.7 241.4,1635.7 241.7,1632.6 241.9,1635.7 242.2,1632.6 242.4,1635.9 242.7,1632.8 242.9,1635.1 243.2,1631.6 243.4,1637.1 243.7,1630.1 243.9,1633.3 244.2,1629.1 244.4,1633.5 244.7,1628.6 244.9,1631.6 245.2,1628.8 245.4,1633.3 245.7,1628.6 245.9,1631.2 246.2,1629.3 246.4,1631.8 246.7,1628.7 246.9,1631.1 247.2,1628.9 247.4,1630.7 247.7,1627.5 247.9,1631.8 248.2,1627.1 248.4,1629.9 248.7,1625.5 248.9,1629.2 249.2,1624.7 249.4,1628.4 249.7,1624.5 249.9,1632.9 250.2,1620.2 250.4,1632.5 250.7,1624.1 250.9,1626.5 251.2,1622.8 251.4,1626.4 251.7,1618.9 251.9,1631.8 252.2,1619.8 252.4,1627 252.7,1623.6 252.9,1626.6 253.2,1622.5 253.4,1626.1 253.7,1620.3 253.9,1624.8 254.2,1620.5 254.4,1624.1 254.7,1621.1 254.9,1623.6 255.2,1621.1 255.4,1622.9 255.7,1619.3 255.9,1626.3 256.2,1615.2 256.4,1626.1 256.7,1618 256.9,1622.4 257.2,1617.7 257.4,1623.5 257.7,1616.8 257.9,1623.3 258.2,1618.3 258.4,1626.2 258.7,1612.3 258.9,1625 259.2,1617 259.4,1622.8 259.7,1612.9 259.9,1621.6 260.2,1615.3 260.4,1619.6 260.7,1611.7 260.9,1618.9 261.2,1614.2 261.4,1616.4 261.7,1612.9 261.9,1615.3 262.2,1611.9 262.4,1615.7 262.7,1611.1 262.9,1615.6 263.2,1610.9 263.4,1614.3 263.7,1611.5 263.9,1614.7 264.2,1611.2 264.4,1613.8 264.7,1610.8 264.9,1613.4 265.2,1610 265.4,1614.3 265.7,1606 265.9,1619.3 266.2,1606 266.4,1614.2 266.7,1609.6 266.9,1613.7 267.2,1611.2 267.4,1613.3 267.7,1610.8 267.9,1613.9 268.2,1610.8 268.4,1613.8 268.7,1610.7 268.9,1613.6 269.2,1608.8 269.4,1610.9 269.7,1608.3 269.9,1611.3 270.2,1606 270.4,1612.4 270.7,1607.7 270.9,1611.1 271.2,1608.3 271.4,1616.4 271.7,1603.3 271.9,1616.3 272.2,1608.1 272.4,1612.5 272.7,1607.1 272.9,1612 273.2,1607.9 273.4,1610.8 273.7,1606.3 273.9,1611.7 274.2,1606 274.4,1610.2 274.7,1606.4 274.9,1609 275.2,1605.3 275.4,1608.5 275.7,1604 275.9,1610.2 276.2,1604.3 276.4,1608.3 276.7,1605.3 276.9,1607.5 277.2,1604.3 277.4,1610.7 277.7,1604.9 277.9,1607.6 278.2,1604 278.4,1607.6 278.7,1603.6 278.9,1606.7 279.2,1603.2 279.4,1605.2 279.7,1601.4 279.9,1605.6 280.2,1602.4 280.4,1605.2 280.7,1602.1 280.9,1605.2 281.2,1602.1 281.4,1604.7 281.7,1602.5 281.9,1604.7 282.2,1600.7 282.4,1606.8 282.7,1600.8 282.9,1604.3 283.2,1601.2 283.4,1604.9 283.7,1600.6 283.9,1603.2 284.2,1601 284.4,1604 284.7,1599 284.9,1607.8 285.2,1598 285.4,1605.4 285.7,1601.2 285.9,1606.2 286.2,1600.8 286.4,1607.1 286.7,1601.9 286.9,1605.6 287.2,1600.7 287.4,1603.3 287.7,1599.4 287.9,1603.2 288.2,1600.7 288.4,1603.5 288.7,1600.8 288.9,1602.6 289.2,1598.4 289.4,1602.4 289.7,1599.1 289.9,1601.8 290.2,1598.8 290.4,1602 290.7,1595.6 290.9,1605.9 291.2,1596.1 291.4,1603.3 291.7,1599.8 291.9,1602.9 292.2,1599.6 292.4,1602 292.7,1598.7 292.9,1602.5 293.2,1596.6 293.4,1603.5 293.7,1599.3 293.9,1603.2 294.2,1600.2 294.4,1603.7 294.7,1598.5 294.9,1603.7 295.2,1599.9 295.4,1602.9 295.7,1598.6 295.9,1603.5 296.2,1598 296.4,1601.6 296.7,1599.1 296.9,1601.9 297.2,1598.5 297.4,1600.4 297.7,1598 297.9,1600.3 298.2,1597 298.4,1599.8 298.7,1597.4 298.9,1599.6 299.2,1596.2 299.4,1602.1 299.7,1597.4 299.9,1600.4 300.2,1595.4 300.4,1600.9 300.7,1593.8 300.9,1599.1 301.2,1596.2 301.4,1599.1 301.7,1594.2 301.9,1599.1 302.2,1595.9 302.4,1598.9 302.7,1595.6 302.9,1597.5 303.2,1594.8 303.4,1598.3 303.7,1594.5 303.9,1597.7 304.2,1594.5 304.4,1598.3 304.7,1595.7 304.9,1599.9 305.2,1595.3 305.4,1598.6 305.7,1593.6 305.9,1597.7 306.2,1594.7 306.4,1597.8 306.7,1594 306.9,1597.8 307.2,1594.7 307.4,1597.4 307.7,1594.5 307.9,1598.8 308.2,1596 308.4,1600.2 308.7,1595.3 308.9,1601.4 309.2,1594.8 309.4,1600.1 309.7,1598 309.9,1601 310.2,1595.5 310.4,1600.1 310.7,1592.8 310.9,1598.6 311.2,1596.1 311.4,1598 311.7,1595.4 311.9,1599.4 312.2,1595 312.4,1598.3 312.7,1595.6 312.9,1598.9 313.2,1596.1 313.4,1599.9 313.7,1596.1 313.9,1599.3 314.2,1596.4 314.4,1599 314.7,1597.2 314.9,1600.6 315.2,1598.1 315.4,1601 315.7,1597.3 315.9,1601.5 316.2,1595.6 316.4,1600.2 316.7,1596.5 316.9,1599 317.2,1596.2 317.4,1598.9 317.7,1596.4 317.9,1598.7 318.2,1596.5 318.4,1598.8 318.7,1595.8 318.9,1601.2 319.2,1595.1 319.4,1599.3 319.7,1594.2 319.9,1599.2 320.2,1595.1 320.4,1601.4 320.7,1593.4 320.9,1602.2 321.2,1595.8 321.4,1600.6 321.7,1594.2 321.9,1600.4 322.2,1596.8 322.4,1601 322.7,1596.6 322.9,1600.9 323.2,1597.2 323.4,1605.2 323.7,1592.9 323.9,1606.2 324.2,1599.1 324.4,1601.6 324.7,1598.8 324.9,1602.2 325.2,1598.5 325.4,1601.5 325.7,1598.6 325.9,1601.5 326.2,1598.7 326.4,1602.6 326.7,1597.7 326.9,1602.9 327.2,1598.6 327.4,1603.8 327.7,1599.8 327.9,1601.9 328.2,1599.7 328.4,1604.3 328.7,1598.1 328.9,1605.6 329.2,1597.1 329.4,1606.1 329.7,1597.2 329.9,1603.1 330.2,1600.1 330.4,1602.7 330.7,1599.8 330.9,1602.7 331.2,1600.5 331.4,1603.3 331.7,1601.2 331.9,1604.4 332.2,1601.5 332.4,1605.7 332.7,1598.1 332.9,1605.5 333.2,1595.1 333.4,1607.7 333.7,1595.3 333.9,1604 334.2,1600.3 334.4,1603.1 334.7,1600.6 334.9,1605.5 335.2,1599.4 335.4,1605.8 335.7,1601.3 335.9,1603.4 336.2,1600.5 336.4,1603.9 336.7,1599.7 336.9,1603.5 337.2,1596.8 337.4,1605.5 337.7,1596.3 337.9,1602.4 338.2,1594.5 338.4,1608.2 338.7,1595.2 338.9,1608.2 339.2,1595.1 339.4,1608.7 339.7,1599.8 339.9,1605.5 340.2,1598.4 340.4,1605.9 340.7,1600.5 340.9,1603.1 341.2,1601 341.4,1603.7 341.7,1600.5 341.9,1602.4 342.2,1599.2 342.4,1607.9 342.7,1594.1 342.9,1607.2 343.2,1599.6 343.4,1602.1 343.7,1598.5 343.9,1601.9 344.2,1599.2 344.4,1605 344.7,1596.8 344.9,1604.6 345.2,1600 345.4,1603.6 345.7,1598.7 345.9,1603.3 346.2,1597.6 346.4,1602.6 346.7,1599.2 346.9,1603 347.2,1599.2 347.4,1602.2 347.7,1598.3 347.9,1601.6 348.2,1598 348.4,1600.9 348.7,1599.6 348.9,1602.5 349.2,1598.7 349.4,1601.4 349.7,1598.1 349.9,1602.4 350.2,1596.7 350.4,1603.6 350.7,1596.8 350.9,1604.7 351.2,1597.6 351.4,1607.1 351.7,1594.1 351.9,1606.9 352.2,1599.4 352.4,1602.9 352.7,1599.6 352.9,1602.7 353.2,1598.9 353.4,1603.1 353.7,1600.5 353.9,1602.6 354.2,1600 354.4,1608.7 354.7,1595.6 354.9,1608.1 355.2,1600.2 355.4,1601.8 355.7,1599.5 355.9,1601 356.2,1597.9 356.4,1602.7 356.7,1598.6 356.9,1602.4 357.2,1600.2 357.4,1602.6 357.7,1599.6 357.9,1603.5 358.2,1599 358.4,1603.4 358.7,1597.9 358.9,1605.6 359.2,1597.1 359.4,1603.9 359.7,1597.1 359.9,1603.8 360.2,1599.4 360.4,1604.3 360.7,1600.6 360.9,1603 361.2,1598.9 361.4,1602.6 361.7,1596.9 361.9,1604.1 362.2,1595.8 362.4,1601.6 362.7,1598.7 362.9,1602 363.2,1598 363.4,1602.8 363.7,1599.3 363.9,1601.8 364.2,1599.7 364.4,1602.1 364.7,1594.2 364.9,1605.6 365.2,1595.1 365.4,1602.8 365.7,1600.1 365.9,1603 366.2,1599.6 366.4,1602.6 366.7,1600.7 366.9,1603.5 367.2,1598.2 367.4,1605.1 367.7,1599.1 367.9,1608.9 368.2,1595.6 368.4,1609.3 368.7,1601.6 368.9,1605.7 369.2,1603.4 369.4,1607.1 369.7,1602.7 369.9,1609.5 370.2,1603.2 370.4,1608.4 370.7,1602.8 370.9,1607.7 371.2,1603.2 371.4,1608.1 371.7,1603.5 371.9,1607.3 372.2,1604.9 372.4,1608.8 372.7,1605.3 372.9,1607.7 373.2,1604.6 373.4,1607.9 373.7,1600.9 373.9,1611.4 374.2,1599.2 374.4,1611.4 374.7,1597.8 374.9,1610.5 375.2,1602.5 375.4,1605.9 375.7,1601.9 375.9,1603.9 376.2,1601.2 376.4,1603.4 376.7,1601.1 376.9,1603.8 377.2,1600.9 377.4,1608.6 377.7,1595.5 377.9,1608.3 378.2,1600.8 378.4,1603.8 378.7,1600.4 378.9,1602.4 379.2,1600.1 379.4,1603 379.7,1600.1 379.9,1605 380.2,1600.3 380.4,1603.5 380.7,1599.6 380.9,1602.7 381.2,1599.7 381.4,1604.2 381.7,1599.7 381.9,1603 382.2,1597.1 382.4,1604.9 382.7,1596.6 382.9,1602 383.2,1600.1 383.4,1602.9 383.7,1600.3 383.9,1603.1 384.2,1600.5 384.4,1604.1 384.7,1600.6 384.9,1604 385.2,1600.4 385.4,1603.8 385.7,1599.5 385.9,1602.6 386.2,1599.3 386.4,1602 386.7,1599.7 386.9,1602.5 387.2,1599.3 387.4,1603.5 387.7,1599.1 387.9,1602.3 388.2,1597.5 388.4,1604.7 388.7,1596.6 388.9,1601 389.2,1597.2 389.4,1600.4 389.7,1597.1 389.9,1601 390.2,1598.3 390.4,1601.7 390.7,1595.8 390.9,1602.2 391.2,1596.1 391.4,1600.4 391.7,1597.8 391.9,1601.2 392.2,1597.1 392.4,1600 392.7,1592.3 392.9,1604.6 393.2,1593 393.4,1599.7 393.7,1596.9 393.9,1601.4 394.2,1598.4 394.4,1600.6 394.7,1598.2 394.9,1600.3 395.2,1593.3 395.4,1603.8 395.7,1592.4 395.9,1599.4 396.2,1597.5 396.4,1600.1 396.7,1597.2 396.9,1599.2 397.2,1594.6 397.4,1601.2 397.7,1592.7 397.9,1597 398.2,1592.6 398.4,1599.2 398.7,1593.2 398.9,1598.5 399.2,1596 399.4,1599.1 399.7,1594.1 399.9,1598.5 400.2,1592.7 400.4,1598.3 400.7,1594.6 400.9,1597.6 401.2,1593.4 401.4,1597.1 401.7,1595.2 401.9,1597.1 402.2,1594.3 402.4,1599.7 402.7,1591.7 402.9,1600 403.2,1593.6 403.4,1597.8 403.7,1594.4 403.9,1598.1 404.2,1595.4 404.4,1599.1 404.7,1594.9 404.9,1598.4 405.2,1595.6 405.4,1598.8 405.7,1597.4 405.9,1600.7 406.2,1594.4 406.4,1605.1 406.7,1594.6 406.9,1600.1 407.2,1596.5 407.4,1598.4 407.7,1595.9 407.9,1599 408.2,1595.2 408.4,1599.6 408.7,1597.1 408.9,1599.8 409.2,1596.5 409.4,1601 409.7,1593.2 409.9,1604.3 410.2,1593.9 410.4,1601.2 410.7,1597.4 410.9,1603.8 411.2,1597.3 411.4,1601.8 411.7,1599.6 411.9,1602.4 412.2,1599.3 412.4,1605.2 412.7,1595.6 412.9,1604.1 413.2,1598.1 413.4,1603.8 413.7,1599.7 413.9,1602.6 414.2,1599.7 414.4,1603.8 414.7,1601.2 414.9,1604.9 415.2,1600.7 415.4,1606.5 415.7,1602.3 415.9,1607.3 416.2,1601.9 416.4,1606.2 416.7,1601.5 416.9,1606.1 417.2,1602 417.4,1604.6 417.7,1602.8 417.9,1605.7 418.2,1603.5 418.4,1605.6 418.7,1603.1 418.9,1606.1 419.2,1603.5 419.4,1606.2 419.7,1603.7 419.9,1606.4 420.2,1601.9 420.4,1609.7 420.7,1601 420.9,1607.8 421.2,1604 421.4,1606.8 421.7,1603.8 421.9,1606 422.2,1603 422.4,1606.5 422.7,1602.7 422.9,1606.3 423.2,1602.7 423.4,1605.4 423.7,1602.5 423.9,1604.6 424.2,1601.4 424.4,1604.4 424.7,1601.5 424.9,1603.7 425.2,1601.9 425.4,1604.5 425.7,1601.4 425.9,1604.3 426.2,1600.5 426.4,1604 426.7,1597.7 426.9,1607 427.2,1597.7 427.4,1603.7 427.7,1596.2 427.9,1609.3 428.2,1596.7 428.4,1605.9 428.7,1599.6 428.9,1606.7 429.2,1599.7 429.4,1604 429.7,1601.2 429.9,1603.8 430.2,1601.1 430.4,1603.4 430.7,1600.3 430.9,1603.8 431.2,1600.1 431.4,1604.1 431.7,1601.2 431.9,1605.2 432.2,1602.3 432.4,1605.2 432.7,1602.8 432.9,1606.1 433.2,1602.6 433.4,1605.6 433.7,1601.2 433.9,1604.5 434.2,1600.2 434.4,1605.5 434.7,1600.1 434.9,1603.8 435.2,1601.5 435.4,1605.1 435.7,1601.3 435.9,1604.4 436.2,1601.5 436.4,1604.6 436.7,1601.6 436.9,1604.9 437.2,1600.2 437.4,1604.8 437.7,1601.6 437.9,1605.5 438.2,1602.7 438.4,1605.5 438.7,1602.3 438.9,1604.8 439.2,1601.5 439.4,1605.7 439.7,1602.2 439.9,1605.3 440.2,1602.1 440.4,1605.4 440.7,1603.2 440.9,1605.4 441.2,1600.3 441.4,1608 441.7,1600.5 441.9,1605.8 442.2,1602.4 442.4,1605.2 442.7,1600 442.9,1605.7 443.2,1601.5 443.4,1608.4 443.7,1602.7 443.9,1606.4 444.2,1603.3 444.4,1606 444.7,1600.5 444.9,1607.3 445.2,1601.1 445.4,1605.8 445.7,1602 445.9,1604.2 446.2,1602.2 446.4,1610.3 446.7,1597.5 446.9,1610.2 447.2,1601.7 447.4,1605.1 447.7,1601.7 447.9,1606.8 448.2,1599.7 448.4,1607.6 448.7,1602.8 448.9,1605.2 449.2,1602.3 449.4,1605.5 449.7,1602.1 449.9,1606.6 450.2,1603 450.4,1607.3 450.7,1600.5 450.9,1606.8 451.2,1602.3 451.4,1605 451.7,1602.4 451.9,1604.8 452.2,1601.9 452.4,1606.8 452.7,1601.4 452.9,1605.3 453.2,1602.3 453.4,1604.4 453.7,1601.4 453.9,1604.5 454.2,1601.3 454.4,1603.7 454.7,1597.5 454.9,1607.5 455.2,1597.7 455.4,1605.5 455.7,1601.2 455.9,1605.8 456.2,1602.6 456.4,1605.1 456.7,1601.3 456.9,1605.3 457.2,1603.1 457.4,1605.2 457.7,1601.7 457.9,1606.8 458.2,1600.6 458.4,1607.7 458.7,1603.2 458.9,1606.2 459.2,1602.4 459.4,1605.9 459.7,1601.4 459.9,1607.3 460.2,1602.4 460.4,1606.8 460.7,1603.1 460.9,1608.4 461.2,1601.5 461.4,1606.4 461.7,1601.8 461.9,1607.6 462.2,1602.6 462.4,1607 462.7,1603 462.9,1606.3 463.2,1603.2 463.4,1605.5 463.7,1601.8 463.9,1606.7 464.2,1602.4 464.4,1606.6 464.7,1603 464.9,1606.9 465.2,1601.2 465.4,1609.3 465.7,1601.6 465.9,1607.6 466.2,1603.5 466.4,1608.3 466.7,1605.4 466.9,1608.8 467.2,1604.4 467.4,1609.2 467.7,1605 467.9,1609.2 468.2,1605 468.4,1608.1 468.7,1604.5 468.9,1607.3 469.2,1604.4 469.4,1611.4 469.7,1600.9 469.9,1610.6 470.2,1603.6 470.4,1608.4 470.7,1603.7 470.9,1606.9 471.2,1604.8 471.4,1609.8 471.7,1604.4 471.9,1608.4 472.2,1604.5 472.4,1610.3 472.7,1602 472.9,1610.2 473.2,1604.4 473.4,1608.1 473.7,1605 473.9,1607.4 474.2,1600 474.4,1613.1 474.7,1600.4 474.9,1608.5 475.2,1604.8 475.4,1607.2 475.7,1604.5 475.9,1607.4 476.2,1603.3 476.4,1608.2 476.7,1604.9 476.9,1610.1 477.2,1603.3 477.4,1609.3 477.7,1604.5 477.9,1608 478.2,1605.1 478.4,1607.4 478.7,1604.8 478.9,1609.3 479.2,1604.2 479.4,1608.8 479.7,1603.6 479.9,1609.4 480.2,1603.6 480.4,1607.6 480.7,1603.8 480.9,1608.3 481.2,1604.1 481.4,1607.6 481.7,1604.5 481.9,1607.1 482.2,1603.4 482.4,1609.6 482.7,1602.6 482.9,1609.1 483.2,1604.2 483.4,1606.6 483.7,1604 483.9,1606.1 484.2,1604.2 484.4,1608.2 484.7,1602.5 484.9,1608.3 485.2,1603.5 485.4,1607.3 485.7,1603.8 485.9,1606.3 486.2,1602.9 486.4,1605.4 486.7,1602.4 486.9,1605.4 487.2,1601 487.4,1606.4 487.7,1601.8 487.9,1605.9 488.2,1602 488.4,1606 488.7,1603 488.9,1608.2 489.2,1599.1 489.4,1608.2 489.7,1603.4 489.9,1605.9 490.2,1603.4 490.4,1606.4 490.7,1599.6 490.9,1611.5 491.2,1599.9 491.4,1605.5 491.7,1603.7 491.9,1606.6 492.2,1603.5 492.4,1606.4 492.7,1604 492.9,1607.3 493.2,1601.3 493.4,1609.5 493.7,1600.8 493.9,1606.6 494.2,1601.6 494.4,1605.7 494.7,1602.5 494.9,1605.5 495.2,1602.8 495.4,1605.6 495.7,1602.8 495.9,1605.9 496.2,1601.6 496.4,1606.5 496.7,1601.8 496.9,1607 497.2,1604 497.4,1609.4 497.7,1601.4 497.9,1609.9 498.2,1605.1 498.4,1608.5 498.7,1605.9 498.9,1608.8 499.2,1606.1 499.4,1608.6 499.7,1605.2 499.9,1609.5 500.2,1606.1 500.4,1609.4 500.7,1605.2 500.9,1610.4 501.2,1603.9 501.4,1610.4 501.7,1605.4 501.9,1607.6 502.2,1603.5 502.4,1608.6 502.7,1602.4 502.9,1606.2 503.2,1604.7 503.4,1608.6 503.7,1604 503.9,1609.2 504.2,1605.2 504.4,1607 504.7,1604.5 504.9,1612.2 505.2,1599.4 505.4,1612.2 505.7,1604.8 505.9,1607.4 506.2,1602 506.4,1607.6 506.7,1603 506.9,1607.3 507.2,1604 507.4,1606.8 507.7,1604 507.9,1605.9 508.2,1603.5 508.4,1605.9 508.7,1601.2 508.9,1605.7 509.2,1602.7 509.4,1606.2 509.7,1603.6 509.9,1607.6 510.2,1604.9 510.4,1608.3 510.7,1604.8 510.9,1607.1 511.2,1604 511.4,1607 511.7,1603.5 511.9,1607.5 512.2,1603.1 512.5,1605.8 512.7,1602.2 513,1607.1 513.2,1602.8 513.5,1605.8 513.7,1603.5 514,1606.5 514.2,1600.3 514.5,1610.4 514.7,1600.5 515,1607.5 515.2,1601.5 515.5,1608.6 515.7,1602.8 516,1605 516.2,1601.8 516.5,1604.6 516.7,1600.3 517,1609.4 517.2,1600.9 517.5,1606.8 517.7,1604.1 518,1607.5 518.2,1605.2 518.5,1607.9 518.7,1601.6 519,1611.1 519.2,1601.7 519.5,1608.4 519.7,1605.5 520,1608.6 520.2,1605 520.5,1608.4 520.7,1605.2 521,1608.4 521.2,1606.4 521.5,1612 521.7,1604.4 522,1613.6 522.2,1607.3 522.5,1612.4 522.7,1605.8 523,1612.2 523.2,1607.7 523.5,1611.2 523.7,1607 524,1611.1 524.2,1607.8 524.5,1610.4 524.7,1607.5 525,1609.8 525.2,1606.3 525.5,1610.2 525.7,1606.5 526,1611.5 526.2,1607.2 526.5,1610.6 526.7,1607.3 527,1611 527.2,1606.3 527.5,1613.6 527.7,1607.2 528,1611.6 528.2,1607.6 528.5,1611.5 528.7,1609.7 529,1612.4 529.2,1609 529.5,1613.2 529.7,1610.7 530,1614.6 530.2,1611 530.5,1615.3 530.7,1612.2 531,1615.9 531.2,1612.7 531.5,1614.9 531.7,1611.6 532,1616 532.2,1611.6 532.5,1614.8 532.7,1611.4 533,1614.5 533.2,1610.5 533.5,1614.7 533.7,1610.7 534,1613.1 534.2,1610.6 534.5,1614.2 534.7,1610.2 535,1614.4 535.2,1610.8 535.5,1613.6 535.7,1609.6 536,1612.8 536.2,1610.3 536.5,1613 536.7,1609.3 537,1612.5 537.2,1609.2 537.5,1612.3 537.7,1609.6 538,1614.5 538.2,1609.7 538.5,1613.2 538.7,1609.2 539,1613 539.2,1608.3 539.5,1615.8 539.7,1605.7 540,1617.4 540.2,1610.8 540.5,1615.6 540.7,1608.7 541,1616.6 541.2,1611 541.5,1614.9 541.7,1610.9 542,1619.5 542.2,1607.3 542.5,1620.2 542.7,1612.8 543,1617.4 543.2,1611.3 543.5,1618.1 543.7,1613.5 544,1616.7 544.2,1613.1 544.5,1615.8 544.7,1611.8 545,1615.5 545.2,1612.2 545.5,1617.9 545.7,1610.6 546,1615.8 546.2,1611.6 546.5,1614.7 546.7,1611.4 547,1615.6 547.2,1612.8 547.5,1616.9 547.7,1612.4 548,1616.4 548.2,1613.7 548.5,1615.8 548.7,1613.2 549,1615.8 549.2,1613.1 549.5,1615.6 549.7,1611 550,1616.8 550.2,1612.4 550.5,1615.7 550.7,1613.1 551,1615.6 551.2,1612.8 551.5,1616.5 551.7,1613.6 552,1615.1 552.2,1612.6 552.5,1614.4 552.7,1611.8 553,1614.5 553.2,1612.1 553.5,1616.2 553.7,1613 554,1615.4 554.2,1612.2 554.5,1614.8 554.7,1610.3 555,1616.6 555.2,1610 555.5,1614.2 555.7,1610.6 556,1614.9 556.2,1610 556.5,1613.7 556.7,1610.5 557,1614.3 557.2,1609.4 557.5,1614.6 557.7,1609.2 558,1615.3 558.2,1608.9 558.5,1616.4 558.7,1609.1 559,1614.9 559.2,1612 559.5,1619.3 559.7,1608 560,1618.7 560.2,1611.9 560.5,1614.4 560.7,1607.3 561,1614.9 561.2,1609.7 561.5,1613.5 561.7,1605.6 562,1617.3 562.2,1605.8 562.5,1612.9 562.7,1609.7 563,1613.2 563.2,1610.6 563.5,1613.6 563.7,1610.3 564,1614.8 564.2,1611.8 564.5,1614.3 564.7,1610.9 565,1614.9 565.2,1612 565.5,1619.3 565.7,1608.6 566,1619 566.2,1612.4 566.5,1618.6 566.7,1609.2 567,1618.9 567.2,1612.8 567.5,1615.7 567.7,1608.6 568,1614.7 568.2,1607.1 568.5,1619.7 568.7,1606.5 569,1615 569.2,1609.7 569.5,1614.9 569.7,1610.6 570,1614.1 570.2,1611.4 570.5,1614.6 570.7,1612.1 571,1614.6 571.2,1610.9 571.5,1616.9 571.7,1608.1 572,1617.5 572.2,1612 572.5,1614.6 572.7,1611.5 573,1614.8 573.2,1611.6 573.5,1614.6 573.7,1611.7 574,1614.3 574.2,1610.4 574.5,1615 574.7,1610.7 575,1615.1 575.2,1611.3 575.5,1614.6 575.7,1610.9 576,1615.7 576.2,1611.5 576.5,1614.5 576.7,1611.6 577,1614.2 577.2,1610.6 577.5,1613.2 577.7,1610.6 578,1613.3 578.2,1610.8 578.5,1614 578.7,1610.2 579,1616.4 579.2,1611 579.5,1614.2 579.7,1610.9 580,1615.6 580.2,1611.5 580.5,1618.6 580.7,1608.2 581,1619.3 581.2,1611.3 581.5,1613.9 581.7,1610.9 582,1615 582.2,1610.7 582.5,1613.7 582.7,1610.3 583,1616.4 583.2,1606.9 583.5,1616.1 583.7,1610.3 584,1613.7 584.2,1609.9 584.5,1613.9 584.7,1611.4 585,1615 585.2,1610.4 585.5,1615.1 585.7,1612.4 586,1615.6 586.2,1607.4 586.5,1620 586.7,1607.1 587,1615.5 587.2,1609.5 587.5,1618.1 587.7,1609.5 588,1615.9 588.2,1612.4 588.5,1615.9 588.7,1609.9 589,1617 589.2,1609.7 589.5,1614.5 589.7,1611.6 590,1614.4 590.2,1611.7 590.5,1615.8 590.7,1610.4 591,1613.7 591.2,1611 591.5,1613.5 591.7,1607.8 592,1615.7 592.2,1607.6 592.5,1613.4 592.7,1610.1 593,1614.1 593.2,1609.8 593.5,1618 593.7,1604.8 594,1617.9 594.2,1606.5 594.5,1617.7 594.7,1605.3 595,1612.8 595.2,1610.2 595.5,1613.9 595.7,1610 596,1614.5 596.2,1611.5 596.5,1616.6 596.7,1610.7 597,1615.5 597.2,1611.8 597.5,1616.8 597.7,1609.6 598,1617.2 598.2,1612.4 598.5,1616 598.7,1611.1 599,1616.6 599.2,1613.4 599.5,1620.5 599.7,1607.9 600,1619.1 600.2,1612.6 600.5,1614.8 600.7,1612.1 601,1614.4 601.2,1610.9 601.5,1613.6 601.7,1610.6 602,1614.1 602.2,1611 602.5,1614 602.7,1608.1 603,1617.2 603.2,1608.1 603.5,1613.6 603.7,1611.3 604,1613.5 604.2,1611.4 604.5,1613.9 604.7,1611.6 605,1615.1 605.2,1610.7 605.5,1614.4 605.7,1613.1 606,1620.7 606.2,1607.9 606.5,1621.6 606.7,1613.5 607,1616.6 607.2,1613.1 607.5,1615.6 607.7,1612.3 608,1618.2 608.2,1609.4 608.5,1617.9 608.7,1611.5 609,1616.1 609.2,1612 609.5,1615.1 609.7,1612 610,1619.8 610.2,1606.9 610.5,1619.9 610.7,1612.2 611,1615.6 611.2,1612.4 611.5,1618.5 611.7,1609.6 612,1617.6 612.2,1607.8 612.5,1620.9 612.7,1608.2 613,1619.9 613.2,1607.8 613.5,1620.6 613.7,1611.2 614,1618.5 614.2,1612.5 614.5,1616.6 614.7,1613.7 615,1617.2 615.2,1613.2 615.5,1616.4 615.7,1614.7 616,1616.4 616.2,1613.1 616.5,1616.4 616.7,1608.5 617,1621.7 617.2,1608.5 617.5,1616.3 617.7,1612.7 618,1616.4 618.2,1612.2 618.5,1615.5 618.7,1612.3 619,1615.8 619.2,1611 619.5,1616.6 619.7,1612.3 620,1616.4 620.2,1612.7 620.5,1618.6 620.7,1612.5 621,1617.1 621.2,1614 621.5,1616.3 621.7,1613.3 622,1616.4 622.2,1612.4 622.5,1616 622.7,1614.1 623,1616.7 623.2,1614.2 623.5,1617.6 623.7,1614.9 624,1617.4 624.2,1614 624.5,1617.7 624.7,1612.5 625,1616.7 625.2,1613.2 625.5,1616.8 625.7,1613.4 626,1618.4 626.2,1614.4 626.5,1618.6 626.7,1613.2 627,1617.7 627.2,1614.1 627.5,1616.1 627.7,1613.2 628,1617.4 628.2,1611.3 628.5,1618.3 628.7,1610.7 629,1617.1 629.2,1613.4 629.5,1615.9 629.7,1613.8 630,1615.8 630.2,1613.4 630.5,1616.7 630.7,1613.8 631,1616.3 631.2,1608.2 631.5,1621.4 631.7,1609 632,1617 632.2,1614.7 632.5,1617.4 632.7,1613.2 633,1617.1 633.2,1615.1 633.5,1616.9 633.7,1612.9 634,1618.7 634.2,1613.2 634.5,1619.4 634.7,1616 635,1619 635.2,1615.1 635.5,1618 635.7,1614.3 636,1617.6 636.2,1613.9 636.5,1618.6 636.7,1615.6 637,1619.7 637.2,1615.6 637.5,1618.1 637.7,1616.3 638,1620.5 638.2,1615.6 638.5,1620.5 638.7,1616.3 639,1617.1 639.2,1614.8 639.5,1617.6 639.7,1613.6 640,1616.1 640.2,1614.3 640.5,1617 640.7,1614 641,1615.5 641.2,1613.2 641.5,1616.9 641.7,1614.3 642,1616.5 642.2,1612.7 642.5,1619.3 642.7,1612.7 643,1617.3 643.2,1615.1 643.5,1618.2 643.7,1615.3 644,1618.5 644.2,1615.6 644.5,1618 644.7,1614.7 645,1618.2 645.2,1614.8 645.5,1618.2 645.7,1615.7 646,1618.4 646.2,1615.2 646.5,1619.5 646.7,1614.8 647,1619 647.2,1614.3 647.5,1618.9 647.7,1616 648,1619.2 648.2,1615.4 648.5,1619.8 648.7,1616.1 649,1624.3 649.2,1611.4 649.5,1624.7 649.7,1617.2 650,1620.9 650.2,1617.2 650.5,1621.1 650.7,1617 651,1620.4 651.2,1616.3 651.5,1619.9 651.7,1615.9 652,1620.8 652.2,1617 652.5,1620.3 652.7,1617.6 653,1621.2 653.2,1617.1 653.5,1624.9 653.7,1612.1 654,1625.8 654.2,1617.7 654.5,1620.4 654.7,1617.9 655,1620.6 655.2,1617.5 655.5,1621.9 655.7,1618.3 656,1621.6 656.2,1618.2 656.5,1620.7 656.7,1618.2 657,1620.4 657.2,1612.3 657.5,1625.3 657.7,1611.8 658,1620.1 658.2,1616.5 658.5,1620.8 658.7,1616.2 659,1623.5 659.2,1614.1 659.5,1624.2 659.7,1618.2 660,1621.1 660.2,1619.1 660.5,1627.5 660.7,1614.7 661,1627 661.2,1618 661.5,1624.6 661.7,1616.9 662,1624.1 662.2,1618.1 662.5,1620.4 662.7,1617.6 663,1620.5 663.2,1618.6 663.5,1621 663.7,1617.5 664,1620.1 664.2,1617.7 664.5,1620.5 664.7,1617.3 665,1620.4 665.2,1617.7 665.5,1625.8 665.7,1612.7 666,1625.6 666.2,1617.6 666.5,1619.8 666.7,1617.4 667,1620.3 667.2,1617.3 667.5,1620.7 667.7,1617.3 668,1622.4 668.2,1616.2 668.5,1622.8 668.7,1616.1 669,1622.1 669.2,1615.7 669.5,1621.6 669.7,1616.1 670,1621.6 670.2,1618.1 670.5,1620.3 670.7,1618.1 671,1621.9 671.2,1617.4 671.5,1623.2 671.7,1618.7 672,1620.3 672.2,1617.3 672.5,1619.9 672.7,1616.7 673,1620.2 673.2,1617.5 673.5,1620.6 673.7,1615.9 674,1621 674.2,1618.2 674.5,1620.7 674.7,1618 675,1623.4 675.2,1618.6 675.5,1621.9 675.7,1618.6 676,1621.9 676.2,1618.9 676.5,1621.2 676.7,1618.3 677,1621.6 677.2,1615.7 677.5,1624.7 677.7,1617.6 678,1622.8 678.2,1619.9 678.5,1622.7 678.7,1614.3 679,1627.6 679.2,1614.5 679.5,1621.9 679.7,1619.7 680,1622.9 680.2,1619.7 680.5,1622.9 680.7,1620.8 681,1624.1 681.2,1620.5 681.5,1624.2 681.7,1619.3 682,1624.2 682.2,1619.4 682.5,1621.5 682.7,1619.7 683,1623.2 683.2,1620 683.5,1622.1 683.7,1618.6 684,1623.6 684.2,1618 684.5,1623.4 684.7,1618.9 685,1622 685.2,1618.9 685.5,1624 685.7,1616.7 686,1624.5 686.2,1619.5 686.5,1622.6 686.7,1619.5 687,1621.4 687.2,1618.8 687.5,1621.5 687.7,1619.1 688,1622.2 688.2,1618.6 688.5,1622.3 688.7,1620 689,1622.6 689.2,1620.5 689.5,1623.1 689.7,1620.7 690,1623.4 690.2,1620.4 690.5,1623.4 690.7,1620.7 691,1622.8 691.2,1619.4 691.5,1622.7 691.7,1619.6 692,1622.8 692.2,1618.7 692.5,1623.1 692.7,1617.8 693,1623.7 693.2,1618.4 693.5,1625 693.7,1618.8 694,1623.3 694.2,1620.2 694.5,1623.5 694.7,1620.2 695,1626.6 695.2,1616 695.5,1625.9 695.7,1619.5 696,1622.7 696.2,1619.7 696.5,1622.7 696.7,1620.1 697,1625.2 697.2,1621.7 697.5,1624.4 697.7,1621.4 698,1624.3 698.2,1620.7 698.5,1622.8 698.7,1619.9 699,1622.8 699.2,1619.9 699.5,1622.4 699.7,1620.1 700,1622.9 700.2,1620 700.5,1623.7 700.7,1618.8 701,1623.7 701.2,1620.9 701.5,1624.6 701.7,1619.6 702,1624.9 702.2,1619.5 702.5,1623.1 702.7,1614.8 703,1628 703.2,1615.3 703.5,1623.9 703.7,1620.5 704,1622.6 704.2,1618.9 704.5,1623.3 704.7,1620.5 705,1625.1 705.2,1618.5 705.5,1624.5 705.7,1620 706,1623.5 706.2,1619.7 706.5,1623.4 706.7,1619.4 707,1623.1 707.2,1619.2 707.5,1624.2 707.7,1619.8 708,1623.5 708.2,1619.8 708.5,1624.8 708.7,1620 709,1622.7 709.2,1619.2 709.5,1627.1 709.7,1619.9 710,1624.4 710.2,1620.2 710.5,1624.2 710.7,1620.1 711,1622.8 711.2,1619.7 711.5,1622.1 711.7,1618.4 712,1622.1 712.2,1618.5 712.5,1621.9 712.7,1617.9 713,1622.1 713.2,1619.9 713.5,1623 713.7,1619.8 714,1622.3 714.2,1619.6 714.5,1622.4 714.7,1617.8 715,1623.7 715.2,1619.8 715.5,1625.7 715.7,1617.9 716,1624.8 716.2,1618.6 716.5,1623.9 716.7,1619.1 717,1623 717.2,1619.8 717.5,1622.9 717.7,1620.9 718,1623.5 718.2,1621.2 718.5,1624.9 718.7,1621.2 719,1623.9 719.2,1619.3 719.5,1623.5 719.7,1614.4 720,1625.7 720.2,1616.4 720.5,1624.7 720.7,1617.6 721,1624.7 721.2,1618.5 721.5,1623 721.7,1620.5 722,1623.7 722.2,1620.8 722.5,1627.5 722.7,1619.5 723,1628.2 723.2,1622 723.5,1624.5 723.7,1622.1 724,1624.8 724.2,1621.2 724.5,1624.8 724.7,1620.5 725,1624.7 725.2,1622.7 725.5,1625.6 725.7,1621.4 726,1624.8 726.2,1621.2 726.5,1625.8 726.7,1620.6 727,1625 727.2,1621.4 727.5,1624.4 727.7,1620.7 728,1623.8 728.2,1619.1 728.5,1624.3 728.7,1618.7 729,1622.9 729.2,1616.8 729.5,1625.7 729.7,1616.9 730,1623.5 730.2,1621 730.5,1623.7 730.7,1618.8 731,1624.4 731.2,1616.7 731.5,1623 731.7,1619.9 732,1622.3 732.2,1619.4 732.5,1623 732.7,1620.8 733,1623.6 733.2,1621.4 733.5,1623.8 733.7,1621.2 734,1624.8 734.2,1620.5 734.5,1624.1 734.7,1619 735,1626.2 735.2,1619.4 735.5,1623.7 735.7,1621.5 736,1624 736.2,1620.5 736.5,1624.2 736.7,1618.8 737,1624.2 737.2,1619.6 737.5,1624.6 737.7,1618.8 738,1624.9 738.2,1619.5 738.5,1623.6 738.7,1620.9 739,1623.6 739.2,1620.2 739.5,1623.8 739.7,1621.4 740,1626.4 740.2,1620.9 740.5,1626.3 740.7,1618.9 741,1628.7 741.2,1619.8 741.5,1626.6 741.7,1622.8 742,1628.1 742.2,1619.5 742.5,1627.7 742.7,1621.6 743,1625.1 743.2,1622.1 743.5,1623.8 743.7,1621.5 744,1626 744.2,1619.9 744.5,1626.8 744.7,1617.4 745,1629.5 745.2,1617.8" fill="none" stroke="#a9a9a9" stroke-width="0.8"/>
<line x1="174.2" y1="1626" x2="174.2" y2="1707" stroke="#999" stroke-width="1.6"/>
<line x1="174.2" y1="1626" x2="174.2" y2="1707" stroke="#ff0000" stroke-width="1.0"/>
<polyline points="92.2,1625.2 92.5,1627 92.7,1623.9 93,1626.7 93.2,1624.1 93.5,1626.4 93.7,1623.6 94,1627.1 94.2,1624.1 94.5,1629.7 94.7,1622.6 95,1630.5 95.2,1624.7 95.5,1628.1 95.7,1622.8 96,1628.3 96.2,1623.6 96.5,1628.4 96.7,1624.2 97,1629.9 97.2,1624.5 97.5,1629.5 97.7,1626.5 98,1629.9 98.2,1622.2 98.5,1631.4 98.7,1625.1 99,1631 99.2,1626.4 99.5,1628.8 99.7,1622.2 100,1630.7 100.2,1621.9 100.5,1629.1 100.7,1622.8 101,1630.5 101.2,1624.5 101.5,1628.3 101.7,1625.6 102,1628.8 102.2,1624.2 102.5,1627.1 102.7,1623.6 103,1628.3 103.2,1623.1 103.5,1628.7 103.7,1624 104,1632.5 104.2,1619.4 104.5,1632.2 104.7,1624.3 105,1626.8 105.2,1623.9 105.5,1627.5 105.7,1623.2 106,1630.8 106.2,1620.2 106.5,1632.5 106.7,1625.4 107,1628 107.2,1625.6 107.5,1628.5 107.7,1625.2 108,1634.8 108.2,1622.7 108.5,1635.6 108.7,1627.6 109,1631.3 109.2,1625.7 109.5,1631.6 109.7,1626 110,1633.7 110.2,1625.1 110.5,1631.8 110.7,1627 111,1632.5 111.2,1628.7 111.5,1631.6 111.7,1629.6 112,1631.6 112.2,1629.3 112.5,1631.2 112.7,1627.2 113,1631.3 113.2,1628.2 113.5,1630.5 113.7,1628.1 114,1630.5 114.2,1628.6 114.5,1631.7 114.7,1627.8 115,1630.4 115.2,1622.5 115.5,1636.1 115.7,1623.7 116,1631.5 116.2,1628.5 116.5,1631.9 116.7,1629 117,1632.5 117.2,1626.9 117.5,1632.9 117.7,1625.4 118,1631 118.2,1628.1 118.5,1631.6 118.7,1628 119,1631.3 119.2,1623.6 119.5,1636.8 119.7,1623.3 120,1630.9 120.2,1628.9 120.5,1632.6 120.7,1628.1 121,1634.3 121.2,1627.8 121.5,1632.7 121.7,1630.1 122,1632.4 122.2,1629.1 122.5,1632.4 122.7,1629.6 123,1632.5 123.2,1629.9 123.5,1633.1 123.7,1629.8 124,1632.6 124.2,1629.5 124.5,1633 124.7,1629.3 125,1633 125.2,1629.6 125.5,1632.2 125.7,1626.8 126,1635.5 126.2,1626.3 126.5,1632.6 126.7,1628.8 127,1632.1 127.2,1628.5 127.5,1634.5 127.7,1624.2 128,1635.7 128.2,1628.5 128.4,1631.5 128.7,1628.4 128.9,1631.4 129.2,1627.2 129.4,1632.5 129.7,1628.2 129.9,1632.4 130.2,1626.9 130.4,1631.5 130.7,1627.3 130.9,1630.1 131.2,1622.8 131.4,1632 131.7,1622.4 131.9,1628.6 132.2,1626 132.4,1628.4 132.7,1624.6 132.9,1627.3 133.2,1624.7 133.4,1626.8 133.7,1623.6 133.9,1627 134.2,1623.5 134.4,1626.5 134.7,1623.1 134.9,1625.7 135.2,1623.2 135.4,1625.3 135.7,1621.6 135.9,1625.2 136.2,1622.2 136.4,1625.7 136.7,1620.6 136.9,1625.3 137.2,1621.6 137.4,1625.2 137.7,1621.8 137.9,1624.9 138.2,1621.5 138.4,1624 138.7,1616.8 138.9,1626.1 139.2,1617.3 139.4,1623.4 139.7,1620.7 139.9,1624.4 140.2,1620 140.4,1623.7 140.7,1618.6 140.9,1625.5 141.2,1618.3 141.4,1624.1 141.7,1620.1 141.9,1623.5 142.2,1620.5 142.4,1623.3 142.7,1620.7 142.9,1624.7 143.2,1621.9 143.4,1624.6 143.7,1622.7 143.9,1625.9 144.2,1617.6 144.4,1630.5 144.7,1617.7 144.9,1625.7 145.2,1622.1 145.4,1626.6 145.7,1620.3 145.9,1627.3 146.2,1621.6 146.4,1624.8 146.7,1620.7 146.9,1628 147.2,1617 147.4,1628 147.7,1621.5 147.9,1624.5 148.2,1619.2 148.4,1624.3 148.7,1622.1 148.9,1624.8 149.2,1618.8 149.4,1628 149.7,1616.5 149.9,1624.3 150.2,1621.6 150.4,1624.4 150.7,1620.8 150.9,1625.1 151.2,1620.9 151.4,1624.4 151.7,1621.9 151.9,1623.8 152.2,1621.3 152.4,1623.7 152.7,1620.6 152.9,1624 153.2,1621.3 153.4,1627 153.7,1619 153.9,1627 154.2,1622 154.4,1625.2 154.7,1622 154.9,1625.4 155.2,1623.3 155.4,1627.2 155.7,1624.5 155.9,1627.5 156.2,1622.9 156.4,1627.9 156.7,1624.8 156.9,1629.3 157.2,1624.9 157.4,1627.9 157.7,1624.2 157.9,1626.1 158.2,1621.2 158.4,1627.4 158.7,1622.9 158.9,1627.6 159.2,1624.8 159.4,1627.8 159.7,1625.1 159.9,1627.7 160.2,1624.8 160.4,1627.9 160.7,1625.8 160.9,1628.4 161.2,1625.3 161.4,1628.1 161.7,1625.5 161.9,1628.8 162.2,1626.5 162.4,1629.8 162.7,1626.4 162.9,1629.7 163.2,1626.3 163.4,1633.3 163.7,1621.1 163.9,1632.8 164.2,1625.7 164.4,1628.6 164.7,1625.7 164.9,1628.4 165.2,1625.5 165.4,1627.5 165.7,1625 165.9,1628.7 166.2,1623 166.4,1628 166.7,1624.4 166.9,1629.2 167.2,1624.5 167.4,1626.7 167.7,1619.4 167.9,1631.7 168.2,1619.4 168.4,1632.4 168.7,1619.3 168.9,1633.1 169.2,1625.3 169.4,1628.2 169.7,1625.7 169.9,1628.9 170.2,1626.3 170.4,1628.2 170.7,1626.3 170.9,1628.9 171.2,1624.4 171.4,1627.3 171.7,1624.9 171.9,1627.9 172.2,1624.1 172.4,1627.1 172.7,1620.2 172.9,1630.4 173.2,1619.4 173.4,1626.4 173.7,1623.9 173.9,1626.9 174.2,1623.1 174.4,1626 174.7,1622.8 174.9,1627.6 175.2,1623.2 175.4,1625.4 175.7,1623 175.9,1624.9 176.2,1621.1 176.4,1625.8 176.7,1622 176.9,1624.7 177.2,1621.8 177.4,1625.9 177.7,1622.6 177.9,1629.3 178.2,1619 178.4,1619.8 178.7,1614.3 178.9,1615.5 179.2,1609.6 179.4,1608.9 179.7,1605.3 179.9,1603.5 180.9,1593 184.2,1568.8 187,1537.7 187.5,1021 188.3,1300 189.2,1660 189.7,1675 190.2,1676.1 190.4,1680.5 190.7,1677.6 190.9,1680.3 191.2,1674.9 191.4,1679 191.7,1674.7 191.9,1676.8 192.2,1672.6 192.4,1677.7 192.7,1672.1 192.9,1677.6 193.2,1673.6 193.4,1675.2 193.7,1667.1 193.9,1678.6 194.2,1665.6 194.4,1672.7 194.7,1670.1 194.9,1671.3 195.2,1667.4 195.4,1669.2 195.7,1665.5 195.9,1667.9 196.2,1665.1 196.4,1667.2 196.7,1664 196.9,1666 197.2,1663.2 197.4,1665.1 197.7,1660.6 197.9,1668.2 198.2,1660.4 198.4,1666.2 198.7,1656.5 198.9,1669 199.2,1657.2 199.4,1669 199.7,1657.3 199.9,1668.5 200.2,1660.4 200.4,1662.8 200.7,1659.3 200.9,1661.7 201.2,1658.5 201.4,1660.2 201.7,1656.8 201.9,1659.7 202.2,1655.7 202.4,1658.2 202.7,1652.8 202.9,1661.5 203.2,1652.7 203.4,1657.7 203.7,1655.1 203.9,1656.8 204.2,1653.3 204.4,1659.6 204.7,1646.4 204.9,1659.4 205.2,1648.4 205.4,1654.6 205.7,1646.9 205.9,1650.9 206.2,1645.5 206.4,1652.3 206.7,1643.1 206.9,1650.6 207.2,1644.4 207.4,1649.3 207.7,1645.3 207.9,1648.1 208.2,1642.1 208.4,1646.8 208.7,1641.6 208.9,1643.6 209.2,1640.7 209.4,1642.6 209.7,1637.9 209.9,1641.2 210.2,1634.3 210.4,1642.7 210.7,1631.2 210.9,1637 211.2,1630.9 211.4,1636.1 211.7,1629.7 211.9,1631.6 212.2,1622.9 212.4,1633.3 212.7,1620.7 212.9,1627.3 213.2,1623.3 213.4,1625.1 213.7,1621 213.9,1624.1 214.2,1619.9 214.4,1621.6 214.7,1618.7 214.9,1620.8 215.2,1618.7 215.4,1620.6 215.7,1618.8 215.9,1622 216.2,1618.3 216.4,1621.5 216.7,1619 216.9,1621.6 217.2,1619.4 217.4,1622.6 217.7,1617.4 217.9,1622 218.2,1616 218.4,1623.4 218.7,1616.2 218.9,1621.3 219.2,1618.3 219.4,1620.5 219.7,1617.9 219.9,1621 220.2,1618.8 220.4,1621.7 220.7,1618.4 220.9,1621.9 221.2,1618.8 221.4,1621.3 221.7,1618.5 221.9,1621.1 222.2,1616.5 222.4,1621.1 222.7,1615.3 222.9,1617.8 223.2,1613.8 223.4,1617.4 223.7,1609.8 223.9,1616.3 224.2,1610.4 224.4,1612.2 224.7,1608.4 224.9,1610.5 225.2,1604.9 225.4,1609.6 225.7,1602.6 225.9,1606.4 226.2,1601.8 226.4,1604.5 226.7,1600.2 226.9,1603.3 227.2,1599.9 227.4,1602.6 227.7,1597.4 227.9,1602.8 228.2,1596.8 228.4,1601 228.7,1593.9 228.9,1598.7 229.2,1593.1 229.4,1595.3 229.7,1590.5 229.9,1592.5 230.2,1586.8 230.4,1590.3 230.7,1586.4 230.9,1588.1 231.2,1584.1 231.4,1586.1 231.7,1582.5 231.9,1585.3 232.2,1580.5 232.4,1582.9 232.7,1579.5 232.9,1584.4 233.2,1573.5 233.4,1582 233.7,1574.6 233.9,1579.6 234.2,1571.2 234.4,1577.7 234.7,1571.8 234.9,1574.8 235.2,1570.7 235.4,1574.4 235.7,1569.9 235.9,1572.7 236.2,1568.5 236.4,1570.7 236.7,1567.7 236.9,1570.8 237.2,1566.6 237.4,1571.1 237.7,1567 237.9,1575.2 238.2,1562.2 238.4,1575.2 238.7,1567.1 238.9,1569.9 239.2,1565.1 239.4,1570.5 239.7,1567.1 239.9,1569.7 240.2,1566.6 240.4,1569.8 240.7,1566.6 240.9,1571.4 241.2,1567.8 241.4,1570.8 241.7,1567.5 241.9,1571.7 242.2,1566.9 242.4,1574.3 242.7,1570.3 242.9,1573 243.2,1569.9 243.4,1571.6 243.7,1569.2 243.9,1571.7 244.2,1569.6 244.4,1571.5 244.7,1568.1 244.9,1571.4 245.2,1569.1 245.4,1571.5 245.7,1567.6 245.9,1573.9 246.2,1566.4 246.4,1575 246.7,1567.7 246.9,1574.7 247.2,1568.1 247.4,1574.2 247.7,1571.8 247.9,1577.5 248.2,1569.8 248.4,1580 248.7,1574.2 248.9,1577.7 249.2,1575.8 249.4,1579.7 249.7,1577.5 249.9,1579.5 250.2,1575.5 250.4,1580.8 250.7,1576.7 250.9,1581.3 251.2,1578 251.4,1581.6 251.7,1578.6 251.9,1584.2 252.2,1579.7 252.4,1583.5 252.7,1580.1 252.9,1583.9 253.2,1581 253.4,1584.1 253.7,1580.4 253.9,1584.5 254.2,1582.6 254.4,1585.2 254.7,1581.8 254.9,1585.8 255.2,1582.4 255.4,1586 255.7,1582.8 255.9,1585.6 256.2,1583 256.4,1586.3 256.7,1584.1 256.9,1586.3 257.2,1584.3 257.4,1588.5 257.7,1584.4 257.9,1587.3 258.2,1583.8 258.4,1586.5 258.7,1583.7 258.9,1585.1 259.2,1581.9 259.4,1584.1 259.7,1581.7 259.9,1584.3 260.2,1581.9 260.4,1584 260.7,1581.2 260.9,1584.2 261.2,1581 261.4,1582.6 261.7,1579.9 261.9,1581.8 262.2,1578.2 262.4,1582.6 262.7,1577.9 262.9,1580.3 263.2,1576.9 263.4,1580 263.7,1576.5 263.9,1579.8 264.2,1577.1 264.4,1583.2 264.7,1574 264.9,1583.1 265.2,1576.9 265.4,1581.3 265.7,1577.4 265.9,1583.2 266.2,1579.8 266.4,1584 266.7,1580.6 266.9,1584.9 267.2,1582.5 267.4,1586.1 267.7,1582.9 267.9,1587.5 268.2,1584.5 268.4,1588.2 268.7,1586.3 268.9,1589.2 269.2,1584.5 269.4,1590.2 269.7,1583.8 269.9,1590.8 270.2,1584.5 270.4,1593.2 270.7,1582.3 270.9,1596 271.2,1583.6 271.4,1592.2 271.7,1588.8 271.9,1592.5 272.2,1589 272.4,1592.6 272.7,1590.5 272.9,1595 273.2,1590.4 273.4,1596.2 273.7,1592.6 273.9,1595.9 274.2,1592.9 274.4,1595.5 274.7,1593 274.9,1595.6 275.2,1592.3 275.4,1596.6 275.7,1592 275.9,1596.6 276.2,1591.3 276.4,1599 276.7,1590.1 276.9,1597 277.2,1593.9 277.4,1596.7 277.7,1593.2 277.9,1598.4 278.2,1594.2 278.4,1597.9 278.7,1595.4 278.9,1598 279.2,1594.9 279.4,1598.5 279.7,1593.7 279.9,1599.5 280.2,1593.6 280.4,1598.6 280.7,1594.3 280.9,1598.6 281.2,1594.6 281.4,1597.2 281.7,1594.5 281.9,1597.2 282.2,1593.1 282.4,1596.3 282.7,1593.5 282.9,1595.8 283.2,1593.6 283.4,1594.8 283.7,1590 283.9,1595.6 284.2,1588.6 284.4,1592.9 284.7,1587.9 284.9,1591.9 285.2,1586.5 285.4,1588.6 285.7,1584.2 285.9,1587.8 286.2,1582.5 286.4,1590.2 286.7,1576.4 286.9,1588.1 287.2,1579.4 287.4,1581.3 287.7,1577.8 287.9,1581 288.2,1576.9 288.4,1580.9 288.7,1576.9 288.9,1580.5 289.2,1576.8 289.4,1579.7 289.7,1577.9 289.9,1580.2 290.2,1576.3 290.4,1580.4 290.7,1577.6 290.9,1581.4 291.2,1577.4 291.4,1580.7 291.7,1579.2 291.9,1581.6 292.2,1577.3 292.4,1581.6 292.7,1580.3 292.9,1583.8 293.2,1581.5 293.4,1584.2 293.7,1581.4 293.9,1585 294.2,1582.8 294.4,1587.8 294.7,1585.8 294.9,1589.5 295.2,1585.6 295.4,1591.7 295.7,1588.4 295.9,1592.2 296.2,1587.9 296.4,1595 296.7,1590.9 296.9,1594 297.2,1591.2 297.4,1594.8 297.7,1592.9 297.9,1596.1 298.2,1594.5 298.4,1600 298.7,1590.6 298.9,1599.5 299.2,1588.8 299.4,1601.8 299.7,1589.2 299.9,1597.8 300.2,1595.2 300.4,1597.4 300.7,1593.4 300.9,1597.9 301.2,1592 301.4,1598.7 301.7,1594.3 301.9,1597.6 302.2,1594.6 302.4,1598.3 302.7,1595.2 302.9,1601.2 303.2,1590.8 303.4,1601.1 303.7,1593.6 303.9,1598.6 304.2,1593.5 304.4,1601 304.7,1591.6 304.9,1603 305.2,1595.8 305.4,1598.8 305.7,1596.1 305.9,1599.4 306.2,1593.9 306.4,1600.9 306.7,1594.4 306.9,1602.1 307.2,1595.2 307.4,1602.8 307.7,1595.8 307.9,1600.2 308.2,1596.4 308.4,1601.5 308.7,1597.4 308.9,1604.5 309.2,1593.5 309.4,1602.5 309.7,1596.5 309.9,1599.6 310.2,1597.6 310.4,1601.8 310.7,1596.7 310.9,1603.4 311.2,1595.3 311.4,1603.3 311.7,1595.5 311.9,1600.5 312.2,1596.6 312.4,1600.6 312.7,1597 312.9,1601 313.2,1596.6 313.4,1601.7 313.7,1597 313.9,1600.8 314.2,1598.3 314.4,1601 314.7,1597.2 314.9,1600.8 315.2,1597.2 315.4,1601.7 315.7,1598.2 315.9,1602.3 316.2,1598.7 316.4,1602.2 316.7,1596 316.9,1605.1 317.2,1596.5 317.4,1601.4 317.7,1598.3 317.9,1601.6 318.2,1596.9 318.4,1602.5 318.7,1595.8 318.9,1599.9 319.2,1597.6 319.4,1599.8 319.7,1597.1 319.9,1599.8 320.2,1595.5 320.4,1601.1 320.7,1597.5 320.9,1602.3 321.2,1597.7 321.4,1600.2 321.7,1597.3 321.9,1600.9 322.2,1599.1 322.4,1601.1 322.7,1598.3 322.9,1602.2 323.2,1598 323.4,1602.8 323.7,1599.1 323.9,1601.9 324.2,1600.3 324.4,1603.3 324.7,1600.5 324.9,1602.5 325.2,1599.6 325.4,1602.9 325.7,1600.9 325.9,1603.8 326.2,1600.4 326.4,1603.7 326.7,1600.4 326.9,1606.3 327.2,1597.5 327.4,1606.9 327.7,1600.8 327.9,1602.8 328.2,1597 328.4,1605.5 328.7,1596.9 328.9,1604.3 329.2,1599.4 329.4,1602.4 329.7,1598.5 329.9,1605.6 330.2,1597.4 330.4,1603.5 330.7,1600.8 330.9,1604.2 331.2,1601.5 331.4,1605.5 331.7,1601.2 331.9,1604.4 332.2,1599.8 332.4,1605.5 332.7,1601.4 332.9,1605.5 333.2,1602 333.4,1604.8 333.7,1601.5 333.9,1603.9 334.2,1601.8 334.4,1605.6 334.7,1601.4 334.9,1604.5 335.2,1600.9 335.4,1608.8 335.7,1595.4 335.9,1608.6 336.2,1598.9 336.4,1602.9 336.7,1598.1 336.9,1601.1 337.2,1593.2 337.4,1604.3 337.7,1592.3 337.9,1603.9 338.2,1592.6 338.4,1602.8 338.7,1595.8 338.9,1602.2 339.2,1593.8 339.4,1601.3 339.7,1595.3 339.9,1599.5 340.2,1595.7 340.4,1599.5 340.7,1596.2 340.9,1598.8 341.2,1596.1 341.4,1598 341.7,1595 341.9,1597.8 342.2,1590.8 342.4,1599 342.7,1590.9 342.9,1595.4 343.2,1592.1 343.4,1599.9 343.7,1588.9 343.9,1599.9 344.2,1592.1 344.4,1596.4 344.7,1591.7 344.9,1595.8 345.2,1591.4 345.4,1595.5 345.7,1592.7 345.9,1594.7 346.2,1591.8 346.4,1595.8 346.7,1592.7 346.9,1597.7 347.2,1593.5 347.4,1600 347.7,1594.9 347.9,1598.2 348.2,1595.1 348.4,1598.6 348.7,1595.1 348.9,1598.7 349.2,1596.5 349.4,1599 349.7,1596.7 349.9,1600.2 350.2,1596.4 350.4,1602.9 350.7,1595.1 350.9,1603.5 351.2,1596 351.4,1600 351.7,1597.3 351.9,1600.5 352.2,1598.3 352.4,1601.9 352.7,1598.7 352.9,1602.2 353.2,1599.8 353.4,1602.9 353.7,1599.1 353.9,1602.9 354.2,1600.1 354.4,1608.8 354.7,1595.6 354.9,1609 355.2,1601.1 355.4,1608.5 355.7,1597.2 355.9,1610.4 356.2,1602.1 356.4,1606.6 356.7,1605 356.9,1607.2 357.2,1605 357.4,1608.2 357.7,1602.4 357.9,1612.3 358.2,1604.3 358.4,1608.6 358.7,1606.9 358.9,1612 359.2,1604.8 359.4,1613.4 359.7,1609 359.9,1611.6 360.2,1609.4 360.4,1617.7 360.7,1605.8 360.9,1618.7 361.2,1610.3 361.4,1613.5 361.7,1611 361.9,1614.9 362.2,1611.3 362.4,1615.3 362.7,1607.5 362.9,1620.9 363.2,1607.5 363.4,1615.6 363.7,1612 363.9,1616.8 364.2,1611 364.4,1613.9 364.7,1610.3 364.9,1616.3 365.2,1612.2 365.4,1616.1 365.7,1613.1 365.9,1617.4 366.2,1614.4 366.4,1618.2 366.7,1613.4 366.9,1617.9 367.2,1612.9 367.4,1618.4 367.7,1612.3 367.9,1618.1 368.2,1613.7 368.4,1616.8 368.7,1612.9 368.9,1616 369.2,1613.7 369.4,1616.6 369.7,1612.7 369.9,1616.9 370.2,1614 370.4,1619.8 370.7,1609.4 370.9,1619.6 371.2,1613.4 371.4,1615.7 371.7,1613.8 371.9,1616.4 372.2,1613.9 372.4,1616.9 372.7,1613.7 372.9,1617.7 373.2,1612.7 373.4,1615.5 373.7,1612.8 373.9,1615 374.2,1612.3 374.4,1615.4 374.7,1611.7 374.9,1615.3 375.2,1612.1 375.4,1614.2 375.7,1611.1 375.9,1613.5 376.2,1611 376.4,1613.8 376.7,1605.8 376.9,1618.2 377.2,1604.7 377.4,1612.6 377.7,1608 377.9,1611 378.2,1607.4 378.4,1609.4 378.7,1605.5 378.9,1608.5 379.2,1604.6 379.4,1607.7 379.7,1603.6 379.9,1606.4 380.2,1603.2 380.4,1606.6 380.7,1603.8 380.9,1605.5 381.2,1602.9 381.4,1606.4 381.7,1603.6 381.9,1606.1 382.2,1604.2 382.4,1606.7 382.7,1604.9 382.9,1607.3 383.2,1604.8 383.4,1606.8 383.7,1604 383.9,1608.3 384.2,1605.7 384.4,1610.5 384.7,1606.7 384.9,1609.7 385.2,1607.5 385.4,1610 385.7,1608.4 385.9,1612 386.2,1608.6 386.4,1611 386.7,1608.6 386.9,1613.3 387.2,1608.9 387.4,1613.9 387.7,1608.2 387.9,1614.1 388.2,1610.3 388.4,1614.7 388.7,1612.6 388.9,1615.9 389.2,1612.8 389.4,1616.5 389.7,1610.6 389.9,1615.8 390.2,1613 390.4,1616.8 390.7,1613.9 390.9,1617 391.2,1614.5 391.4,1618.1 391.7,1616.1 391.9,1618.5 392.2,1615.5 392.4,1618.9 392.7,1615.8 392.9,1619.7 393.2,1614.6 393.4,1618.3 393.7,1616.2 393.9,1618.7 394.2,1615 394.4,1619 394.7,1614.3 394.9,1619.2 395.2,1614 395.4,1619.6 395.7,1610.7 395.9,1620.5 396.2,1614.5 396.4,1617.4 396.7,1613.9 396.9,1616.4 397.2,1612.8 397.4,1614.5 397.7,1611.8 397.9,1614.3 398.2,1611.3 398.4,1615.2 398.7,1609.8 398.9,1615.1 399.2,1609.9 399.4,1613.6 399.7,1610.5 399.9,1614.9 400.2,1608.1 400.4,1614.1 400.7,1603.9 400.9,1616.7 401.2,1603.5 401.4,1611 401.7,1603.9 401.9,1615.7 402.2,1604.2 402.4,1616.2 402.7,1603.5 402.9,1615.5 403.2,1607.9 403.4,1612.1 403.7,1608 403.9,1611.3 404.2,1607.9 404.4,1612.1 404.7,1608.9 404.9,1611.3 405.2,1608.6 405.4,1612.4 405.7,1609.3 405.9,1614.3 406.2,1609.5 406.4,1615.8 406.7,1604.8 406.9,1615.2 407.2,1608.8 407.4,1612.1 407.7,1607.8 407.9,1610.8 408.2,1607.7 408.4,1610.2 408.7,1607.7 408.9,1612.5 409.2,1607.1 409.4,1612.2 409.7,1607.7 409.9,1610 410.2,1607.4 410.4,1609.9 410.7,1607.1 410.9,1610.2 411.2,1608.1 411.4,1611.1 411.7,1608.5 411.9,1613.7 412.2,1607.4 412.4,1615.2 412.7,1610.2 412.9,1612.4 413.2,1609.3 413.4,1611.8 413.7,1609.2 413.9,1611.6 414.2,1609.4 414.4,1612.4 414.7,1609.2 414.9,1614.1 415.2,1610.1 415.4,1614 415.7,1610.3 415.9,1612.5 416.2,1610 416.4,1612.8 416.7,1609.6 416.9,1612.8 417.2,1610.4 417.4,1613.4 417.7,1610.9 417.9,1613.6 418.2,1609.9 418.4,1614.6 418.7,1611.1 418.9,1614.3 419.2,1610.2 419.4,1614 419.7,1612 419.9,1614.8 420.2,1613.4 420.4,1616.2 420.7,1610.5 420.9,1619.5 421.2,1610.7 421.4,1616.7 421.7,1612.9 421.9,1620.3 422.2,1607.8 422.4,1620.3 422.7,1610.1 422.9,1615.9 423.2,1611.4 423.4,1615.9 423.7,1611.7 423.9,1615.5 424.2,1610.2 424.4,1613 424.7,1609.6 424.9,1612.3 425.2,1605.5 425.4,1610.9 425.7,1607 425.9,1609.5 426.2,1605.9 426.4,1609.7 426.7,1605.5 426.9,1608.5 427.2,1604.2 427.4,1608 427.7,1604.7 427.9,1606.4 428.2,1603.8 428.4,1607.4 428.7,1602.3 428.9,1606.2 429.2,1602.4 429.4,1608 429.7,1599.9 429.9,1607.6 430.2,1600.5 430.4,1603 430.7,1599.6 430.9,1601.4 431.2,1597.3 431.4,1599.4 431.7,1591.3 431.9,1604.2 432.2,1591.1 432.4,1599.7 432.7,1595.2 432.9,1599.6 433.2,1594.8 433.4,1597.1 433.7,1595.2 433.9,1597.8 434.2,1594.3 434.4,1601 434.7,1594.8 434.9,1598.8 435.2,1597.2 435.4,1600.2 435.7,1597 435.9,1600.4 436.2,1597.1 436.4,1599.4 436.7,1596.7 436.9,1605.1 437.2,1592 437.4,1605.2 437.7,1595.1 437.9,1599.8 438.2,1596.9 438.4,1602.5 438.7,1597.1 438.9,1599.8 439.2,1598.2 439.4,1602.1 439.7,1597.9 439.9,1601.4 440.2,1598.5 440.4,1600.4 440.7,1597.9 440.9,1601.1 441.2,1598.7 441.4,1601.9 441.7,1599 441.9,1602 442.2,1599.5 442.4,1602.7 442.7,1599.2 442.9,1603.3 443.2,1600.9 443.4,1602.8 443.7,1600.2 443.9,1604.1 444.2,1599.5 444.4,1605 444.7,1602.9 444.9,1606.1 445.2,1603.1 445.4,1605.7 445.7,1604.1 445.9,1607 446.2,1604.6 446.4,1606.8 446.7,1604.2 446.9,1607 447.2,1604.1 447.4,1608.4 447.7,1605.4 447.9,1608.2 448.2,1606.2 448.4,1609.8 448.7,1606.2 448.9,1608.5 449.2,1606.2 449.4,1609.2 449.7,1605.8 449.9,1611.2 450.2,1606.9 450.4,1610.5 450.7,1604.3 450.9,1611.7 451.2,1605.2 451.4,1609.6 451.7,1606.5 451.9,1609.9 452.2,1606.2 452.4,1610.6 452.7,1606.1 452.9,1611.2 453.2,1606.7 453.4,1611.1 453.7,1605.9 453.9,1610.3 454.2,1607 454.4,1610.3 454.7,1607.4 454.9,1611.2 455.2,1606.7 455.4,1611.8 455.7,1605.6 455.9,1610.5 456.2,1605 456.4,1612.2 456.7,1604.2 456.9,1609.3 457.2,1607.3 457.4,1610.6 457.7,1608.2 457.9,1611.8 458.2,1607.8 458.4,1612.9 458.7,1609.3 458.9,1614.5 459.2,1608.8 459.4,1616.1 459.7,1610.6 459.9,1613.9 460.2,1609.9 460.4,1618.3 460.7,1605.9 460.9,1619.4 461.2,1611.4 461.4,1615.4 461.7,1612.5 461.9,1615.9 462.2,1612.9 462.4,1616 462.7,1612.6 462.9,1615.7 463.2,1613.5 463.4,1616.4 463.7,1613.8 463.9,1618.1 464.2,1614.1 464.4,1618.7 464.7,1612.4 464.9,1618.9 465.2,1612.1 465.4,1619.4 465.7,1614.5 465.9,1617.6 466.2,1613.6 466.4,1617.6 466.7,1614.2 466.9,1618.1 467.2,1613.1 467.4,1617.9 467.7,1614.1 467.9,1617.8 468.2,1613.7 468.4,1617 468.7,1614.7 468.9,1618.2 469.2,1615.7 469.4,1619.3 469.7,1615.6 469.9,1619.1 470.2,1615 470.4,1618.2 470.7,1613 470.9,1621 471.2,1612.6 471.4,1619 471.7,1615.7 471.9,1618.7 472.2,1615.8 472.4,1618.7 472.7,1615.5 472.9,1619.1 473.2,1615.7 473.4,1620.1 473.7,1616.2 473.9,1623.2 474.2,1611.9 474.4,1622.7 474.7,1614 474.9,1620.6 475.2,1613.6 475.4,1619.7 475.7,1617 475.9,1622.2 476.2,1617.9 476.4,1623.1 476.7,1617.5 476.9,1622.1 477.2,1617.9 477.4,1621.8 477.7,1618.8 477.9,1622.3 478.2,1619.2 478.4,1624.3 478.7,1615.6 478.9,1624.3 479.2,1619.5 479.4,1624.2 479.7,1618.6 479.9,1622.8 480.2,1618.3 480.4,1622.1 480.7,1617.9 480.9,1624 481.2,1619.6 481.4,1624.3 481.7,1619.2 481.9,1624.5 482.2,1620.1 482.4,1624.7 482.7,1619.7 482.9,1623.4 483.2,1620.6 483.4,1623.8 483.7,1615.1 483.9,1628.7 484.2,1616.5 484.4,1626.2 484.7,1619.6 484.9,1624.5 485.2,1619.8 485.4,1623 485.7,1618.8 485.9,1622.8 486.2,1619.8 486.4,1622.3 486.7,1619.3 486.9,1623.5 487.2,1619.4 487.4,1622.9 487.7,1620.1 487.9,1622.4 488.2,1619.8 488.4,1622.4 488.7,1619.9 488.9,1623.4 489.2,1618.7 489.4,1622.4 489.7,1619.5 489.9,1622 490.2,1617.5 490.4,1624.1 490.7,1617 490.9,1622.1 491.2,1617.2 491.4,1620.7 491.7,1618.4 491.9,1622.4 492.2,1618 492.4,1621.4 492.7,1617.3 492.9,1620.7 493.2,1617 493.4,1619.3 493.7,1616.2 493.9,1620.3 494.2,1615.9 494.4,1620.8 494.7,1617.3 494.9,1620.8 495.2,1616.5 495.4,1620.3 495.7,1614.9 495.9,1621.9 496.2,1615.7 496.4,1620.6 496.7,1617.3 496.9,1620.4 497.2,1617.3 497.4,1619.8 497.7,1615.2 497.9,1623.3 498.2,1616.8 498.4,1621.8 498.7,1619.1 498.9,1622.4 499.2,1618.3 499.4,1620.9 499.7,1617.3 499.9,1620.5 500.2,1617.2 500.4,1620.2 500.7,1617.9 500.9,1620.7 501.2,1619.2 501.4,1622 501.7,1619.4 501.9,1622 502.2,1617.5 502.4,1622.8 502.7,1619.6 502.9,1622.7 503.2,1620 503.4,1622.8 503.7,1619.9 503.9,1623.2 504.2,1619.2 504.4,1621.1 504.7,1619.3 504.9,1625.4 505.2,1615.7 505.4,1626.7 505.7,1619.1 505.9,1621.7 506.2,1619.8 506.4,1622.9 506.7,1619.7 506.9,1622.2 507.2,1615.9 507.4,1624.9 507.7,1617.2 507.9,1624.7 508.2,1620.6 508.4,1625.6 508.7,1619.8 508.9,1624.8 509.2,1615.9 509.4,1623.9 509.7,1619.1 509.9,1622.7 510.2,1618.1 510.4,1621.2 510.7,1618.7 510.9,1622.6 511.2,1618.3 511.4,1621.4 511.7,1618.3 511.9,1621.1 512.2,1617 512.5,1621.1 512.7,1618.3 513,1621.5 513.2,1619 513.5,1621.7 513.7,1619.3 514,1622 514.2,1619.6 514.5,1626.4 514.7,1615.5 515,1625.6 515.2,1620.1 515.5,1623.4 515.7,1621.6 516,1627.4 516.2,1618.7 516.5,1629.1 516.7,1622.1 517,1623.9 517.2,1620.5 517.5,1624.5 517.7,1620.9 518,1624.3 518.2,1621.7 518.5,1625.5 518.7,1622.4 519,1626.2 519.2,1623.5 519.5,1626.5 519.7,1619.1 520,1632.9 520.2,1620.6 520.5,1628.5 520.7,1626.2 521,1628.9 521.2,1624.5 521.5,1631.4 521.7,1624.1 522,1630.1 522.2,1628.1 522.5,1632 522.7,1625.9 523,1631.4 523.2,1627.4 523.5,1631.6 523.7,1626.2 524,1634.1 524.2,1627 524.5,1632 524.7,1629.8 525,1632.2 525.2,1628.6 525.5,1632.1 525.7,1629.2 526,1632.5 526.2,1629.8 526.5,1632.3 526.7,1630.3 527,1632.8 527.2,1630.6 527.5,1632.5 527.7,1630.6 528,1634.6 528.2,1631.2 528.5,1634.2 528.7,1631.4 529,1634.7 529.2,1632.5 529.5,1637.7 529.7,1631.8 530,1638 530.2,1633.7 530.5,1637.7 530.7,1635.2 531,1637.9 531.2,1631.4 531.5,1640.6 531.7,1632.5 532,1636.9 532.2,1634 532.5,1636.4 532.7,1634 533,1637.7 533.2,1634.7 533.5,1637.9 533.7,1629.9 534,1642 534.2,1629.6 534.5,1642.9 534.7,1629.9 535,1642.7 535.2,1634.9 535.5,1637 535.7,1633.8 536,1637.3 536.2,1633.5 536.5,1637.9 536.7,1633.7 537,1636.5 537.2,1633.5 537.5,1636.2 537.7,1633.9 538,1637.9 538.2,1634.1 538.5,1636.9 538.7,1633.8 539,1637.8 539.2,1632.5 539.5,1638.4 539.7,1631.3 540,1636.8 540.2,1634.2 540.5,1636.7 540.7,1633.8 541,1636.2 541.2,1632.6 541.5,1635.3 541.7,1632.9 542,1635 542.2,1632.4 542.5,1639.2 542.7,1626.6 543,1638.6 543.2,1626.6 543.5,1636 543.7,1626 544,1631.9 544.2,1628 544.5,1631.6 544.7,1627.2 545,1631 545.2,1626.4 545.5,1631.9 545.7,1625.1 546,1629 546.2,1625.7 546.5,1628.3 546.7,1624.5 547,1628.5 547.2,1625.1 547.5,1627.9 547.7,1624.5 548,1627.2 548.2,1624.6 548.5,1627.4 548.7,1623.3 549,1627.3 549.2,1623.8 549.5,1626.5 549.7,1622.9 550,1625.6 550.2,1622.6 550.5,1625 550.7,1620.6 551,1624.4 551.2,1620.6 551.5,1624.2 551.7,1621.2 552,1623 552.2,1620.7 552.5,1622.9 552.7,1619.8 553,1621.6 553.2,1613.8 553.5,1627.3 553.7,1613.7 554,1622.1 554.2,1618.9 554.5,1622.1 554.7,1619.6 555,1621.9 555.2,1619.2 555.5,1621.5 555.7,1617.9 556,1620.7 556.2,1615.4 556.5,1622.5 556.7,1616.1 557,1620.7 557.2,1617 557.5,1620.5 557.7,1618.1 558,1625.4 558.2,1612.2 558.5,1625.1 558.7,1618 559,1621.1 559.2,1618.2 559.5,1621.6 559.7,1617.9 560,1620.9 560.2,1614.3 560.5,1621.4 560.7,1616.6 561,1619.5 561.2,1616.2 561.5,1620.1 561.7,1615.9 562,1618.8 562.2,1615.1 562.5,1620.7 562.7,1617.1 563,1619.9 563.2,1615.1 563.5,1620.6 563.7,1616.5 564,1618.8 564.2,1615.9 564.5,1618.5 564.7,1616.1 565,1618.6 565.2,1615.8 565.5,1618.6 565.7,1613.2 566,1618.8 566.2,1613.8 566.5,1616.7 566.7,1612.3 567,1620.4 567.2,1609.3 567.5,1620.5 567.7,1610.1 568,1618.4 568.2,1607.8 568.5,1614.3 568.7,1612.3 569,1615.1 569.2,1611.7 569.5,1615.4 569.7,1611.5 570,1615.3 570.2,1612.6 570.5,1615.9 570.7,1611.6 571,1614.7 571.2,1612 571.5,1614.8 571.7,1611.3 572,1614.5 572.2,1611 572.5,1614.1 572.7,1611.8 573,1614.4 573.2,1607 573.5,1619 573.7,1606.5 574,1614.7 574.2,1611.5 574.5,1614.9 574.7,1612.2 575,1614.7 575.2,1611.8 575.5,1614.3 575.7,1610.4 576,1613.9 576.2,1610.5 576.5,1614.1 576.7,1612.3 577,1614.9 577.2,1612.1 577.5,1614.7 577.7,1611.4 578,1614.5 578.2,1611.4 578.5,1614.7 578.7,1611.8 579,1618.8 579.2,1609.2 579.5,1617.7 579.7,1612.1 580,1616.7 580.2,1609.6 580.5,1614.9 580.7,1611.8 581,1615.2 581.2,1609.3 581.5,1619.3 581.7,1609.1 582,1619.7 582.2,1609.1 582.5,1619.1 582.7,1611.2 583,1616.2 583.2,1612.4 583.5,1618.3 583.7,1613.4 584,1616.8 584.2,1610.7 584.5,1616.6 584.7,1612.1 585,1615 585.2,1611.8 585.5,1616.9 585.7,1610.8 586,1615.4 586.2,1612.4 586.5,1615.5 586.7,1607.3 587,1619.6 587.2,1607.5 587.5,1616.1 587.7,1612.9 588,1616.4 588.2,1612.9 588.5,1615.9 588.7,1612.5 589,1616 589.2,1613.2 589.5,1616.5 589.7,1611.9 590,1617.4 590.2,1612.1 590.5,1615.4 590.7,1613.2 591,1616 591.2,1612.1 591.5,1616.8 591.7,1610 592,1616.8 592.2,1608.9 592.5,1613.4 592.7,1610.3 593,1613.6 593.2,1611.3 593.5,1613.7 593.7,1610.3 594,1616.4 594.2,1611 594.5,1615.6 594.7,1612.6 595,1616.1 595.2,1613.7 595.5,1616.3 595.7,1613.7 596,1620.6 596.2,1609.2 596.5,1620.1 596.7,1613.1 597,1615.5 597.2,1612 597.5,1619.5 597.7,1608.5 598,1619.4 598.2,1609.7 598.5,1619.6 598.7,1610.3 599,1616.4 599.2,1613 599.5,1615.2 599.7,1613 600,1616.6 600.2,1610.6 600.5,1616.5 600.7,1612.9 601,1616.4 601.2,1613.4 601.5,1617.1 601.7,1613.2 602,1617.2 602.2,1615.3 602.5,1623.6 602.7,1610.2 603,1622.3 603.2,1613.7 603.5,1617 603.7,1613.8 604,1617.4 604.2,1614.5 604.5,1621.7 604.7,1609 605,1621.7 605.2,1613.7 605.5,1616.3 605.7,1613.5 606,1615.9 606.2,1613.4 606.5,1617.3 606.7,1612.4 607,1618.8 607.2,1614.5 607.5,1618.1 607.7,1613.6 608,1618 608.2,1613.4 608.5,1618.4 608.7,1612.8 609,1616.4 609.2,1612.9 609.5,1615.3 609.7,1612.3 610,1614.4 610.2,1611.5 610.5,1618.7 610.7,1605.5 611,1617.7 611.2,1609.1 611.5,1612.2 611.7,1609.2 612,1613.9 612.2,1604.3 612.5,1614.1 612.7,1607.2 613,1609.6 613.2,1607.9 613.5,1611.5 613.7,1606.2 614,1611.9 614.2,1604.7 614.5,1611.4 614.7,1603 615,1614.6 615.2,1603.1 615.5,1609.5 615.7,1603.9 616,1613.2 616.2,1603.1 616.5,1609.6 616.7,1604.5 617,1613.3 617.2,1602.2 617.5,1609 617.7,1606.2 618,1609.9 618.2,1605.9 618.5,1609.5 618.7,1606.6 619,1609.4 619.2,1605 619.5,1608.2 619.7,1604.5 620,1606.4 620.2,1604.1 620.5,1605.6 620.7,1597.9 621,1610.3 621.2,1597.2 621.5,1604.3 621.7,1601.9 622,1606.1 622.2,1600.2 622.5,1604.4 622.7,1600 623,1603.4 623.2,1599.7 623.5,1605.1 623.7,1600.9 624,1603.6 624.2,1601.3 624.5,1603.2 624.7,1598.1 625,1603.5 625.2,1599.5 625.5,1602.7 625.7,1600.3 626,1602.7 626.2,1599 626.5,1602.3 626.7,1596.6 627,1606.2 627.2,1596.5 627.5,1602.7 627.7,1599.8 628,1603.2 628.2,1600.5 628.5,1604.2 628.7,1601.4 629,1604.7 629.2,1600.7 629.5,1606 629.7,1600 630,1605.9 630.2,1602.9 630.5,1606.7 630.7,1602.1 631,1610.3 631.2,1603.1 631.5,1607.9 631.7,1604.8 632,1607.6 632.2,1604.7 632.5,1607.4 632.7,1604.7 633,1609.1 633.2,1605.8 633.5,1608.4 633.7,1606.6 634,1609.6 634.2,1606 634.5,1609.4 634.7,1606 635,1609.3 635.2,1606.3 635.5,1611.1 635.7,1608 636,1611.9 636.2,1609 636.5,1611.9 636.7,1608.8 637,1610.9 637.2,1607.7 637.5,1610.1 637.7,1607.6 638,1611.8 638.2,1605.7 638.5,1611.8 638.7,1608.3 639,1612.3 639.2,1609.2 639.5,1614.8 639.7,1610.8 640,1615.2 640.2,1611 640.5,1616.4 640.7,1610.7 641,1615.7 641.2,1611.9 641.5,1614.9 641.7,1612.3 642,1615.1 642.2,1612.6 642.5,1615.9 642.7,1613 643,1619.2 643.2,1610.9 643.5,1620.8 643.7,1614 644,1617.8 644.2,1613.8 644.5,1618 644.7,1615.4 645,1617.8 645.2,1615.8 645.5,1618.1 645.7,1615.8 646,1620.8 646.2,1617 646.5,1621.5 646.7,1616.2 647,1620.2 647.2,1616.1 647.5,1620.9 647.7,1614.8 648,1619.5 648.2,1617.5 648.5,1620.7 648.7,1617.6 649,1620.8 649.2,1617 649.5,1620.6 649.7,1617 650,1620.8 650.2,1617.8 650.5,1620.1 650.7,1615.6 651,1620.2 651.2,1616.5 651.5,1619.4 651.7,1616.9 652,1621.2 652.2,1616 652.5,1619.9 652.7,1616.6 653,1619 653.2,1616.1 653.5,1619.2 653.7,1615.8 654,1619.5 654.2,1616.6 654.5,1620.6 654.7,1616.5 655,1621.2 655.2,1613 655.5,1624.1 655.7,1613 656,1619.6 656.2,1617 656.5,1620.2 656.7,1617.4 657,1619.8 657.2,1615.8 657.5,1620.8 657.7,1615.6 658,1619.3 658.2,1615.8 658.5,1618.8 658.7,1616.6 659,1619 659.2,1616.7 659.5,1619.9 659.7,1613.1 660,1623.4 660.2,1613.4 660.5,1619.6 660.7,1616.5 661,1618.8 661.2,1615.9 661.5,1619.6 661.7,1616.6 662,1621.8 662.2,1614.6 662.5,1621.6 662.7,1611.8 663,1624.7 663.2,1612 663.5,1620.8 663.7,1616.9 664,1621 664.2,1618.3 664.5,1620.3 664.7,1617.8 665,1621.8 665.2,1612.6 665.5,1626.5 665.7,1613.5 666,1620.9 666.2,1618.2 666.5,1620.2 666.7,1617 667,1618.8 667.2,1616.7 667.5,1618.8 667.7,1615.7 668,1618.6 668.2,1615.6 668.5,1620.9 668.7,1615.7 669,1618.3 669.2,1615.6 669.5,1618.5 669.7,1614.8 670,1618.3 670.2,1614.9 670.5,1618.4 670.7,1614.5 671,1618.6 671.2,1613.3 671.5,1620.3 671.7,1612.7 672,1617.8 672.2,1615.1 672.5,1618.3 672.7,1614.4 673,1618.1 673.2,1614.3 673.5,1618.3 673.7,1613 674,1617.5 674.2,1614.4 674.5,1617.2 674.7,1614.4 675,1617.8 675.2,1611.4 675.5,1622.4 675.7,1611.3 676,1618.6 676.2,1616.8 676.5,1620 676.7,1617.7 677,1621.2 677.2,1617.3 677.5,1619.8 677.7,1617.4 678,1620.6 678.2,1617.9 678.5,1621.2 678.7,1618.1 679,1621.2 679.2,1618.4 679.5,1621.1 679.7,1618.1 680,1620.8 680.2,1617.6 680.5,1620.6 680.7,1616.6 681,1620.7 681.2,1615.5 681.5,1619.3 681.7,1612.7 682,1624.1 682.2,1612.9 682.5,1619.5 682.7,1616.6 683,1619.7 683.2,1617.1 683.5,1619.9 683.7,1615.2 684,1619.7 684.2,1616.1 684.5,1618.6 684.7,1615 685,1618.8 685.2,1615.2 685.5,1619 685.7,1616.6 686,1618.3 686.2,1616.2 686.5,1618.7 686.7,1615.8 687,1619.5 687.2,1616.5 687.5,1618.5 687.7,1616 688,1619.1 688.2,1613.2 688.5,1623 688.7,1613.5 689,1620.7 689.2,1615.7 689.5,1620.5 689.7,1616.8 690,1619.4 690.2,1617.2 690.5,1619.8 690.7,1616.5 691,1619.4 691.2,1616.9 691.5,1621.2 691.7,1617.3 692,1620 692.2,1617.3 692.5,1619.8 692.7,1617.1 693,1619.4 693.2,1616.9 693.5,1618.5 693.7,1615.3 694,1619.5 694.2,1613.7 694.5,1617.8 694.7,1614.2 695,1619.3 695.2,1614.7 695.5,1617.7 695.7,1614.1 696,1618.1 696.2,1615 696.5,1618.2 696.7,1609.7 697,1622.2 697.2,1609 697.5,1618.6 697.7,1614.1 698,1619.2 698.2,1614.8 698.5,1617.9 698.7,1614.7 699,1617.4 699.2,1614.4 699.5,1617.6 699.7,1614.7 700,1616.9 700.2,1614.5 700.5,1620.3 700.7,1610.5 701,1620.5 701.2,1614.3 701.5,1617.6 701.7,1613 702,1617.6 702.2,1611.1 702.5,1616.4 702.7,1610.5 703,1615.2 703.2,1611 703.5,1615.2 703.7,1610.6 704,1615.6 704.2,1612.6 704.5,1614.4 704.7,1612 705,1614.3 705.2,1611.1 705.5,1618.5 705.7,1607.8 706,1618.2 706.2,1607.9 706.5,1615.1 706.7,1610.4 707,1614.7 707.2,1612 707.5,1615.8 707.7,1610.9 708,1616.5 708.2,1613 708.5,1616.2 708.7,1611.4 709,1615.4 709.2,1612.4 709.5,1617.6 709.7,1611.9 710,1617.9 710.2,1613.7 710.5,1617.3 710.7,1612.9 711,1616 711.2,1613.1 711.5,1615.6 711.7,1611.9 712,1616.8 712.2,1611.7 712.5,1619.7 712.7,1607.1 713,1620 713.2,1612.5 713.5,1614.8 713.7,1610.8 714,1614 714.2,1610.7 714.5,1613.1 714.7,1610.3 715,1614.3 715.2,1611.5 715.5,1614.2 715.7,1612.4 716,1614.5 716.2,1612 716.5,1614.4 716.7,1611.9 717,1615.3 717.2,1610.8 717.5,1613.8 717.7,1611.2 718,1614.4 718.2,1612.3 718.5,1615.4 718.7,1612.5 719,1616 719.2,1611.1 719.5,1616.2 719.7,1613 720,1615.9 720.2,1613.3 720.5,1615.2 720.7,1612.6 721,1614.8 721.2,1612.4 721.5,1615.3 721.7,1612.9 722,1614.7 722.2,1612.3 722.5,1615.6 722.7,1609.8 723,1616.5 723.2,1612.6 723.5,1616.4 723.7,1613 724,1615.3 724.2,1611.8 724.5,1617.4 724.7,1612 725,1616.4 725.2,1611.7 725.5,1616 725.7,1614.7 726,1617.6 726.2,1613.3 726.5,1618.8 726.7,1613.7 727,1618.4 727.2,1614.5 727.5,1618.6 727.7,1613.8 728,1619.6 728.2,1612.5 728.5,1617.8 728.7,1614 729,1616.5 729.2,1613.8 729.5,1616.6 729.7,1614.1 730,1617.6 730.2,1614.4 730.5,1618.9 730.7,1611.8 731,1619 731.2,1613.3 731.5,1616.2 731.7,1614.1 732,1619.2 732.2,1614.7 732.5,1617.9 732.7,1610.8 733,1624.5 733.2,1611.8 733.5,1620 733.7,1616.2 734,1620.8 734.2,1618.8 734.5,1621.8 734.7,1619 735,1627.4 735.2,1615.3 735.5,1628.2 735.7,1620.7 736,1624.3 736.2,1622.2 736.5,1625.6 736.7,1622.4 737,1624.3 737.2,1622.2" fill="none" stroke="#ff0000" stroke-width="0.8"/>
<path d="M385.6 1565 V1486.5 H521" stroke="#231f20" stroke-width="5.5" fill="none"/>
<text x="453" y="1475" font-size="31.0" fill="#231f20" text-anchor="middle">500 ms</text>
<text x="373" y="1526" font-size="31.0" fill="#231f20" text-anchor="middle" transform="rotate(-90 373 1526)">10 mV</text>
<text x="584" y="1705.5" font-size="31.0" fill="#58626b" text-anchor="start">ACSF</text>
<text x="584" y="1745" font-size="31.0" fill="#ff0000" text-anchor="start">ACh</text>
<text x="743.8" y="1005" font-size="46.5" fill="#231f20" text-anchor="start">g</text>
<circle cx="1082.5" cy="1065" r="92.5" fill="#fff" stroke="#231f20" stroke-width="2"/>
<text x="1082.5" y="1059.7" font-size="31.0" fill="#000" text-anchor="middle">IPSPs</text>
<text x="1082.5" y="1094.7" font-size="31.0" fill="#000" text-anchor="middle">100%</text>
<text x="1082.5" y="1206" font-size="31.0" fill="#58626b" text-anchor="middle">ACSF</text>
<path d="M1000 1470.5 L1000.00 1259.50 A211 211 0 1 1 829.30 1594.52 Z" fill="#606060" stroke="#000" stroke-width="1.2" stroke-linejoin="miter"/>
<path d="M1000 1470.5 L829.30 1594.52 A211 211 0 0 1 789.00 1470.50 Z" fill="#c0c0c0" stroke="#000" stroke-width="1.2" stroke-linejoin="miter"/>
<path d="M984.4 1453 L773.40 1453.00 A211 211 0 0 1 984.40 1242.00 Z" fill="#fff" stroke="#222" stroke-width="1.2" stroke-linejoin="miter"/>
<text x="892" y="1346" font-size="31.0" fill="#000" text-anchor="middle">IPSPs</text>
<text x="892" y="1381.6" font-size="31.0" fill="#000" text-anchor="middle">25%</text>
<text x="855.6" y="1510" font-size="31.0" fill="#000" text-anchor="middle">EPSPs</text>
<text x="855.6" y="1545.5" font-size="31.0" fill="#000" text-anchor="middle">10%</text>
<text x="1105.5" y="1479.6" font-size="31.0" fill="#fff" text-anchor="middle">APs 65%</text>
<text x="986" y="1744" font-size="31.0" fill="#ff0000" text-anchor="middle">ACh</text>
<line x1="1373.3" y1="1211" x2="1373.3" y2="1682.4" stroke="#000" stroke-width="2"/>
<line x1="1361.8" y1="1212" x2="1373.3" y2="1212" stroke="#000" stroke-width="2"/>
<text x="1356.8" y="1221.6" font-size="31.6" fill="#000" text-anchor="end">5</text>
<line x1="1361.8" y1="1305.8" x2="1373.3" y2="1305.8" stroke="#000" stroke-width="2"/>
<text x="1356.8" y="1315.3999999999999" font-size="31.6" fill="#000" text-anchor="end">0</text>
<line x1="1361.8" y1="1493.8" x2="1373.3" y2="1493.8" stroke="#000" stroke-width="2"/>
<text x="1356.8" y="1503.3999999999999" font-size="31.6" fill="#000" text-anchor="end">-10</text>
<line x1="1361.8" y1="1681.4" x2="1373.3" y2="1681.4" stroke="#000" stroke-width="2"/>
<text x="1356.8" y="1691.0" font-size="31.6" fill="#000" text-anchor="end">-20</text>
<line x1="1381" y1="1305.8" x2="1741" y2="1305.8" stroke="#000" stroke-width="2.2" stroke-dasharray="2.2 11"/>
<line x1="1477.2" y1="1362.6" x2="1712.6" y2="1269.8" stroke="#555" stroke-width="0.9"/>
<line x1="1477.2" y1="1367.1" x2="1712.6" y2="1023.8" stroke="#555" stroke-width="0.9"/>
<line x1="1477.2" y1="1381.3" x2="1712.6" y2="1023.8" stroke="#555" stroke-width="0.9"/>
<line x1="1477.2" y1="1398.8" x2="1712.6" y2="1023.8" stroke="#555" stroke-width="0.9"/>
<line x1="1477.2" y1="1408.4" x2="1712.6" y2="1023.8" stroke="#555" stroke-width="0.9"/>
<line x1="1477.2" y1="1436.6" x2="1712.6" y2="1023.8" stroke="#555" stroke-width="0.9"/>
<line x1="1477.2" y1="1438.5" x2="1712.6" y2="1023.8" stroke="#555" stroke-width="0.9"/>
<line x1="1477.2" y1="1440.7" x2="1712.6" y2="1369.7" stroke="#555" stroke-width="0.9"/>
<line x1="1477.2" y1="1443.4" x2="1712.6" y2="1023.8" stroke="#555" stroke-width="0.9"/>
<line x1="1477.2" y1="1454.9" x2="1712.6" y2="1443.9" stroke="#555" stroke-width="0.9"/>
<line x1="1477.2" y1="1457" x2="1712.6" y2="1023.8" stroke="#555" stroke-width="0.9"/>
<line x1="1477.2" y1="1459.5" x2="1712.6" y2="1407.5" stroke="#555" stroke-width="0.9"/>
<line x1="1477.2" y1="1466.3" x2="1712.6" y2="1023.8" stroke="#555" stroke-width="0.9"/>
<line x1="1477.2" y1="1489.7" x2="1712.6" y2="1023.8" stroke="#555" stroke-width="0.9"/>
<line x1="1477.2" y1="1503.9" x2="1712.6" y2="1492" stroke="#555" stroke-width="0.9"/>
<line x1="1477.2" y1="1521.3" x2="1712.6" y2="1390.7" stroke="#555" stroke-width="0.9"/>
<line x1="1477.2" y1="1532.1" x2="1712.6" y2="1218.5" stroke="#555" stroke-width="0.9"/>
<line x1="1477.2" y1="1565.3" x2="1712.6" y2="1023.8" stroke="#555" stroke-width="0.9"/>
<line x1="1477.2" y1="1582" x2="1712.6" y2="1023.8" stroke="#555" stroke-width="0.9"/>
<line x1="1477.2" y1="1672.5" x2="1712.6" y2="1023.8" stroke="#555" stroke-width="0.9"/>
<circle cx="1477.2" cy="1362.6" r="6.4" fill="#c0c0c0" stroke="#000" stroke-width="2.2"/>
<circle cx="1477.2" cy="1408.4" r="6.4" fill="#c0c0c0" stroke="#000" stroke-width="2.2"/>
<circle cx="1477.2" cy="1436.6" r="6.4" fill="#c0c0c0" stroke="#000" stroke-width="2.2"/>
<circle cx="1477.2" cy="1438.5" r="6.4" fill="#c0c0c0" stroke="#000" stroke-width="2.2"/>
<circle cx="1477.2" cy="1443.4" r="6.4" fill="#c0c0c0" stroke="#000" stroke-width="2.2"/>
<circle cx="1477.2" cy="1466.3" r="6.4" fill="#c0c0c0" stroke="#000" stroke-width="2.2"/>
<circle cx="1477.2" cy="1454.9" r="6.4" fill="#c0c0c0" stroke="#000" stroke-width="2.2"/>
<circle cx="1477.2" cy="1457" r="6.4" fill="#c0c0c0" stroke="#000" stroke-width="2.2"/>
<circle cx="1477.2" cy="1532.1" r="6.4" fill="#c0c0c0" stroke="#000" stroke-width="2.2"/>
<circle cx="1477.2" cy="1489.7" r="6.4" fill="#c0c0c0" stroke="#000" stroke-width="2.2"/>
<circle cx="1477.2" cy="1503.9" r="6.4" fill="#c0c0c0" stroke="#000" stroke-width="2.2"/>
<circle cx="1477.2" cy="1565.3" r="6.4" fill="#c0c0c0" stroke="#000" stroke-width="2.2"/>
<circle cx="1477.2" cy="1582" r="6.4" fill="#c0c0c0" stroke="#000" stroke-width="2.2"/>
<circle cx="1477.2" cy="1672.5" r="6.4" fill="#c0c0c0" stroke="#000" stroke-width="2.2"/>
<circle cx="1477.2" cy="1367.1" r="6.4" fill="#c0c0c0" stroke="#000" stroke-width="2.2"/>
<circle cx="1477.2" cy="1381.3" r="6.4" fill="#c0c0c0" stroke="#000" stroke-width="2.2"/>
<circle cx="1477.2" cy="1398.8" r="6.4" fill="#c0c0c0" stroke="#000" stroke-width="2.2"/>
<circle cx="1477.2" cy="1440.7" r="6.4" fill="#c0c0c0" stroke="#000" stroke-width="2.2"/>
<circle cx="1477.2" cy="1459.5" r="6.4" fill="#c0c0c0" stroke="#000" stroke-width="2.2"/>
<circle cx="1477.2" cy="1521.3" r="6.4" fill="#c0c0c0" stroke="#000" stroke-width="2.2"/>
<circle cx="1712.6" cy="1218.5" r="6.4" fill="#ff0000" stroke="#000" stroke-width="2.2"/>
<circle cx="1712.6" cy="1269.8" r="6.4" fill="#ff0000" stroke="#000" stroke-width="2.2"/>
<circle cx="1712.6" cy="1369.7" r="6.4" fill="#ff0000" stroke="#000" stroke-width="2.2"/>
<circle cx="1712.6" cy="1390.7" r="6.4" fill="#ff0000" stroke="#000" stroke-width="2.2"/>
<circle cx="1712.6" cy="1407.5" r="6.4" fill="#ff0000" stroke="#000" stroke-width="2.2"/>
<circle cx="1712.6" cy="1443.9" r="6.4" fill="#ff0000" stroke="#000" stroke-width="2.2"/>
<circle cx="1712.6" cy="1492" r="6.4" fill="#ff0000" stroke="#000" stroke-width="2.2"/>
<circle cx="1712.6" cy="1023.8" r="6.4" fill="#ff0000" stroke="#000" stroke-width="2.2"/>
<text x="1630" y="1034" font-size="31.0" fill="#231f20" text-anchor="start">APs</text>
<text x="1698.4" y="1010.2" font-family="'DejaVu Sans',sans-serif" font-size="56" fill="#231f20" stroke="#231f20" stroke-width="2.2" stroke-linejoin="miter">*</text>
<text x="1477.4" y="1744" font-size="31.0" fill="#231f20" text-anchor="middle">ACSF</text>
<text x="1712.6" y="1744" font-size="31.0" fill="#231f20" text-anchor="middle">+ACh</text>
<text x="1288" y="1447" font-size="31.0" fill="#231f20" text-anchor="middle" transform="rotate(-90 1288 1447)">PSP amplitude (mV)</text>
<text x="41.3" y="1818.1" font-size="46.5" fill="#231f20" text-anchor="start">h</text>
<line x1="149" y1="1837.3" x2="149" y2="2399.1" stroke="#000" stroke-width="1.5"/>
<line x1="138.7" y1="2388.5" x2="863" y2="2388.5" stroke="#000" stroke-width="1.5"/>
<line x1="138.7" y1="1838" x2="149" y2="1838" stroke="#000" stroke-width="1.5"/>
<text x="125.5" y="1849.2" font-size="31.6" fill="#000" text-anchor="end">1.0</text>
<line x1="138.7" y1="2113.25" x2="149" y2="2113.25" stroke="#000" stroke-width="1.5"/>
<text x="125.5" y="2124.45" font-size="31.6" fill="#000" text-anchor="end">0.5</text>
<line x1="138.7" y1="2388.5" x2="149" y2="2388.5" stroke="#000" stroke-width="1.5"/>
<text x="125.5" y="2399.7" font-size="31.6" fill="#000" text-anchor="end">0</text>
<line x1="149" y1="2388.5" x2="149" y2="2399.1" stroke="#000" stroke-width="1.5"/>
<text x="149" y="2438.0" font-size="31.6" fill="#000" text-anchor="middle">-20</text>
<line x1="386.8" y1="2388.5" x2="386.8" y2="2399.1" stroke="#000" stroke-width="1.5"/>
<text x="386.8" y="2438.0" font-size="31.6" fill="#000" text-anchor="middle">-10</text>
<line x1="624.6" y1="2388.5" x2="624.6" y2="2399.1" stroke="#000" stroke-width="1.5"/>
<text x="624.6" y="2438.0" font-size="31.6" fill="#000" text-anchor="middle">0</text>
<line x1="863" y1="2388.5" x2="863" y2="2399.1" stroke="#000" stroke-width="1.5"/>
<text x="863" y="2438.0" font-size="31.6" fill="#000" text-anchor="middle">APs</text>
<text x="61" y="2113.25" font-size="31.0" fill="#231f20" text-anchor="middle" transform="rotate(-90 61 2113.25)">Cumulative probability</text>
<text x="506" y="2493.2" font-size="31.0" fill="#231f20" text-anchor="middle">Amplitude (mV)</text>
<path d="M160.9 2361.0 H275.0 V2333.4 H296.4 V2305.9 H338.1 V2278.4 H351.1 V2250.9 H374.9 V2223.3 H391.6 V2195.8 H420.8 V2168.3 H429.6 V2140.8 H432.0 V2113.2 H437.5 V2085.7 H451.0 V2058.2 H452.2 V2030.7 H454.1 V2003.2 H458.9 V1975.6 H495.2 V1948.1 H507.1 V1920.6 H529.0 V1893.0 H547.3 V1865.5 H552.5 V1838.0" stroke="#000" stroke-width="3" fill="none" stroke-dasharray="16.5 17"/>
<path d="M389.7 2361.0 H450.5 V2333.4 H496.7 V2305.9 H517.1 V2278.4 H544.2 V2250.9 H671.2 V2223.3 H735.4 V2195.8 H863 V1838.0" stroke="#000" stroke-width="3" fill="none" stroke-linejoin="miter"/>
<rect x="795" y="2191.825" width="17" height="8" fill="#fff"/>
<path d="M788.9 2183.5 C800.5 2190.8 784.5 2201.3 795.9 2209.6" stroke="#231f20" stroke-width="3.8" fill="none" stroke-linecap="round"/>
<path d="M810.0 2183.5 C821.6 2190.8 805.6 2201.3 817.0 2209.6" stroke="#231f20" stroke-width="3.8" fill="none" stroke-linecap="round"/>
<rect x="795" y="2384.5" width="17" height="8" fill="#fff"/>
<path d="M788.9 2376.2 C800.5 2383.5 784.5 2394.0 795.9 2402.3" stroke="#231f20" stroke-width="3.8" fill="none" stroke-linecap="round"/>
<path d="M810.0 2376.2 C821.6 2383.5 805.6 2394.0 817.0 2402.3" stroke="#231f20" stroke-width="3.8" fill="none" stroke-linecap="round"/>
<text x="600.7" y="2259.9" font-family="'DejaVu Sans',sans-serif" font-size="56" fill="#231f20" stroke="#231f20" stroke-width="2.2" stroke-linejoin="miter">*</text>
<line x1="194.6" y1="1874.8" x2="248.8" y2="1874.8" stroke="#000" stroke-width="5.2" stroke-dasharray="27 16.6"/>
<line x1="194.6" y1="1917.9" x2="248.8" y2="1917.9" stroke="#000" stroke-width="5.2"/>
<text x="265" y="1885.5" font-size="31.0" fill="#231f20" text-anchor="start">ACSF</text>
<text x="265" y="1928.5" font-size="31.0" fill="#231f20" text-anchor="start">ACh</text>
<text x="938.5" y="1818.2" font-size="46.5" fill="#231f20" text-anchor="start">i</text>
<line x1="1038" y1="1844.3" x2="1038" y2="2399.2" stroke="#000" stroke-width="1.5"/>
<line x1="1030" y1="2393" x2="1750.8" y2="2393" stroke="#000" stroke-width="1.5"/>
<line x1="1030" y1="1845" x2="1038" y2="1845" stroke="#000" stroke-width="1.5"/>
<text x="1016" y="1856.2" font-size="31.6" fill="#000" text-anchor="end">1.0</text>
<line x1="1030" y1="2119.0" x2="1038" y2="2119.0" stroke="#000" stroke-width="1.5"/>
<text x="1016" y="2130.2" font-size="31.6" fill="#000" text-anchor="end">0.5</text>
<line x1="1030" y1="2393" x2="1038" y2="2393" stroke="#000" stroke-width="1.5"/>
<text x="1016" y="2404.2" font-size="31.6" fill="#000" text-anchor="end">0</text>
<line x1="1038" y1="2393" x2="1038" y2="2399.2" stroke="#000" stroke-width="1.5"/>
<text x="1038" y="2439.3" font-size="31.6" fill="#000" text-anchor="middle">-20</text>
<line x1="1275.8" y1="2393" x2="1275.8" y2="2399.2" stroke="#000" stroke-width="1.5"/>
<text x="1275.8" y="2439.3" font-size="31.6" fill="#000" text-anchor="middle">-10</text>
<line x1="1513.6" y1="2393" x2="1513.6" y2="2399.2" stroke="#000" stroke-width="1.5"/>
<text x="1513.6" y="2439.3" font-size="31.6" fill="#000" text-anchor="middle">0</text>
<line x1="1750.8" y1="2393" x2="1750.8" y2="2399.2" stroke="#000" stroke-width="1.5"/>
<text x="1750.8" y="2439.3" font-size="31.6" fill="#000" text-anchor="middle">APs</text>
<text x="950" y="2119.0" font-size="31.0" fill="#231f20" text-anchor="middle" transform="rotate(-90 950 2119.0)">Cumulative probability</text>
<text x="1395" y="2493.2" font-size="31.0" fill="#231f20" text-anchor="middle">Amplitude (mV)</text>
<path d="M1212.1 2332.2 L1247.6 2332.2 L1247.6 2270.7 L1263.8 2270.7 L1263.8 2210.2 L1317.0 2210.2 L1317.0 2148.7 L1367.3 2148.7 L1367.3 2087.5 L1370.8 2087.5 L1370.8 2026.9 L1427.9 2026.9 L1427.9 1966.3 L1471.6 1966.3 L1471.6 1905.7 L1481.1 1905.7 L1481.1 1845.1" stroke="#000" stroke-width="3" fill="none" stroke-dasharray="16 10"/>
<path d="M1192.9 2324.5 L1279.2 2324.5 L1279.2 2256.0 L1289.0 2256.0 L1289.0 2187.4 L1337.7 2187.4 L1337.7 2118.8 L1380.0 2118.8 L1380.0 2050.5 L1388.0 2050.5 L1388.0 1982.0 L1406.3 1982.0 L1406.3 1913.7 L1479.6 1913.7 L1479.6 1845.1" stroke="#000" stroke-width="3.2" fill="none" stroke-dasharray="3.4 10.2"/>
<path d="M1278.7 2365.6 H1339.5 V2338.2 H1385.7 V2310.8 H1406.1 V2283.4 H1433.2 V2256.0 H1560.2 V2228.6 H1624.4 V2201.2 H1750.8 V1845.0" stroke="#000" stroke-width="3" fill="none" stroke-linejoin="miter"/>
<rect x="1673" y="2197.2" width="17" height="8" fill="#fff"/>
<path d="M1666.9 2188.9 C1678.5 2196.2 1662.5 2206.7 1673.9 2215.0" stroke="#231f20" stroke-width="3.8" fill="none" stroke-linecap="round"/>
<path d="M1687.9 2188.9 C1699.5 2196.2 1683.5 2206.7 1694.9 2215.0" stroke="#231f20" stroke-width="3.8" fill="none" stroke-linecap="round"/>
<rect x="1673" y="2389" width="17" height="8" fill="#fff"/>
<path d="M1666.9 2380.7 C1678.5 2388.0 1662.5 2398.5 1673.9 2406.8" stroke="#231f20" stroke-width="3.8" fill="none" stroke-linecap="round"/>
<path d="M1687.9 2380.7 C1699.5 2388.0 1683.5 2398.5 1694.9 2406.8" stroke="#231f20" stroke-width="3.8" fill="none" stroke-linecap="round"/>
<text x="1495.2" y="2259.9" font-family="'DejaVu Sans',sans-serif" font-size="56" fill="#231f20" stroke="#231f20" stroke-width="2.2" stroke-linejoin="miter">*</text>
<line x1="1089.7" y1="1890.3" x2="1145" y2="1890.3" stroke="#000" stroke-width="5.3" stroke-dasharray="27.6 16.2"/>
<line x1="1089.7" y1="1938.9" x2="1145.5" y2="1938.9" stroke="#000" stroke-width="5.6" stroke-dasharray="6 15.9"/>
<line x1="1089.7" y1="1987.5" x2="1145" y2="1987.5" stroke="#000" stroke-width="5.3"/>
<text x="1159.5" y="1901.2" font-size="31.0" fill="#231f20" text-anchor="start">5-HT</text>
<text x="1158" y="1950" font-size="31.0" fill="#231f20" text-anchor="start">NA</text>
<text x="1160" y="1998.5" font-size="31.0" fill="#231f20" text-anchor="start">ACh</text>
</svg>
</body></html>
